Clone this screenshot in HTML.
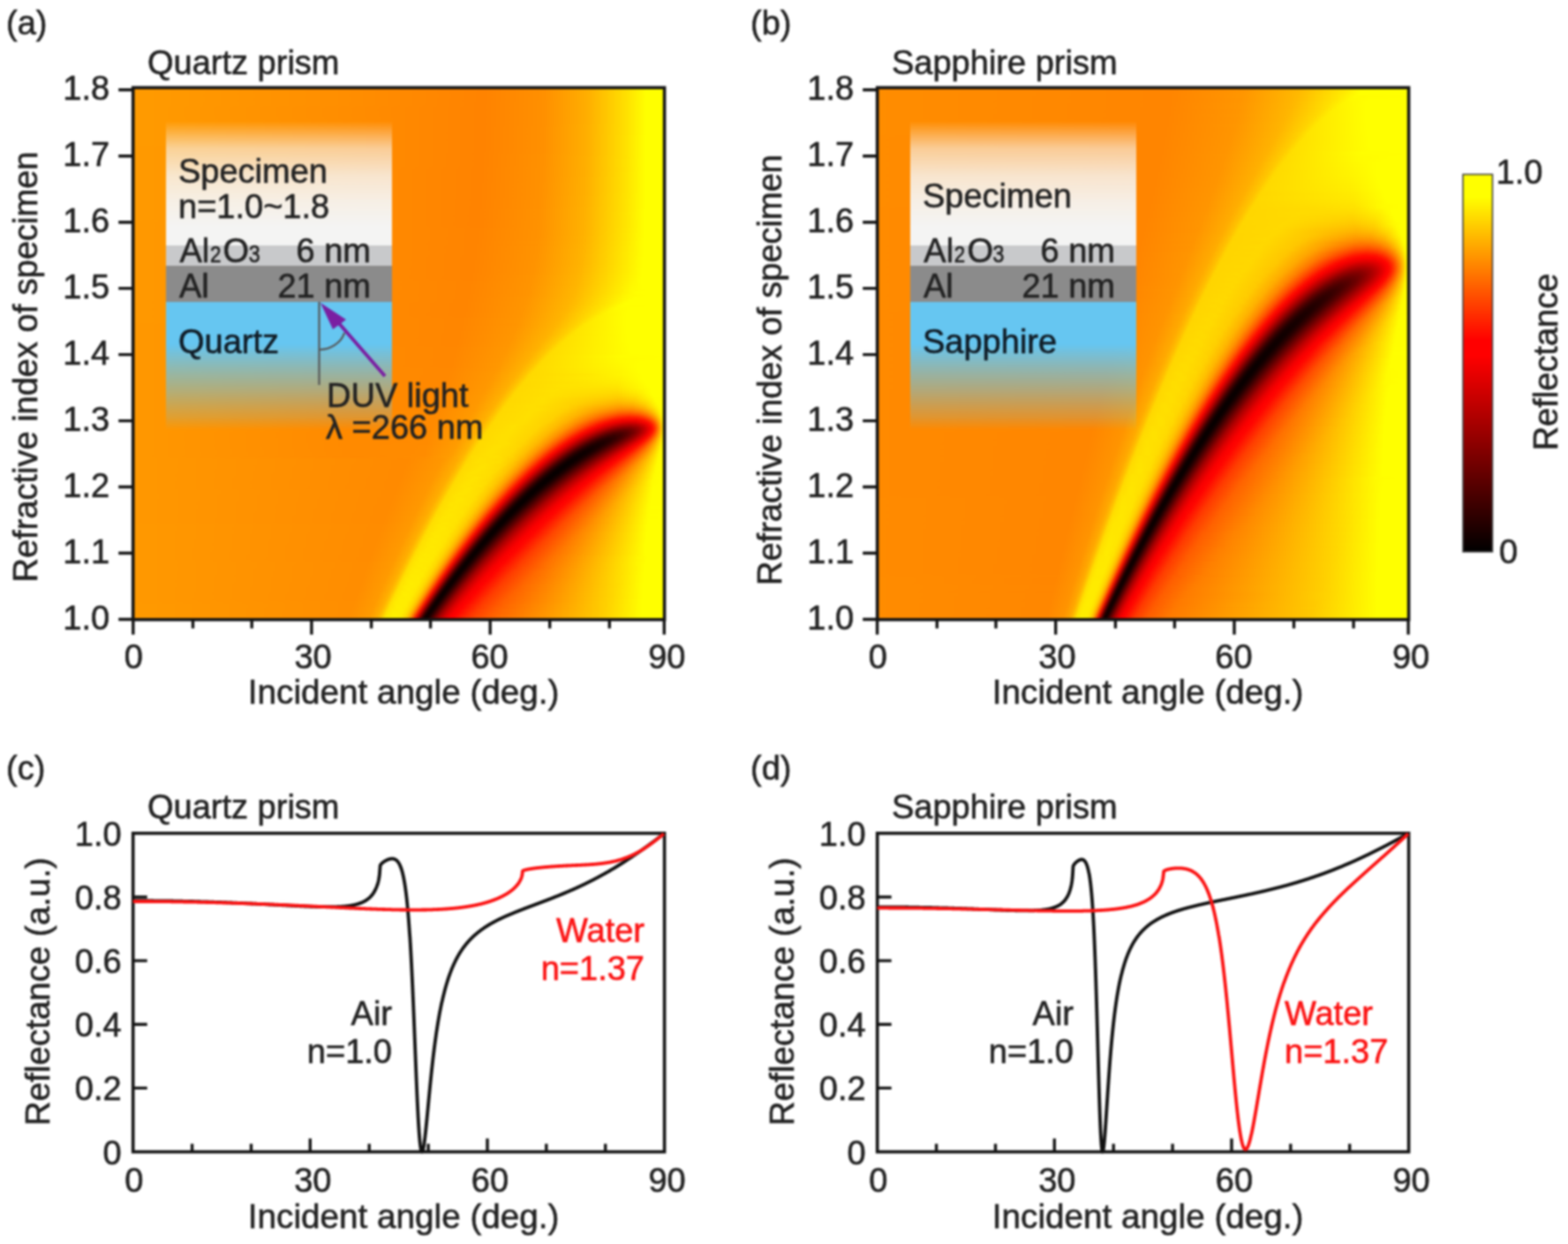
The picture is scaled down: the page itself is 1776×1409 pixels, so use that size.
<!DOCTYPE html>
<html><head><meta charset="utf-8"><style>
html,body{margin:0;padding:0;background:#fff}
body{width:1776px;height:1409px;position:relative;overflow:hidden}
#w{position:absolute;left:0;top:0;width:1776px;height:1409px;filter:blur(0.8px)}
.hm{position:absolute;overflow:hidden}
.hm i{display:block;width:100%}
.ins{position:absolute}
svg{position:absolute;left:0;top:0}
text{font-family:"Liberation Sans", Arial, sans-serif;font-size:38px;fill:#222;stroke:#222;stroke-width:.6px}
</style></head><body><div id="w">

<div class="hm" style="left:150.7px;top:99.3px;width:601.9px;height:602.5px">
<i style="height:3px;background:linear-gradient(90deg,#ff9b00 0px,#ff8f00 226px,#ff8300 398px,#ff9000 466px,#ffaf00 515px,#ffe100 559px,#ff0 581px,#ff0 602px)"></i>
<i style="height:3px;background:linear-gradient(90deg,#ff9b00 0px,#ff8f00 227px,#ff8300 398px,#ff9000 466px,#ffaf00 515px,#ffe100 559px,#ff0 581px,#ff0 602px)"></i>
<i style="height:3px;background:linear-gradient(90deg,#ff9b00 0px,#ff8f00 227px,#ff8300 398px,#ff9000 466px,#ffaf00 515px,#ffe100 559px,#ff0 581px,#ff0 602px)"></i>
<i style="height:3px;background:linear-gradient(90deg,#ff9b00 0px,#ff8f00 227px,#ff8300 398px,#ff9000 466px,#ffaf00 515px,#ffe100 559px,#ff0 581px,#ff0 602px)"></i>
<i style="height:3px;background:linear-gradient(90deg,#ff9b00 0px,#ff8f00 227px,#ff8300 398px,#ff9000 466px,#ffaf00 515px,#ffe100 559px,#ff0 581px,#ff0 602px)"></i>
<i style="height:3px;background:linear-gradient(90deg,#ff9b00 0px,#ff8f00 227px,#ff8300 397px,#ff9000 465px,#ffae00 514px,#ffe000 558px,#ff0 581px,#ff0 602px)"></i>
<i style="height:3px;background:linear-gradient(90deg,#ff9b00 0px,#ff8f00 227px,#ff8300 397px,#ff9000 465px,#ffae00 514px,#ffe000 558px,#ff0 581px,#ff0 602px)"></i>
<i style="height:3px;background:linear-gradient(90deg,#ff9b00 0px,#ff8e00 227px,#ff8300 397px,#ff9000 465px,#ffae00 514px,#ffe000 558px,#ff0 581px,#ff0 602px)"></i>
<i style="height:3px;background:linear-gradient(90deg,#ff9b00 0px,#ff8e00 227px,#ff8300 397px,#ff9000 465px,#ffae00 514px,#ffe000 558px,#ff0 581px,#ff0 602px)"></i>
<i style="height:3px;background:linear-gradient(90deg,#ff9b00 0px,#ff8e00 227px,#ff8300 397px,#ff9000 465px,#ffae00 514px,#ffe000 558px,#ff0 581px,#ff0 602px)"></i>
<i style="height:3px;background:linear-gradient(90deg,#ff9b00 0px,#ff8e00 227px,#ff8300 397px,#ff9000 465px,#ffae00 514px,#ffe000 558px,#ff0 581px,#ff0 602px)"></i>
<i style="height:3px;background:linear-gradient(90deg,#ff9b00 0px,#ff8e00 228px,#ff8300 397px,#ff9000 465px,#ffae00 514px,#ffe000 558px,#ff0 581px,#ff0 602px)"></i>
<i style="height:3px;background:linear-gradient(90deg,#ff9b00 0px,#ff8e00 228px,#ff8300 397px,#ff9000 465px,#ffae00 514px,#ffe000 558px,#ff0 581px,#ff0 602px)"></i>
<i style="height:3px;background:linear-gradient(90deg,#ff9b00 0px,#ff8e00 228px,#ff8300 397px,#ff9000 465px,#ffae00 514px,#ffe000 558px,#ff0 581px,#ff0 602px)"></i>
<i style="height:3px;background:linear-gradient(90deg,#ff9b00 0px,#ff8e00 228px,#ff8300 397px,#ff9000 465px,#ffaf00 514px,#ffe000 558px,#ff0 581px,#ff0 602px)"></i>
<i style="height:3px;background:linear-gradient(90deg,#ff9b00 0px,#ff8e00 228px,#ff8300 396px,#ff9000 464px,#ffaf00 514px,#ffe000 558px,#ff0 581px,#ff0 602px)"></i>
<i style="height:3px;background:linear-gradient(90deg,#ff9b00 0px,#ff8e00 228px,#ff8300 396px,#ff9000 464px,#ffaf00 514px,#ffe000 558px,#ff0 581px,#ff0 602px)"></i>
<i style="height:3px;background:linear-gradient(90deg,#ff9b00 0px,#ff8e00 228px,#ff8300 396px,#ff9000 464px,#ffaf00 514px,#ffe000 558px,#ff0 581px,#ff0 602px)"></i>
<i style="height:3px;background:linear-gradient(90deg,#ff9b00 0px,#ff8e00 228px,#ff8300 396px,#ff9000 464px,#ffaf00 514px,#ffe100 558px,#ff0 580px,#ff0 602px)"></i>
<i style="height:3px;background:linear-gradient(90deg,#ff9b00 0px,#ff8e00 228px,#ff8300 396px,#ff9000 464px,#ffaf00 514px,#ffe100 558px,#ff0 580px,#ff0 602px)"></i>
<i style="height:3px;background:linear-gradient(90deg,#ff9b00 0px,#ff8e00 228px,#ff8300 396px,#ff9000 464px,#ffaf00 514px,#ffe100 558px,#ff0 580px,#ff0 602px)"></i>
<i style="height:3px;background:linear-gradient(90deg,#ff9b00 0px,#ff8e00 229px,#ff8300 396px,#ff9000 464px,#ffaf00 514px,#ffe100 558px,#ff0 580px,#ff0 602px)"></i>
<i style="height:3px;background:linear-gradient(90deg,#ff9a00 0px,#ff8e00 229px,#ff8300 396px,#ff9000 464px,#ffaf00 514px,#ffe100 558px,#ff0 580px,#ff0 602px)"></i>
<i style="height:3px;background:linear-gradient(90deg,#ff9a00 0px,#ff8e00 229px,#ff8300 396px,#ff9000 464px,#ffaf00 514px,#ffe100 558px,#ff0 580px,#ff0 602px)"></i>
<i style="height:3px;background:linear-gradient(90deg,#ff9a00 0px,#ff8e00 229px,#ff8300 395px,#ff9000 464px,#ffaf00 514px,#ffe100 558px,#ff0 580px,#ff0 602px)"></i>
<i style="height:3px;background:linear-gradient(90deg,#ff9a00 0px,#ff8e00 229px,#ff8300 395px,#ff9100 464px,#ffaf00 514px,#ffe100 558px,#ff0 580px,#ff0 602px)"></i>
<i style="height:3px;background:linear-gradient(90deg,#ff9a00 0px,#ff8e00 229px,#ff8300 395px,#ff9100 464px,#ffb000 514px,#ffe200 559px,#ff0 580px,#ff0 602px)"></i>
<i style="height:3px;background:linear-gradient(90deg,#ff9a00 0px,#ff8e00 229px,#ff8300 395px,#ff9100 464px,#ffb000 514px,#ffe300 559px,#ff0 580px,#ff0 602px)"></i>
<i style="height:3px;background:linear-gradient(90deg,#ff9a00 0px,#ff8e00 229px,#ff8300 395px,#ff9100 464px,#ffb000 514px,#ffe300 559px,#ff0 580px,#ff0 602px)"></i>
<i style="height:3px;background:linear-gradient(90deg,#ff9a00 0px,#ff8e00 229px,#ff8300 395px,#ff9100 464px,#ffb000 514px,#ffe300 559px,#ff0 580px,#ff0 602px)"></i>
<i style="height:3px;background:linear-gradient(90deg,#ff9a00 0px,#ff8d00 229px,#ff8300 394px,#ff9100 463px,#ffaf00 513px,#ffe100 558px,#ff0 580px,#ff0 602px)"></i>
<i style="height:3px;background:linear-gradient(90deg,#ff9a00 0px,#ff8d00 230px,#ff8300 394px,#ff9100 463px,#ffaf00 513px,#ffe100 558px,#ff0 580px,#ff0 602px)"></i>
<i style="height:3px;background:linear-gradient(90deg,#ff9a00 0px,#ff8d00 230px,#ff8300 394px,#ff9100 463px,#ffaf00 513px,#ffe200 558px,#ff0 580px,#ff0 602px)"></i>
<i style="height:3px;background:linear-gradient(90deg,#ff9a00 0px,#ff8d00 230px,#ff8300 394px,#ff9100 463px,#ffaf00 513px,#ffe200 558px,#ff0 580px,#ff0 602px)"></i>
<i style="height:3px;background:linear-gradient(90deg,#ff9a00 0px,#ff8d00 230px,#ff8300 394px,#ff9100 463px,#ffb000 513px,#ffe200 558px,#ff0 580px,#ff0 602px)"></i>
<i style="height:3px;background:linear-gradient(90deg,#ff9a00 0px,#ff8d00 230px,#ff8300 394px,#ff9100 463px,#ffb000 513px,#ffe200 558px,#ff0 580px,#ff0 602px)"></i>
<i style="height:3px;background:linear-gradient(90deg,#ff9a00 0px,#ff8d00 230px,#ff8300 393px,#ff9100 462px,#ffb000 513px,#ffe200 558px,#ff0 580px,#ff0 602px)"></i>
<i style="height:3px;background:linear-gradient(90deg,#ff9a00 0px,#ff8d00 230px,#ff8300 393px,#ff9100 462px,#ffb000 513px,#ffe200 558px,#ff0 580px,#ff0 602px)"></i>
<i style="height:3px;background:linear-gradient(90deg,#ff9a00 0px,#ff8d00 230px,#ff8300 393px,#ff9100 462px,#ffb000 513px,#ffe200 558px,#ff0 580px,#ff0 602px)"></i>
<i style="height:3px;background:linear-gradient(90deg,#ff9a00 0px,#ff8d00 230px,#ff8300 393px,#ff9100 462px,#ffb000 513px,#ffe200 558px,#ff0 580px,#ff0 602px)"></i>
<i style="height:3px;background:linear-gradient(90deg,#ff9a00 0px,#ff8d00 230px,#ff8300 393px,#ff9100 462px,#ffb000 513px,#ffe400 559px,#ff0 580px,#ff0 602px)"></i>
<i style="height:3px;background:linear-gradient(90deg,#ff9a00 0px,#ff8d00 231px,#ff8300 393px,#ff9100 462px,#ffb100 513px,#ffe400 559px,#ff0 580px,#ff0 602px)"></i>
<i style="height:3px;background:linear-gradient(90deg,#ff9a00 0px,#ff8d00 231px,#ff8300 392px,#ff9100 461px,#ffb000 512px,#ffe300 558px,#ff0 580px,#ff0 602px)"></i>
<i style="height:3px;background:linear-gradient(90deg,#ff9a00 0px,#ff8d00 231px,#ff8300 392px,#ff9100 461px,#ffb000 512px,#ffe300 558px,#ff0 580px,#ff0 602px)"></i>
<i style="height:3px;background:linear-gradient(90deg,#ff9a00 0px,#ff8d00 231px,#ff8300 392px,#ff9100 461px,#ffb000 512px,#ffe300 558px,#ff0 580px,#ff0 602px)"></i>
<i style="height:3px;background:linear-gradient(90deg,#ff9a00 0px,#ff8d00 231px,#ff8300 392px,#ff9100 461px,#ffb100 512px,#ffe300 558px,#ff0 580px,#ff0 602px)"></i>
<i style="height:3px;background:linear-gradient(90deg,#ff9a00 0px,#ff8d00 231px,#ff8300 391px,#ff9200 461px,#ffb100 512px,#ffe300 558px,#ff0 579px,#ff0 602px)"></i>
<i style="height:3px;background:linear-gradient(90deg,#ff9a00 0px,#ff8d00 231px,#ff8300 391px,#ff9200 461px,#ffb100 512px,#ffe400 558px,#ff0 579px,#ff0 602px)"></i>
<i style="height:3px;background:linear-gradient(90deg,#ff9a00 0px,#ff8d00 231px,#ff8300 391px,#ff9200 461px,#ffb100 512px,#ffe500 559px,#ff0 579px,#ff0 602px)"></i>
<i style="height:3px;background:linear-gradient(90deg,#ff9a00 0px,#ff8d00 231px,#ff8300 391px,#ff9200 461px,#ffb100 512px,#ffe500 559px,#ff0 579px,#ff0 602px)"></i>
<i style="height:3px;background:linear-gradient(90deg,#f90 0px,#ff8d00 231px,#ff8300 390px,#ff9200 460px,#ffb200 512px,#ffe600 559px,#ff0 579px,#ff0 602px)"></i>
<i style="height:3px;background:linear-gradient(90deg,#f90 0px,#ff8d00 232px,#ff8300 390px,#ff9200 460px,#ffb200 512px,#ffe600 559px,#ff0 579px,#ff0 602px)"></i>
<i style="height:3px;background:linear-gradient(90deg,#f90 0px,#ff8d00 232px,#ff8300 390px,#ff9200 460px,#ffb200 512px,#ffe600 559px,#ff0 579px,#ff0 602px)"></i>
<i style="height:3px;background:linear-gradient(90deg,#f90 0px,#ff8c00 232px,#ff8400 390px,#ff9200 460px,#ffb200 512px,#ffe800 560px,#ff0 579px,#ff0 602px)"></i>
<i style="height:3px;background:linear-gradient(90deg,#f90 0px,#ff8c00 232px,#ff8400 389px,#ff9200 459px,#ffb200 511px,#ffe600 559px,#ff0 579px,#ff0 602px)"></i>
<i style="height:3px;background:linear-gradient(90deg,#f90 0px,#ff8c00 232px,#ff8400 389px,#ff9200 459px,#ffb200 511px,#ffe700 559px,#ff0 579px,#ff0 602px)"></i>
<i style="height:3px;background:linear-gradient(90deg,#f90 0px,#ff8c00 232px,#ff8400 389px,#ff9200 459px,#ffb300 511px,#ffe700 559px,#ff0 579px,#ff0 602px)"></i>
<i style="height:3px;background:linear-gradient(90deg,#f90 0px,#ff8c00 232px,#ff8400 388px,#ff9200 458px,#ffb200 510px,#ffe700 559px,#ff0 578px,#ff0 602px)"></i>
<i style="height:3px;background:linear-gradient(90deg,#f90 0px,#ff8c00 232px,#ff8400 388px,#ff9300 458px,#ffb200 510px,#ffe800 559px,#ff0 578px,#ff0 602px)"></i>
<i style="height:3px;background:linear-gradient(90deg,#f90 0px,#ff8c00 232px,#ff8400 387px,#ff9200 457px,#ffb300 510px,#ffe800 559px,#ff0 578px,#ff0 602px)"></i>
<i style="height:3px;background:linear-gradient(90deg,#f90 0px,#ff8c00 233px,#ff8400 387px,#ff9300 457px,#ffb300 510px,#ffea00 560px,#ff0 578px,#ff0 602px)"></i>
<i style="height:3px;background:linear-gradient(90deg,#f90 0px,#ff8c00 233px,#ff8400 387px,#ff9300 457px,#ffb400 510px,#ffea00 560px,#ff0 578px,#ff0 602px)"></i>
<i style="height:3px;background:linear-gradient(90deg,#f90 0px,#ff8c00 233px,#ff8400 387px,#ff9300 457px,#ffb400 510px,#ffec00 561px,#ff0 578px,#ff0 602px)"></i>
<i style="height:3px;background:linear-gradient(90deg,#f90 0px,#ff8c00 233px,#ff8400 386px,#ff9300 456px,#ffb400 509px,#ffeb00 560px,#ff0 578px,#ff0 602px)"></i>
<i style="height:3px;background:linear-gradient(90deg,#f90 0px,#ff8c00 233px,#ff8400 386px,#ff9300 456px,#ffb400 509px,#ffeb00 560px,#ff0 577px,#ff0 602px)"></i>
<i style="height:3px;background:linear-gradient(90deg,#f90 0px,#ff8c00 233px,#ff8400 385px,#ff9300 455px,#ffb400 508px,#ffec00 560px,#ff0 577px,#ff0 602px)"></i>
<i style="height:3px;background:linear-gradient(90deg,#f90 0px,#ff8c00 233px,#ff8400 385px,#ff9300 454px,#ffb300 507px,#ffeb00 559px,#ff0 577px,#ff0 602px)"></i>
<i style="height:3px;background:linear-gradient(90deg,#f90 0px,#ff8c00 233px,#ff8400 384px,#ff9300 454px,#ffb400 507px,#ffed00 560px,#ff0 577px,#ff0 602px)"></i>
<i style="height:3px;background:linear-gradient(90deg,#f90 0px,#ff8c00 233px,#ff8400 384px,#ff9300 453px,#ffb400 506px,#ffed00 560px,#ff0 576px,#ff0 602px)"></i>
<i style="height:3px;background:linear-gradient(90deg,#f90 0px,#ff8c00 233px,#ff8400 384px,#ff9300 453px,#ffb400 506px,#ffef00 561px,#ff0 576px,#ff0 602px)"></i>
<i style="height:3px;background:linear-gradient(90deg,#f90 0px,#ff8c00 234px,#ff8400 383px,#ff9300 452px,#ffb400 505px,#fff000 561px,#ff0 576px,#ff0 602px)"></i>
<i style="height:3px;background:linear-gradient(90deg,#f90 0px,#ff8c00 234px,#ff8400 383px,#ff9400 452px,#ffb500 505px,#fff200 562px,#ff0 576px,#ff0 602px)"></i>
<i style="height:3px;background:linear-gradient(90deg,#f90 0px,#ff8c00 234px,#ff8400 382px,#ff9400 451px,#ffb500 504px,#fff300 562px,#ff0 575px,#ff0 602px)"></i>
<i style="height:3px;background:linear-gradient(90deg,#f90 0px,#ff8c00 234px,#ff8500 382px,#ff9400 451px,#ffb600 504px,#fff500 563px,#ff0 575px,#ff0 602px)"></i>
<i style="height:3px;background:linear-gradient(90deg,#f90 0px,#ff8c00 234px,#ff8500 381px,#ff9400 450px,#ffb500 503px,#fff700 564px,#ff0 576px,#ff0 602px)"></i>
<i style="height:3px;background:linear-gradient(90deg,#f90 0px,#ff8c00 234px,#ff8500 381px,#ff9400 449px,#ffb600 502px,#fff900 564px,#ff0 577px,#ff0 602px)"></i>
<i style="height:3px;background:linear-gradient(90deg,#f90 0px,#ff8c00 234px,#ff8500 380px,#ff9400 448px,#ffb600 501px,#fffa00 564px,#ff0 580px,#ff0 602px)"></i>
<i style="height:3px;background:linear-gradient(90deg,#f90 0px,#ff8c00 234px,#ff8500 380px,#ff9400 448px,#ffb600 500px,#ff0 569px,#ff0 602px)"></i>
<i style="height:3px;background:linear-gradient(90deg,#f90 0px,#ff8c00 234px,#ff8500 379px,#ff9400 447px,#ffb600 499px,#fffa00 561px,#ff0 580px,#ff0 602px)"></i>
<i style="height:3px;background:linear-gradient(90deg,#f90 0px,#ff8c00 235px,#ff8500 379px,#ff9500 446px,#ffb600 498px,#fff600 555px,#ff0 568px,#ff0 602px)"></i>
<i style="height:3px;background:linear-gradient(90deg,#f90 0px,#ff8c00 235px,#ff8500 378px,#ff9500 445px,#ffb600 496px,#ffef00 547px,#ff0 562px,#ff0 602px)"></i>
<i style="height:3px;background:linear-gradient(90deg,#f90 0px,#ff8b00 235px,#ff8500 377px,#ff9500 444px,#ffb600 495px,#ffea00 541px,#ff0 557px,#ff0 602px)"></i>
<i style="height:3px;background:linear-gradient(90deg,#f90 0px,#ff8b00 235px,#ff8500 377px,#ff9500 443px,#ffb600 493px,#ffe600 535px,#fffe00 552px,#ff0 602px)"></i>
<i style="height:3px;background:linear-gradient(90deg,#f90 0px,#ff8b00 235px,#ff8500 376px,#ff9500 442px,#ffb500 491px,#ffe200 529px,#fffa00 545px,#ff0 565px,#ff0 602px)"></i>
<i style="height:3px;background:linear-gradient(90deg,#f90 0px,#ff8b00 235px,#ff8500 376px,#ff9500 441px,#ffb600 490px,#ffdf00 524px,#fff600 539px,#ff0 560px,#ff0 602px)"></i>
<i style="height:3px;background:linear-gradient(90deg,#f90 0px,#ff8b00 235px,#ff8500 375px,#ff9500 440px,#ffb600 488px,#fd0 520px,#fff200 533px,#ff0 559px,#ff0 602px)"></i>
<i style="height:3px;background:linear-gradient(90deg,#f90 0px,#ff8b00 235px,#ff8500 374px,#ff9500 439px,#ffb500 486px,#ffda00 515px,#ffef00 527px,#ff0 558px,#ff0 602px)"></i>
<i style="height:3px;background:linear-gradient(90deg,#f90 0px,#ff8b00 235px,#ff8600 373px,#ff9500 437px,#ffb400 483px,#ffd700 510px,#ffed00 522px,#ff0 558px,#ff0 602px)"></i>
<i style="height:3px;background:linear-gradient(90deg,#f90 0px,#ff8b00 236px,#ff8600 373px,#ff9600 437px,#ffb500 482px,#ffd500 506px,#ffea00 517px,#ff0 558px,#ff0 602px)"></i>
<i style="height:3px;background:linear-gradient(90deg,#ff9800 0px,#ff8b00 236px,#ff8600 372px,#ff9500 435px,#ffb400 479px,#ffd300 502px,#ffe800 512px,#ff0 558px,#ff0 602px)"></i>
<i style="height:3px;background:linear-gradient(90deg,#ff9800 0px,#ff8b00 236px,#ff8600 372px,#ff9600 435px,#ffb400 477px,#ffd100 498px,#ffe600 508px,#ff0 559px,#ff0 602px)"></i>
<i style="height:3px;background:linear-gradient(90deg,#ff9800 0px,#ff8b00 236px,#ff8600 371px,#ff9600 433px,#ffb400 475px,#ffd200 495px,#ffe500 504px,#ff0 559px,#ff0 602px)"></i>
<i style="height:3px;background:linear-gradient(90deg,#ff9800 0px,#ff8b00 236px,#ff8600 370px,#ff9600 432px,#ffb300 472px,#ffcf00 491px,#ffe400 500px,#ff0 559px,#ff0 602px)"></i>
<i style="height:3px;background:linear-gradient(90deg,#ff9800 0px,#ff8b00 236px,#ff8600 369px,#ff9600 430px,#ffb300 470px,#ffcd00 487px,#ffe200 496px,#ff0 560px,#ff0 602px)"></i>
<i style="height:3px;background:linear-gradient(90deg,#ff9800 0px,#ff8b00 236px,#ff8600 369px,#ff9600 429px,#ffb200 467px,#ffcd00 484px,#ffe200 493px,#ff0 560px,#ff0 602px)"></i>
<i style="height:3px;background:linear-gradient(90deg,#ff9800 0px,#ff8b00 236px,#ff8600 368px,#ff9600 428px,#ffb300 465px,#ffcd00 481px,#ffe000 489px,#ff0 560px,#ff0 602px)"></i>
<i style="height:3px;background:linear-gradient(90deg,#ff9800 0px,#ff8b00 237px,#ff8600 367px,#ff9600 426px,#ffb200 462px,#ffca00 477px,#ffdf00 485px,#ff0 561px,#ff0 602px)"></i>
<i style="height:3px;background:linear-gradient(90deg,#ff9800 0px,#ff8b00 237px,#ff8600 366px,#ff9600 425px,#ffb200 460px,#ffca00 474px,#ffde00 482px,#ff0 562px,#ff0 602px)"></i>
<i style="height:3px;background:linear-gradient(90deg,#ff9800 0px,#ff8b00 237px,#ff8700 366px,#ff9700 424px,#ffb200 458px,#ffc900 471px,#ffde00 479px,#ff0 563px,#ff0 602px)"></i>
<i style="height:3px;background:linear-gradient(90deg,#ff9800 0px,#ff8b00 237px,#ff8700 365px,#ff9700 422px,#ffb100 455px,#ffc900 468px,#fd0 475px,#ff0 563px,#ff0 602px)"></i>
<i style="height:3px;background:linear-gradient(90deg,#ff9800 0px,#ff8b00 237px,#ff8700 364px,#ff9700 421px,#ffb200 453px,#ffc800 465px,#ffdc00 472px,#ff0 565px,#ff0 602px)"></i>
<i style="height:3px;background:linear-gradient(90deg,#ff9800 0px,#ff8b00 237px,#ff8700 363px,#ff9700 419px,#ffb200 451px,#ffc700 462px,#ffdc00 469px,#fffd00 553px,#ff0 602px)"></i>
<i style="height:3px;background:linear-gradient(90deg,#ff9800 0px,#ff8b00 237px,#ff8700 362px,#ff9700 417px,#ffb100 448px,#ffc600 459px,#ffdb00 466px,#fffb00 552px,#ff0 596px,#ff0 602px)"></i>
<i style="height:3px;background:linear-gradient(90deg,#ff9800 0px,#ff8b00 237px,#ff8700 361px,#ff9700 416px,#ffb100 446px,#ffc800 457px,#ffdb00 463px,#fffa00 551px,#ff0 575px,#ff0 602px)"></i>
<i style="height:3px;background:linear-gradient(90deg,#ff9800 0px,#ff8b00 238px,#ff8700 361px,#ff9800 415px,#ffb200 444px,#ffc700 454px,#ffdb00 461px,#fff800 550px,#ff0 571px,#ff0 602px)"></i>
<i style="height:3px;background:linear-gradient(90deg,#ff9800 0px,#ff8b00 238px,#ff8700 360px,#ff9700 413px,#ffb100 441px,#ffc500 451px,#ffdb00 458px,#fff700 549px,#ff0 571px,#ff0 602px)"></i>
<i style="height:3px;background:linear-gradient(90deg,#ff9800 0px,#ff8b00 238px,#f80 359px,#ff9700 411px,#ffb100 439px,#ffc700 449px,#ffda00 455px,#fff500 549px,#ff0 572px,#ff0 602px)"></i>
<i style="height:3px;background:linear-gradient(90deg,#ff9800 0px,#ff8b00 238px,#f80 358px,#ff9800 410px,#ffb100 437px,#ffc600 446px,#ffd900 452px,#fff400 550px,#ff0 573px,#ff0 602px)"></i>
<i style="height:3px;background:linear-gradient(90deg,#ff9800 0px,#ff8b00 238px,#f80 357px,#ff9800 408px,#ffb000 434px,#ffc400 443px,#ffd900 449px,#ffe700 515px,#fff800 559px,#ff0 577px,#ff0 602px)"></i>
<i style="height:3px;background:linear-gradient(90deg,#ff9800 0px,#ff8b00 238px,#f80 356px,#ff9800 406px,#ffb000 432px,#ffc500 441px,#ffd900 447px,#fff100 550px,#ff0 576px,#ff0 602px)"></i>
<i style="height:3px;background:linear-gradient(90deg,#ff9800 0px,#ff8b00 239px,#f80 355px,#ff9800 405px,#ffb100 430px,#ffc700 439px,#ffda00 445px,#fe0 549px,#ff0 578px,#ff0 602px)"></i>
<i style="height:3px;background:linear-gradient(90deg,#ff9800 0px,#ff8b00 239px,#f80 354px,#ff9800 403px,#ffb100 428px,#ffc500 436px,#ffd900 442px,#ffe300 501px,#ffec00 551px,#ff0 580px,#ff0 602px)"></i>
<i style="height:3px;background:linear-gradient(90deg,#ff9800 0px,#ff8b00 239px,#f80 353px,#ff9800 401px,#ffb000 425px,#ffc600 434px,#ffd800 439px,#ffe200 486px,#ffe700 548px,#ff0 583px,#ff0 602px)"></i>
<i style="height:3px;background:linear-gradient(90deg,#ff9800 0px,#ff8b00 239px,#f80 352px,#ff9800 400px,#ffb000 423px,#ffc400 431px,#ffd900 437px,#ffe100 487px,#ffe300 548px,#fff700 574px,#ff0 586px,#ff0 602px)"></i>
<i style="height:3px;background:linear-gradient(90deg,#ff9800 0px,#ff8b00 239px,#f80 351px,#ff9800 398px,#ffb000 421px,#ffc500 429px,#ffd800 434px,#ffe100 474px,#ffde00 548px,#fff000 572px,#ff0 586px,#ff0 602px)"></i>
<i style="height:3px;background:linear-gradient(90deg,#ff9800 0px,#ff8b00 239px,#f80 350px,#ff9800 396px,#ffb000 419px,#ffc700 427px,#ffd900 432px,#ffe000 475px,#ffd800 548px,#ffe900 571px,#ff0 587px,#ff0 602px)"></i>
<i style="height:3px;background:linear-gradient(90deg,#ff9800 0px,#ff8a00 240px,#ff8900 350px,#f90 395px,#ffb100 417px,#ffc400 424px,#ffd900 430px,#ffe000 474px,#ffd100 549px,#ffe000 570px,#ff0 589px,#ff0 602px)"></i>
<i style="height:3px;background:linear-gradient(90deg,#ff9800 0px,#ff8a00 240px,#ff8900 349px,#f90 394px,#ffb100 415px,#ffc500 422px,#ffd800 427px,#ffe000 464px,#ffd300 514px,#ffc800 550px,#ffd500 569px,#fffe00 591px,#ff0 602px)"></i>
<i style="height:3px;background:linear-gradient(90deg,#ff9800 0px,#ff8a00 240px,#ff8900 348px,#f90 392px,#ffb100 413px,#ffc600 420px,#ffd800 425px,#ffdf00 464px,#ffd100 508px,#ffbd00 549px,#ffc700 567px,#ffe300 582px,#fffe00 592px,#ff0 602px)"></i>
<i style="height:3px;background:linear-gradient(90deg,#ff9800 0px,#ff8a00 240px,#ff8900 347px,#f90 390px,#ffb100 411px,#ffc700 418px,#ffd900 423px,#ffdf00 462px,#ffd000 502px,#ffb000 549px,#ffb700 566px,#ffd200 580px,#fffe00 594px,#ff0 602px)"></i>
<i style="height:3px;background:linear-gradient(90deg,#ff9800 0px,#ff8a00 240px,#ff8900 345px,#f90 388px,#ffaf00 408px,#ffc300 415px,#ffd800 420px,#ffdf00 451px,#ffd400 490px,#ff9e00 551px,#ffa400 566px,#ffbf00 579px,#fff200 592px,#ff0 597px,#ff0 602px)"></i>
<i style="height:3px;background:linear-gradient(90deg,#ff9800 0px,#ff8a00 241px,#ff8900 345px,#f90 387px,#ffb100 407px,#ffc900 414px,#ffda00 419px,#ffdf00 458px,#ffcf00 492px,#ffa600 527px,#ff8900 552px,#ff8c00 566px,#ffa300 577px,#ffd000 588px,#fffa00 596px,#ff0 602px)"></i>
<i style="height:3px;background:linear-gradient(90deg,#ff9800 0px,#ff8a00 241px,#ff8a00 344px,#ff9a00 386px,#ffb200 405px,#ffc500 411px,#ffd800 416px,#ffdf00 450px,#ffd200 484px,#ffb000 512px,#ff7100 550px,#ff6c00 563px,#ff7e00 574px,#ffa000 583px,#ffd700 592px,#fff800 597px,#ff0 602px)"></i>
<i style="height:3px;background:linear-gradient(90deg,#ff9800 0px,#ff8a00 241px,#ff8a00 343px,#ff9a00 384px,#ffb200 403px,#ffc500 409px,#ffd900 414px,#ffdf00 448px,#ffd100 480px,#ffb200 505px,#ff4f00 551px,#ff4800 563px,#ff5700 573px,#ff7600 581px,#fa0 589px,#fff700 598px,#ff0 602px)"></i>
<i style="height:3px;background:linear-gradient(90deg,#ff9800 0px,#ff8a00 241px,#ff8a00 342px,#ff9a00 382px,#ffb000 400px,#ffc600 407px,#ffd900 412px,#ffdf00 446px,#ffd100 476px,#ffb200 499px,#ff7e00 521px,#ff2d00 549px,#ff1e00 561px,#ff2600 571px,#ff3e00 578px,#ff6900 585px,#ffa900 592px,#fe0 598px,#fffe00 601px,#ff0 602px)"></i>
<i style="height:3px;background:linear-gradient(90deg,#ff9800 0px,#ff8a00 242px,#ff8a00 341px,#ff9a00 381px,#ffb200 399px,#ffc600 405px,#ffd900 410px,#ffdf00 444px,#ffd100 473px,#ffb200 494px,#ff8100 513px,#fe1600 543px,#f90600 554px,#f80600 570px,#fe1400 578px,#ff2f00 583px,#ff6700 589px,#ffb500 595px,#fe0 599px,#fffc00 601px,#fffe00 602px)"></i>
<i style="height:3px;background:linear-gradient(90deg,#ff9800 0px,#ff8a00 242px,#ff8a00 340px,#ff9a00 379px,#ffb200 397px,#ffc700 403px,#ffda00 408px,#ffdf00 442px,#ffd000 470px,#ffb100 490px,#ff8100 507px,#ff3600 525px,#fd0f00 535px,#ef0200 545px,#d50000 560px,#d90000 569px,#f90600 581px,#fe1800 585px,#ff4300 589px,#ff8d00 594px,#ffe500 599px,#fff900 601px,#fffd00 602px)"></i>
<i style="height:3px;background:linear-gradient(90deg,#ff9800 0px,#ff8a00 242px,#ff8a00 339px,#ff9a00 377px,#ffb200 395px,#ffc700 401px,#ffd800 405px,#ffe000 432px,#ffd500 461px,#ffba00 481px,#ff9100 497px,#ff5400 512px,#fe1000 526px,#f30200 533px,#b30000 553px,#a90000 562px,#b30000 570px,#d40000 578px,#fb0500 585px,#ff1a00 588px,#f50 592px,#ffb500 597px,#ffec00 600px,#fffc00 602px)"></i>
<i style="height:3px;background:linear-gradient(90deg,#ff9800 0px,#ff8a00 243px,#ff8a00 338px,#ff9b00 376px,#ffb200 393px,#ffc700 399px,#ffd800 403px,#ffe000 430px,#ffd500 458px,#ffba00 477px,#ff9200 492px,#ff5b00 505px,#fe1000 519px,#f00200 526px,#900 546px,#840000 555px,#830000 563px,#980000 571px,#be0000 578px,#fa0200 586px,#fe0e00 588px,#ff3800 591px,#f90 596px,#ffd900 599px,#fff500 601px,#fffc00 602px)"></i>
<i style="height:3px;background:linear-gradient(90deg,#ff9800 0px,#ff8a00 243px,#ff8a00 337px,#ff9b00 374px,#ffb200 391px,#ffc800 397px,#ffd900 401px,#ffe000 428px,#ffd500 455px,#fb0 473px,#ff9400 487px,#ff5a00 500px,#fe0f00 513px,#f10200 519px,#7f0000 541px,#650000 550px,#610000 558px,#740000 566px,#9d0000 574px,#db0000 582px,#fa0300 586px,#fe1000 588px,#ff3c00 591px,#ff9d00 596px,#ffdb00 599px,#fff600 601px,#fffc00 602px)"></i>
<i style="height:3px;background:linear-gradient(90deg,#ff9800 0px,#ff8a00 244px,#ff8b00 336px,#ff9b00 373px,#ffb100 389px,#ffc800 395px,#ffd900 399px,#ffe000 426px,#ffd500 452px,#ffb900 470px,#ff8f00 484px,#f50 496px,#fd0d00 508px,#ec0100 514px,#6f0000 535px,#4e0000 544px,#480000 552px,#580000 560px,#7d0000 568px,#bd0000 577px,#f60200 584px,#fe1400 587px,#ff3e00 590px,#ffa900 596px,#ffe200 599px,#fff800 601px,#fffd00 602px)"></i>
<i style="height:3px;background:linear-gradient(90deg,#ff9800 0px,#ff8a00 244px,#ff8b00 335px,#ff9b00 371px,#ffb100 387px,#ffc800 393px,#ffd900 397px,#ffe000 423px,#ffd500 449px,#ffba00 466px,#ff9300 479px,#ff5d00 490px,#fe1000 502px,#f20200 507px,#c10000 515px,#640000 529px,#410000 537px,#350000 544px,#3f0000 552px,#5e0000 560px,#9d0000 570px,#f20200 581px,#fd0d00 584px,#ff2d00 587px,#ff9700 594px,#ffe900 599px,#fffb00 601px,#fffe00 602px)"></i>
<i style="height:3px;background:linear-gradient(90deg,#ff9800 0px,#ff8a00 244px,#ff8b00 334px,#ff9c00 370px,#ffb100 385px,#ffc800 391px,#ffd900 395px,#ffe000 421px,#ffd500 446px,#ffb900 463px,#ff9300 475px,#ff5b00 486px,#fe1000 497px,#f10200 502px,#c30000 509px,#5d0000 523px,#360000 531px,#280000 538px,#2f0000 545px,#4b0000 553px,#8d0000 564px,#f30200 578px,#fd0d00 581px,#f30 585px,#ffba00 595px,#fff000 599px,#fffd00 601px,#fffe00 602px)"></i>
<i style="height:3px;background:linear-gradient(90deg,#ff9800 0px,#ff8a00 245px,#ff8b00 333px,#ff9b00 368px,#ffb100 383px,#ffc700 389px,#ffd900 393px,#ffe000 418px,#ffd500 443px,#fb0 459px,#ff9400 471px,#ff6000 481px,#fd0d00 493px,#ec0100 498px,#a00000 508px,#4e0000 519px,#2c0000 526px,#1f0000 533px,#270000 540px,#470000 548px,#900000 560px,#f20100 574px,#fe0f00 578px,#ff3d00 583px,#fe0 598px,#fffe00 601px,#ff0 602px)"></i>
<i style="height:3px;background:linear-gradient(90deg,#ff9800 0px,#ff8a00 246px,#ff8b00 333px,#ff9c00 367px,#ffb300 382px,#ffcd00 388px,#ffdb00 392px,#ffe000 422px,#ffd100 444px,#ffb500 458px,#ff8d00 469px,#ff5900 478px,#fd1000 488px,#f30200 492px,#ca0000 498px,#500 512px,#2c0000 519px,#190000 526px,#1d0000 533px,#3a0000 541px,#810000 553px,#ee0100 569px,#fc0800 573px,#f20 577px,#ffcd00 594px,#fff500 598px,#fffe00 601px,#ff0 602px)"></i>
<i style="height:3px;background:linear-gradient(90deg,#ff9800 0px,#ff8a00 246px,#ff8c00 332px,#ff9c00 365px,#ffb300 380px,#ffc700 385px,#ffd900 389px,#ffe100 413px,#ffd600 437px,#ffbc00 452px,#ff9800 463px,#ff6800 472px,#fd0f00 484px,#f10200 488px,#c40000 494px,#520000 507px,#270000 514px,#150000 520px,#170000 527px,#300 535px,#7a0000 547px,#f00100 565px,#fe0c00 570px,#ff3800 576px,#fff300 597px,#fffe00 600px,#ff0 602px)"></i>
<i style="height:3px;background:linear-gradient(90deg,#ff9800 0px,#ff8a00 247px,#ff8c00 331px,#ff9d00 364px,#ffb200 378px,#ffc600 383px,#ffd900 387px,#ffe100 409px,#ffd700 433px,#ffbf00 448px,#ff9a00 459px,#ff6a00 468px,#fd0e00 480px,#f00200 484px,#bf0000 490px,#520000 502px,#240000 509px,#100 515px,#120000 521px,#280000 528px,#600 539px,#e00 560px,#fd0800 565px,#ff2500 570px,#fff800 597px,#ff0 601px,#ff0 602px)"></i>
<i style="height:3px;background:linear-gradient(90deg,#ff9800 0px,#ff8a00 248px,#ff8c00 330px,#ff9c00 362px,#ffb200 376px,#ffc600 381px,#ffd900 385px,#ffe100 406px,#ffd800 430px,#ffbf00 445px,#f90 456px,#f60 465px,#fd0f00 476px,#ef0200 480px,#bc0000 486px,#4b0000 498px,#230000 504px,#0e0000 510px,#0f0000 516px,#260000 523px,#6c0000 535px,#eb0000 555px,#fc0500 560px,#ff1c00 565px,#fff700 596px,#ff0 600px,#ff0 602px)"></i>
<i style="height:3px;background:linear-gradient(90deg,#ff9800 0px,#ff8a00 250px,#ff8c00 330px,#ff9d00 361px,#ffb400 375px,#ffd900 383px,#ffe100 402px,#ffd900 426px,#ffc200 441px,#ff9d00 452px,#ff6a00 461px,#fd1000 472px,#ef0200 476px,#b00 482px,#4e0000 493px,#230000 499px,#0d0000 505px,#0d0000 511px,#240000 518px,#6b0000 530px,#e90000 550px,#fb0300 555px,#ff1600 560px,#fff700 595px,#ff0 599px,#ff0 602px)"></i>
<i style="height:3px;background:linear-gradient(90deg,#ff9800 0px,#ff8900 252px,#ff8d00 329px,#ff9e00 360px,#ffb400 373px,#ffd000 379px,#ffdc00 383px,#ffe100 411px,#ffd200 430px,#ffb400 443px,#ff8d00 452px,#ff5700 460px,#fd1200 468px,#f00200 472px,#c50000 477px,#4b0000 489px,#1f0000 495px,#0c0000 500px,#0b0000 506px,#200 513px,#690000 525px,#e60000 545px,#fc0300 551px,#ff1500 556px,#ffc900 586px,#fffa00 595px,#ff0 602px)"></i>
<i style="height:3px;background:linear-gradient(90deg,#ff9800 0px,#ff8a00 311px,#ff9700 351px,#ffac00 368px,#ffbe00 374px,#ffd800 379px,#ffe100 393px,#ffdc00 418px,#ffc800 433px,#ffa500 444px,#ff7a00 452px,#ff4200 459px,#fc0e00 465px,#eb0100 469px,#b10000 475px,#490000 485px,#1c0000 491px,#0a0000 496px,#0a0000 502px,#240000 509px,#810000 524px,#e80000 541px,#fc0300 547px,#ff1500 552px,#ffa800 578px,#fffa00 594px,#ff0 601px,#ff0 602px)"></i>
<i style="height:3px;background:linear-gradient(90deg,#ff9800 0px,#ff8a00 310px,#ff9700 349px,#ffac00 366px,#ffbe00 372px,#ffd800 377px,#ffe100 389px,#ffde00 414px,#ffca00 429px,#ffa900 440px,#ff7f00 448px,#ff4800 455px,#fd1100 461px,#f40400 464px,#d30000 468px,#480000 481px,#1b0000 487px,#080000 492px,#080000 497px,#210000 504px,#780000 518px,#e00000 535px,#f90100 541px,#ff0b00 546px,#ffa400 575px,#fffc00 594px,#ff0 602px)"></i>
<i style="height:3px;background:linear-gradient(90deg,#ff9800 0px,#ff8a00 308px,#ff9700 347px,#ffab00 364px,#ffc200 371px,#ffdb00 376px,#ffe200 399px,#ffd700 419px,#ffbc00 432px,#ff9700 441px,#ff6100 449px,#fc0f00 458px,#f00300 461px,#cd0000 465px,#480000 477px,#1a0000 483px,#070000 488px,#080000 493px,#200 500px,#d10000 528px,#f70000 536px,#ff0a00 542px,#ff9300 569px,#fffc00 593px,#ff0 602px)"></i>
<i style="height:3px;background:linear-gradient(90deg,#ff9800 0px,#ff8a00 307px,#ff9700 346px,#ffad00 363px,#ffc100 369px,#ffda00 374px,#ffe300 395px,#ffd900 415px,#ffc000 428px,#ff9d00 437px,#ff7000 444px,#fc0c00 455px,#ed0200 458px,#b00 463px,#490000 473px,#200000 478px,#090000 483px,#060000 488px,#190000 494px,#5b0000 505px,#cd0000 523px,#f80000 532px,#ff0a00 538px,#f80 564px,#fffb00 592px,#ff0 602px)"></i>
<i style="height:3px;background:linear-gradient(90deg,#ff9800 0px,#ff8a00 306px,#ff9700 344px,#ffac00 361px,#ffc000 367px,#ffda00 372px,#ffe300 391px,#ffda00 412px,#ffc100 425px,#ff9e00 434px,#ff7000 441px,#fd1200 451px,#f10300 454px,#cd0000 458px,#4c0000 469px,#200000 474px,#090000 479px,#060000 484px,#190000 490px,#5d0000 501px,#c90000 518px,#f50000 527px,#ff0600 533px,#ff8a00 562px,#fffd00 592px,#ff0 602px)"></i>
<i style="height:3px;background:linear-gradient(90deg,#ff9800 0px,#ff8a00 305px,#ff9800 343px,#ffac00 359px,#ffbf00 365px,#ffda00 370px,#ffe300 385px,#fd0 407px,#ffc800 420px,#ffa900 429px,#ff8000 436px,#ff4100 443px,#fc1000 448px,#ef0300 451px,#c80000 455px,#450000 466px,#1b0000 471px,#060000 476px,#070000 481px,#1e0000 487px,#c40000 513px,#f50000 523px,#ff0500 529px,#ff8400 558px,#fffc00 591px,#ff0 602px)"></i>
<i style="height:3px;background:linear-gradient(90deg,#ff9800 0px,#ff8a00 304px,#ff9800 342px,#ffad00 358px,#ffc300 364px,#ffd900 368px,#ffe200 380px,#ffde00 403px,#ffc900 417px,#fa0 426px,#ff8000 433px,#ff4c00 439px,#fc0f00 445px,#ee0200 448px,#c40000 452px,#4a0000 462px,#1d0000 467px,#070000 472px,#070000 477px,#1e0000 483px,#be0000 508px,#f50000 519px,#ff0500 525px,#ff2b00 534px,#ff8700 556px,#fffc00 590px,#ff0 602px)"></i>
<i style="height:3px;background:linear-gradient(90deg,#ff9800 0px,#ff8a00 303px,#ff9800 340px,#ffad00 356px,#ffc200 362px,#ffdc00 367px,#ffe400 388px,#ffd900 406px,#ffbf00 418px,#ff9c00 426px,#ff6900 433px,#fc0f00 442px,#ec0200 445px,#b40000 450px,#400 459px,#190000 464px,#050000 469px,#080000 474px,#280000 481px,#b90000 503px,#f40000 515px,#ff0400 521px,#ff2400 529px,#ff7a00 550px,#fffd00 590px,#ff0 602px)"></i>
<i style="height:3px;background:linear-gradient(90deg,#ff9800 0px,#ff8a00 301px,#ff9700 338px,#ffac00 354px,#ffc000 360px,#ffdb00 365px,#ffe400 384px,#ffda00 403px,#ffc100 415px,#ff9e00 423px,#ff6b00 430px,#fb0e00 439px,#eb0200 442px,#b10000 447px,#4b0000 455px,#1c0000 460px,#080000 464px,#050000 469px,#1b0000 475px,#b80000 499px,#f40000 511px,#ff0300 517px,#ff1d00 524px,#ff7200 545px,#fffb00 588px,#ff0 599px,#ff0 602px)"></i>
<i style="height:3px;background:linear-gradient(90deg,#ff9800 0px,#ff8a00 300px,#ff9800 337px,#ffae00 353px,#ffc500 359px,#ffdb00 363px,#ffe400 379px,#fd0 399px,#ffc600 411px,#ffa600 419px,#ff7500 426px,#ff3800 432px,#fb0f00 436px,#ea0200 439px,#ae0000 444px,#470000 452px,#190000 457px,#070000 461px,#060000 466px,#1f0000 472px,#b70000 495px,#f30000 507px,#fe0200 513px,#ff1b00 520px,#ff6e00 541px,#fffa00 587px,#ff0 596px,#ff0 602px)"></i>
<i style="height:3px;background:linear-gradient(90deg,#ff9800 0px,#ff8a00 299px,#ff9800 335px,#ffad00 351px,#ffc300 357px,#ffda00 361px,#ffe300 373px,#ffe000 394px,#ffcb00 407px,#ffa800 416px,#ff7800 423px,#ff3900 429px,#fb0f00 433px,#ea0200 436px,#ba0000 440px,#430000 449px,#170000 454px,#060000 458px,#080000 463px,#230000 469px,#b00000 490px,#f20000 503px,#fe0200 509px,#ff1400 515px,#ff6300 535px,#ffd700 574px,#fffe00 589px,#ff0 602px)"></i>
<i style="height:3px;background:linear-gradient(90deg,#ff9800 0px,#ff8a00 298px,#ff9800 334px,#ffac00 349px,#ffc200 355px,#ffdc00 360px,#ffe500 380px,#ffda00 397px,#ffc000 408px,#f90 416px,#ff6800 422px,#fb1000 430px,#ea0200 433px,#ba0000 437px,#4c0000 445px,#1b0000 450px,#070000 454px,#050000 458px,#150000 463px,#570000 473px,#b50000 487px,#f10000 499px,#fe0100 505px,#ff1200 511px,#ff5f00 531px,#ffcb00 568px,#fffe00 588px,#ff0 602px)"></i>
<i style="height:3px;background:linear-gradient(90deg,#ff9800 0px,#ff8b00 297px,#ff9800 332px,#ffac00 347px,#ffc000 353px,#ffdc00 358px,#ffe500 376px,#ffdc00 394px,#ffc300 405px,#ff9c00 413px,#ff6b00 419px,#fc1100 427px,#eb0300 430px,#ba0000 434px,#4a0000 442px,#210000 446px,#090000 450px,#040000 454px,#130000 459px,#4d0000 468px,#ad0000 482px,#ef0000 495px,#fe0100 501px,#ff0f00 507px,#ff5b00 527px,#ffc100 563px,#fffe00 588px,#ff0 602px)"></i>
<i style="height:3px;background:linear-gradient(90deg,#ff9800 0px,#ff8b00 296px,#ff9800 331px,#ffad00 346px,#ffc400 352px,#ffdb00 356px,#ffe500 370px,#ffdf00 389px,#ffcb00 400px,#ffab00 408px,#ff8100 414px,#ff4e00 419px,#fc1300 424px,#ec0300 427px,#ba0000 431px,#490000 439px,#200000 443px,#080000 447px,#040000 451px,#150000 456px,#580000 466px,#b00000 479px,#e00 491px,#fe0100 497px,#ff0d00 503px,#ff5a00 524px,#ffbd00 560px,#fffe00 587px,#ff0 602px)"></i>
<i style="height:3px;background:linear-gradient(90deg,#ff9800 0px,#ff8b00 294px,#ff9800 329px,#ffac00 344px,#ffc200 350px,#ffda00 354px,#ffe400 364px,#ffe100 385px,#ffcd00 397px,#ffae00 405px,#ff8500 411px,#ff5200 416px,#fc1500 421px,#ed0300 424px,#b00 428px,#480000 436px,#1e0000 440px,#080000 444px,#050000 448px,#170000 453px,#6a0000 465px,#ba0000 477px,#f30000 489px,#ff0200 495px,#ff1200 501px,#ff5a00 521px,#ffbc00 558px,#fffe00 587px,#ff0 602px)"></i>
<i style="height:3px;background:linear-gradient(90deg,#ff9800 0px,#ff8b00 293px,#ff9800 328px,#ffae00 343px,#ffc100 348px,#fd0 353px,#ffe600 371px,#fd0 387px,#ffc700 397px,#ffa600 404px,#f70 410px,#ff3000 416px,#fa0f00 419px,#e50200 422px,#9f0000 427px,#480000 433px,#1e0000 437px,#070000 441px,#050000 445px,#180000 450px,#ab0000 471px,#e90000 483px,#fc0000 489px,#ff0800 495px,#ff5600 517px,#ffb400 553px,#fffe00 586px,#ff0 602px)"></i>
<i style="height:3px;background:linear-gradient(90deg,#ff9800 0px,#ff8b00 292px,#ff9800 326px,#ffad00 341px,#ffbf00 346px,#ffdc00 351px,#ffe600 366px,#ffe000 383px,#ffc900 394px,#fa0 401px,#ff7b00 407px,#ff4200 412px,#fb1200 416px,#e70200 419px,#b10000 423px,#480000 430px,#1d0000 434px,#070000 438px,#050000 442px,#1a0000 447px,#ae0000 468px,#eb0000 480px,#fd0000 486px,#ff0900 492px,#ff5300 513px,#ffac00 548px,#fffe00 586px,#ff0 602px)"></i>
<i style="height:3px;background:linear-gradient(90deg,#ff9800 0px,#ff8b00 291px,#ff9800 325px,#ffac00 339px,#ffc300 345px,#ffdb00 349px,#ffe500 359px,#ffe200 379px,#ffcf00 390px,#ffad00 398px,#ff8000 404px,#ff4700 409px,#fc1500 413px,#ea0300 416px,#b40000 420px,#490000 427px,#1d0000 431px,#070000 435px,#060000 439px,#1b0000 444px,#a00 464px,#e90000 476px,#fc0000 482px,#ff0700 488px,#ff5200 510px,#ffa900 545px,#fffe00 585px,#ff0 602px)"></i>
<i style="height:3px;background:linear-gradient(90deg,#ff9800 0px,#ff8b00 290px,#f90 324px,#ffae00 338px,#ffc100 343px,#fd0 348px,#ffe600 365px,#fd0 381px,#ffc800 390px,#ffa500 397px,#ff7c00 402px,#ff4000 407px,#fa0f00 411px,#e20200 414px,#970000 419px,#3e0000 425px,#160000 429px,#050000 433px,#090000 437px,#290000 443px,#a60000 460px,#e60000 472px,#fd0000 479px,#ff0800 485px,#ff5200 507px,#ffa600 542px,#ff0 585px,#ff0 602px)"></i>
<i style="height:3px;background:linear-gradient(90deg,#ff9800 0px,#ff8b00 289px,#ff9800 322px,#ffad00 336px,#ffbf00 341px,#fd0 346px,#ffe600 360px,#ffe000 377px,#ffcb00 387px,#ffa900 394px,#ff8100 399px,#ff4600 404px,#fb1300 408px,#e60200 411px,#ab0000 415px,#4d0000 421px,#1e0000 425px,#0a0000 428px,#040000 432px,#170000 437px,#a80000 457px,#e80000 469px,#fd0000 476px,#ff0900 482px,#ff4f00 503px,#ff9f00 537px,#fffe00 584px,#ff0 602px)"></i>
<i style="height:3px;background:linear-gradient(90deg,#ff9800 0px,#ff8b00 287px,#ff9800 320px,#ffac00 334px,#ffc300 340px,#ffdb00 344px,#ffe500 354px,#ffe300 373px,#ffd100 383px,#ffb400 390px,#ff8700 396px,#ff4d00 401px,#fc1800 405px,#ea0400 408px,#c10000 411px,#500000 418px,#200000 422px,#0b0000 425px,#040000 429px,#170000 434px,#a00 454px,#e90000 466px,#fc0000 472px,#ff0600 478px,#ff4e00 500px,#ff9f00 535px,#fffe00 584px,#ff0 602px)"></i>
<i style="height:3px;background:linear-gradient(90deg,#ff9800 0px,#ff8b00 286px,#ff9800 319px,#ffad00 333px,#ffc000 338px,#ffde00 343px,#ffe700 359px,#ffdf00 374px,#ffca00 383px,#ffa500 390px,#ff7900 395px,#fa1200 403px,#e30200 406px,#a50000 410px,#450000 416px,#180000 420px,#070000 423px,#060000 427px,#1e0000 432px,#a50000 450px,#e20000 461px,#fb0000 468px,#ff0700 475px,#ff4e00 497px,#ff9c00 532px,#ff0 584px,#ff0 602px)"></i>
<i style="height:3px;background:linear-gradient(90deg,#ff9800 0px,#ff8b00 285px,#f90 318px,#ffaf00 332px,#ffc400 337px,#fd0 341px,#ffe700 353px,#ffe200 370px,#ffcd00 380px,#ffab00 387px,#ff8000 392px,#ff4000 397px,#fc1700 400px,#e80300 403px,#bc0000 406px,#480000 413px,#1a0000 417px,#080000 420px,#060000 424px,#1e0000 429px,#a00000 446px,#de0000 457px,#fb0000 465px,#ff0700 472px,#ff4b00 493px,#ff9600 527px,#fffe00 583px,#ff0 602px)"></i>
<i style="height:3px;background:linear-gradient(90deg,#ff9800 0px,#ff8b00 284px,#ff9800 316px,#ffae00 330px,#ffc200 335px,#ffdc00 339px,#ffe500 347px,#ffe400 366px,#ffd300 376px,#ffb600 383px,#ff9100 388px,#ff5700 393px,#fa1300 398px,#ec0500 400px,#c30000 403px,#4c0000 410px,#1c0000 414px,#090000 417px,#040000 420px,#120000 424px,#4c0000 432px,#a80000 444px,#e40000 455px,#fc0000 462px,#ff0800 469px,#ff4a00 490px,#ff9400 524px,#ff0 583px,#ff0 602px)"></i>
<i style="height:3px;background:linear-gradient(90deg,#ff9800 0px,#ff8b00 283px,#f90 315px,#ffad00 328px,#ffbf00 333px,#ffde00 338px,#ffe800 353px,#ffe000 368px,#ffc900 377px,#ffa700 383px,#ff7900 388px,#fc1800 395px,#f10800 397px,#ca0000 400px,#510000 407px,#1e0000 411px,#0a0000 414px,#040000 417px,#100 421px,#400 428px,#a20000 440px,#e00000 451px,#fa0000 458px,#ff0600 465px,#ff4a00 487px,#ff9100 521px,#ff0 583px,#ff0 602px)"></i>
<i style="height:3px;background:linear-gradient(90deg,#f90 0px,#ff8c00 282px,#f90 314px,#ffae00 327px,#ffc300 332px,#fd0 336px,#ffe700 346px,#ffe400 363px,#ffd000 373px,#ffb400 379px,#ff8b00 384px,#ff5b00 388px,#fa1400 393px,#ec0500 395px,#c10000 398px,#480000 405px,#210000 408px,#0b0000 411px,#040000 414px,#100000 418px,#400 425px,#a20000 437px,#e10000 448px,#fb0000 455px,#ff0600 462px,#ff4900 484px,#ff8f00 518px,#ff0 582px,#ff0 602px)"></i>
<i style="height:3px;background:linear-gradient(90deg,#f90 0px,#ff8c00 281px,#f90 312px,#ffad00 325px,#ffc100 330px,#ffdf00 335px,#ffe900 351px,#ffdf00 365px,#ffc800 373px,#ffa400 379px,#ff7100 384px,#fc1b00 390px,#f10800 392px,#ca0000 395px,#4d0000 402px,#250000 405px,#0c0000 408px,#040000 411px,#100000 415px,#430000 422px,#a30000 434px,#e10000 445px,#fb0000 452px,#ff0600 459px,#ff4600 480px,#ff8a00 513px,#ff0 582px,#ff0 602px)"></i>
<i style="height:3px;background:linear-gradient(90deg,#f90 0px,#ff8c00 280px,#f90 311px,#ffae00 324px,#ffc500 329px,#ffde00 333px,#ffe800 345px,#ffe400 360px,#ffd000 369px,#ffb200 375px,#ff8600 380px,#ff5100 384px,#fa1600 388px,#ed0600 390px,#c10000 393px,#540000 399px,#290000 402px,#0e0000 405px,#050000 408px,#0f0000 412px,#3a0000 418px,#9c0000 430px,#d80000 440px,#f90000 448px,#ff0600 456px,#ff4600 477px,#f80 510px,#ff0 582px,#ff0 602px)"></i>
<i style="height:3px;background:linear-gradient(90deg,#f90 0px,#ff8c00 278px,#f90 309px,#ffad00 322px,#ffc200 327px,#ffdc00 331px,#ffe700 339px,#ffe600 356px,#ffd400 366px,#ffb800 372px,#ff8e00 377px,#ff5c00 381px,#fc1e00 385px,#f20a00 387px,#db0200 389px,#4b0000 397px,#200 400px,#0b0000 403px,#050000 406px,#130000 410px,#530000 418px,#a30000 428px,#d00 438px,#fb0000 446px,#ff0600 453px,#ff4500 474px,#ff8500 506px,#ff0 581px,#ff0 602px)"></i>
<i style="height:3px;background:linear-gradient(90deg,#f90 0px,#ff8c00 277px,#f90 308px,#ffaf00 321px,#ffc600 326px,#ffdf00 330px,#ffe900 343px,#ffe300 357px,#ffd000 365px,#ffb000 371px,#ff8100 376px,#ff4800 380px,#fb1a00 383px,#ee0800 385px,#c30000 388px,#530000 394px,#270000 397px,#0d0000 400px,#050000 403px,#100 407px,#480000 414px,#a30000 425px,#d00 435px,#fb0000 443px,#ff0600 450px,#ff4200 470px,#ff8000 501px,#ff0 581px,#ff0 602px)"></i>
<i style="height:3px;background:linear-gradient(90deg,#f90 0px,#ff8c00 276px,#f90 306px,#ffad00 319px,#ffc300 324px,#fd0 328px,#ffe800 337px,#ffe600 353px,#ffd400 362px,#ffb700 368px,#ff8a00 373px,#ff5400 377px,#fa1600 381px,#ea0600 383px,#b00 386px,#4a0000 392px,#210000 395px,#0a0000 398px,#050000 401px,#160000 405px,#a20000 422px,#d00 432px,#fc0000 440px,#ff0700 447px,#ff4200 467px,#ff7e00 498px,#ff0 581px,#ff0 602px)"></i>
<i style="height:3px;background:linear-gradient(90deg,#f90 0px,#ff8c00 275px,#f90 305px,#ffaf00 318px,#ffc700 323px,#ffe000 327px,#ffea00 341px,#ffe300 354px,#fc0 362px,#ffaf00 367px,#f80 371px,#ff5000 375px,#f81300 379px,#e60500 381px,#b40000 384px,#530000 389px,#260000 392px,#0c0000 395px,#050000 398px,#140000 402px,#570000 410px,#a90000 420px,#e20000 430px,#fc0000 437px,#ff0700 444px,#ff4200 464px,#ff7d00 495px,#ff0 581px,#ff0 602px)"></i>
<i style="height:3px;background:linear-gradient(90deg,#f90 0px,#ff8c00 274px,#ff9a00 304px,#ffad00 316px,#ffc300 321px,#ffde00 325px,#ffe800 334px,#ffe700 349px,#ffd500 358px,#ffb600 364px,#ff9200 368px,#ff5d00 372px,#fb1c00 376px,#ee0800 378px,#d20100 380px,#4b0000 387px,#210000 390px,#090000 393px,#060000 396px,#180000 400px,#a00000 416px,#d00 426px,#fc0000 434px,#ff0700 441px,#ff4100 461px,#ff7b00 492px,#ff0 580px,#ff0 602px)"></i>
<i style="height:3px;background:linear-gradient(90deg,#f90 0px,#ff8c00 273px,#f90 302px,#ffaf00 315px,#ffc700 320px,#ffe000 324px,#ffea00 338px,#ffe400 350px,#ffcd00 358px,#ffae00 363px,#ff8500 367px,#ff4900 371px,#fa1900 374px,#ea0700 376px,#b90000 379px,#500 384px,#270000 387px,#0c0000 390px,#050000 393px,#160000 397px,#9f0000 413px,#d80000 422px,#f90000 430px,#ff0600 438px,#ff4100 458px,#ff7900 488px,#ff0 580px,#ff0 602px)"></i>
<i style="height:3px;background:linear-gradient(90deg,#f90 0px,#ff8c00 272px,#ff9a00 301px,#ffad00 313px,#ffc400 318px,#ffdf00 322px,#ffe900 332px,#ffe700 346px,#ffd500 354px,#ffb500 360px,#ff8f00 364px,#ff5600 368px,#f81600 372px,#e70600 374px,#b20000 377px,#4e0000 382px,#210000 385px,#090000 388px,#060000 391px,#1a0000 395px,#9e0000 410px,#d70000 419px,#f90000 427px,#ff0600 435px,#ff4000 455px,#f70 485px,#ff0 580px,#ff0 602px)"></i>
<i style="height:3px;background:linear-gradient(90deg,#f90 0px,#ff8c00 271px,#ff9a00 300px,#ffaf00 312px,#ffc100 316px,#fd0 320px,#ffe700 326px,#ffe900 342px,#ffd900 351px,#ffbc00 357px,#ff9a00 361px,#ff6400 365px,#fb2100 369px,#ef0a00 371px,#d30200 373px,#470000 380px,#1d0000 383px,#080000 386px,#080000 389px,#1f0000 393px,#9c0000 407px,#d60000 416px,#f90000 424px,#ff0600 432px,#ff3e00 451px,#ff7300 480px,#ff0 580px,#ff0 602px)"></i>
<i style="height:3px;background:linear-gradient(90deg,#f90 0px,#ff8c00 270px,#f90 298px,#ffad00 310px,#ffc400 315px,#ffdf00 319px,#ffea00 329px,#ffe700 343px,#ffd200 351px,#ffb500 356px,#ff8d00 360px,#ff5100 364px,#fb1e00 367px,#ec0900 369px,#ce0100 371px,#520000 377px,#230000 380px,#0a0000 383px,#070000 386px,#1b0000 390px,#9a0000 404px,#d60000 413px,#f90000 421px,#ff0600 429px,#ff3d00 448px,#ff7200 477px,#ff0 580px,#ff0 602px)"></i>
<i style="height:3px;background:linear-gradient(90deg,#f90 0px,#ff8c00 268px,#ff9a00 297px,#ffaf00 309px,#ffc100 313px,#fd0 317px,#ffe800 323px,#ffe900 339px,#ffda00 347px,#ffbd00 353px,#ff9800 357px,#ff6000 361px,#fa1b00 365px,#e90800 367px,#c90100 369px,#4c0000 375px,#1f0000 378px,#080000 381px,#080000 384px,#200000 388px,#980000 401px,#d50000 410px,#f80000 418px,#ff0400 425px,#ff3f00 446px,#ff7300 475px,#fff800 573px,#ff0 583px,#ff0 602px)"></i>
<i style="height:3px;background:linear-gradient(90deg,#f90 0px,#ff8c00 267px,#f90 295px,#ffad00 307px,#ffc500 312px,#ffe000 316px,#ffeb00 326px,#ffe800 339px,#ffd300 347px,#ffb500 352px,#ff8c00 356px,#ff4c00 360px,#f91900 363px,#e60700 365px,#c40100 367px,#460000 373px,#1b0000 376px,#070000 379px,#0a0000 382px,#240000 386px,#960000 398px,#d30000 407px,#f80000 415px,#ff0300 422px,#ff3f00 443px,#ff7200 472px,#fff400 570px,#ff0 581px,#ff0 602px)"></i>
<i style="height:3px;background:linear-gradient(90deg,#f90 0px,#ff8d00 266px,#ff9a00 294px,#ffaf00 306px,#ffc100 310px,#ffde00 314px,#ffe800 320px,#ffea00 335px,#ffdb00 343px,#ffbd00 349px,#ff9800 353px,#ff6e00 356px,#fc2600 360px,#f00d00 362px,#d30200 364px,#530000 370px,#200 373px,#090000 376px,#080000 379px,#200000 383px,#9b0000 396px,#d80000 405px,#fa0000 413px,#ff0500 420px,#ff3c00 439px,#ff6e00 467px,#fff200 568px,#ff0 580px,#ff0 602px)"></i>
<i style="height:3px;background:linear-gradient(90deg,#f90 0px,#ff8d00 265px,#ff9a00 293px,#ffad00 304px,#ffc500 309px,#ffe000 313px,#ffeb00 323px,#ffe700 336px,#ffd500 343px,#ffb600 348px,#ff8b00 352px,#ff4800 356px,#f61600 359px,#e00500 361px,#a40000 364px,#4d0000 368px,#1e0000 371px,#080000 374px,#090000 377px,#250000 381px,#980000 393px,#d10000 401px,#f70000 409px,#ff0200 415px,#ff4200 439px,#ff7400 469px,#fe0 565px,#ff0 579px,#ff0 602px)"></i>
<i style="height:3px;background:linear-gradient(90deg,#f90 0px,#ff8d00 264px,#f90 291px,#ffaf00 303px,#ffc100 307px,#ffde00 311px,#ffe900 317px,#ffea00 332px,#ffd900 340px,#ffbe00 345px,#ff9800 349px,#ff6c00 352px,#fb2200 356px,#ec0a00 358px,#cb0200 360px,#480000 366px,#1b0000 369px,#070000 372px,#0b0000 375px,#290000 379px,#950000 390px,#cf0000 398px,#f60000 406px,#ff0100 412px,#ff1e00 422px,#ff4c00 441px,#ff8100 477px,#ffea00 562px,#ff0 579px,#ff0 602px)"></i>
<i style="height:3px;background:linear-gradient(90deg,#f90 0px,#ff8d00 263px,#ff9a00 290px,#ffad00 301px,#ffc400 306px,#ffe100 310px,#ffeb00 319px,#ffe800 332px,#ffd600 339px,#ffb700 344px,#ff8a00 348px,#fe4500 352px,#f41300 355px,#db0400 357px,#830000 361px,#430000 364px,#170000 367px,#070000 370px,#0d0000 373px,#370000 378px,#9a0000 388px,#d30000 396px,#f80000 404px,#ff0400 411px,#ff3d00 431px,#ff6d00 459px,#ffe900 561px,#ff0 579px,#ff0 602px)"></i>
<i style="height:3px;background:linear-gradient(90deg,#f90 0px,#ff8d00 262px,#ff9a00 289px,#ffae00 300px,#ffc100 304px,#ffde00 308px,#ffe900 314px,#ffeb00 328px,#ffdb00 336px,#ffc000 341px,#ff9800 345px,#ff6a00 348px,#fa2000 352px,#e80900 354px,#c40100 356px,#520000 361px,#200000 364px,#0d0000 366px,#070000 369px,#170000 372px,#9f0000 386px,#d70000 394px,#f80000 401px,#ff0400 408px,#ff3d00 428px,#ff6b00 455px,#ffe700 559px,#ff0 578px,#ff0 602px)"></i>
<i style="height:3px;background:linear-gradient(90deg,#f90 0px,#ff8d00 261px,#ff9b00 288px,#ffb000 299px,#ffc400 303px,#ffe100 307px,#ffec00 316px,#ffea00 328px,#ffd800 335px,#ffb900 340px,#ff8b00 344px,#fe4400 348px,#f91f00 350px,#e60800 352px,#c10100 354px,#4d0000 359px,#1d0000 362px,#0b0000 364px,#080000 367px,#1a0000 370px,#9b0000 383px,#d50000 391px,#fa0000 399px,#ff0500 406px,#ff3a00 424px,#ff6700 450px,#ffe600 558px,#ff0 578px,#ff0 602px)"></i>
<i style="height:3px;background:linear-gradient(90deg,#f90 0px,#ff8d00 260px,#ff9a00 286px,#ffae00 297px,#ffc000 301px,#ffde00 305px,#ffe900 310px,#ffec00 324px,#fd0 332px,#ffc200 337px,#f90 341px,#ff6a00 344px,#f81e00 348px,#e40800 350px,#be0100 352px,#490000 357px,#270000 359px,#100000 361px,#070000 363px,#0e0000 366px,#300000 370px,#970000 380px,#d30000 388px,#f90000 396px,#ff0500 403px,#ff3a00 421px,#ff6500 446px,#ffe500 557px,#ff0 578px,#ff0 602px)"></i>
<i style="height:3px;background:linear-gradient(90deg,#f90 0px,#ff8d00 259px,#ff9a00 285px,#ffaf00 296px,#ffc400 300px,#ffe100 304px,#ffec00 312px,#ffeb00 324px,#ffda00 331px,#fb0 336px,#ff9a00 339px,#ff6a00 342px,#f81e00 346px,#e30800 348px,#bb0100 350px,#460000 355px,#240000 357px,#0f0000 359px,#070000 361px,#100000 364px,#3f0000 369px,#9c0000 378px,#d60000 386px,#f80000 393px,#ff0400 400px,#ff3b00 419px,#ff6700 445px,#ffe200 554px,#ff0 578px,#ff0 602px)"></i>
<i style="height:3px;background:linear-gradient(90deg,#f90 0px,#ff8d00 258px,#ff9b00 284px,#ffad00 294px,#ffc000 298px,#ffe300 303px,#fe0 314px,#ffe900 324px,#ffd600 330px,#ffbc00 334px,#ff9b00 337px,#ff6b00 340px,#f71d00 344px,#e10800 346px,#b90100 348px,#570000 352px,#300000 354px,#150000 356px,#080000 358px,#0c0000 361px,#2e0000 365px,#980000 375px,#ce0000 382px,#f70000 390px,#ff0200 396px,#ff3d00 417px,#ff6800 443px,#ffde00 551px,#ff0 577px,#ff0 602px)"></i>
<i style="height:3px;background:linear-gradient(90deg,#f90 0px,#ff8d00 257px,#ff9a00 282px,#ffaf00 293px,#ffc300 297px,#ffe100 301px,#ffec00 308px,#ffec00 320px,#ffdc00 327px,#ffbd00 332px,#ff9c00 335px,#ff6c00 338px,#f71d00 342px,#e00700 344px,#b60100 346px,#540000 350px,#2d0000 352px,#130000 354px,#080000 356px,#0e0000 359px,#310000 363px,#930000 372px,#cb0000 379px,#f60000 387px,#ff0200 393px,#ff3f00 415px,#ff6a00 442px,#ffdc00 549px,#ff0 577px,#ff0 602px)"></i>
<i style="height:3px;background:linear-gradient(90deg,#f90 0px,#ff8d00 256px,#ff9a00 281px,#ffad00 291px,#ffbf00 295px,#ffe300 300px,#fe0 311px,#ffe800 321px,#ffd400 327px,#ffb500 331px,#ff8f00 334px,#ff5800 337px,#f71d00 340px,#df0700 342px,#b40100 344px,#510000 348px,#2b0000 350px,#120000 352px,#080000 354px,#100000 357px,#350000 361px,#970000 370px,#ce0000 377px,#f80000 385px,#ff0500 392px,#ff3a00 410px,#ff6400 435px,#fd0 549px,#ff0 577px,#ff0 602px)"></i>
<i style="height:3px;background:linear-gradient(90deg,#f90 0px,#ff8d00 255px,#ff9b00 280px,#ffae00 290px,#ffc200 294px,#ffe100 298px,#ffec00 305px,#ffec00 317px,#ffda00 324px,#ffc000 328px,#ff9f00 331px,#ff6e00 334px,#fc2f00 337px,#ed1000 339px,#ca0300 341px,#4e0000 346px,#280000 348px,#100000 350px,#070000 352px,#120000 355px,#400 360px,#9b0000 368px,#d20000 375px,#f60000 382px,#ff0200 388px,#ff3c00 408px,#ff6500 433px,#ffdb00 547px,#ff0 577px,#ff0 602px)"></i>
<i style="height:3px;background:linear-gradient(90deg,#f90 0px,#ff8d00 253px,#ff9a00 278px,#ffb000 289px,#ffc600 293px,#ffe300 297px,#ffef00 307px,#ffea00 317px,#ffd600 323px,#ffb800 327px,#ff9200 330px,#ff5b00 333px,#f61e00 336px,#de0700 338px,#b10100 340px,#4c0000 344px,#260000 346px,#0f0000 348px,#070000 350px,#130000 353px,#480000 358px,#9f0000 366px,#d50000 373px,#f80000 380px,#ff0600 387px,#ff3900 404px,#ff6200 428px,#ffda00 546px,#ff0 577px,#ff0 602px)"></i>
<i style="height:3px;background:linear-gradient(90deg,#f90 0px,#ff8d00 252px,#ff9a00 277px,#ffae00 287px,#ffc100 291px,#ffe000 295px,#ffec00 301px,#ffed00 313px,#ffdc00 320px,#ffc300 324px,#ffa300 327px,#ff7100 330px,#fc3100 333px,#ec1100 335px,#c90300 337px,#4a0000 342px,#240000 344px,#0e0000 346px,#080000 348px,#150000 351px,#570000 357px,#a30000 364px,#d80000 371px,#f70000 377px,#ff0300 383px,#ff3b00 402px,#ff6300 426px,#ffd800 544px,#ff0 577px,#ff0 602px)"></i>
<i style="height:3px;background:linear-gradient(90deg,#f90 0px,#ff8d00 251px,#ff9b00 276px,#ffaf00 286px,#ffc400 290px,#ffe300 294px,#fe0 302px,#ffec00 313px,#ffd900 319px,#ffbc00 323px,#ff9600 326px,#ff5e00 329px,#f62000 332px,#dd0800 334px,#af0100 336px,#480000 340px,#230000 342px,#0d0000 344px,#080000 346px,#170000 349px,#9d0000 361px,#d50000 368px,#f90000 375px,#ff0600 382px,#ff3800 398px,#ff6000 421px,#ff9600 477px,#ffda00 545px,#ff0 576px,#ff0 602px)"></i>
<i style="height:3px;background:linear-gradient(90deg,#f90 0px,#ff8e00 250px,#ff9a00 274px,#ffad00 284px,#ffc000 288px,#ffe000 292px,#ffec00 297px,#fe0 309px,#ffdf00 316px,#ffc700 320px,#ffa700 323px,#ff7500 326px,#fc3400 329px,#ed1200 331px,#c80300 333px,#470000 338px,#200 340px,#0d0000 342px,#080000 344px,#190000 347px,#a10000 359px,#d80000 366px,#f70000 372px,#ff0300 378px,#ff3900 396px,#ff6100 419px,#ff9700 476px,#ffd900 544px,#ff0 576px,#ff0 602px)"></i>
<i style="height:3px;background:linear-gradient(90deg,#ff9a00 0px,#ff8e00 249px,#ff9a00 273px,#ffae00 283px,#ffc300 287px,#ffe200 291px,#fe0 298px,#ffed00 309px,#ffdc00 315px,#ffc000 319px,#ff9b00 322px,#ff6300 325px,#f72200 328px,#dd0900 330px,#af0100 332px,#460000 336px,#200000 338px,#0c0000 340px,#090000 342px,#1b0000 345px,#9a0000 356px,#d40000 363px,#f60000 369px,#ff0100 374px,#ff1900 382px,#ff4200 397px,#ff6900 423px,#ffd100 536px,#ff0 576px,#ff0 602px)"></i>
<i style="height:3px;background:linear-gradient(90deg,#ff9a00 0px,#ff8e00 248px,#ff9b00 272px,#ffaf00 282px,#ffc600 286px,#ffe400 290px,#fff000 300px,#ffea00 309px,#ffd800 314px,#ffb800 318px,#ff8d00 321px,#fc3800 325px,#ed1400 327px,#c90400 329px,#450000 334px,#200000 336px,#0c0000 338px,#090000 340px,#1d0000 343px,#9e0000 354px,#d70000 361px,#f70000 367px,#ff0400 373px,#ff3800 390px,#ff5f00 412px,#ff8d00 461px,#ffd000 535px,#ff0 576px,#ff0 602px)"></i>
<i style="height:3px;background:linear-gradient(90deg,#ff9a00 0px,#ff8e00 247px,#ff9b00 271px,#ffb100 281px,#ffca00 285px,#ffe200 288px,#ffed00 294px,#fe0 305px,#ffdf00 311px,#ffc400 315px,#ffa100 318px,#ff6800 321px,#f72600 324px,#df0a00 326px,#b00100 328px,#400 332px,#1f0000 334px,#0c0000 336px,#0a0000 338px,#1f0000 341px,#970000 351px,#c00 357px,#f50000 364px,#ff0100 369px,#ff1a00 377px,#ff4300 392px,#ff6800 417px,#ffce00 533px,#ff0 576px,#ff0 602px)"></i>
<i style="height:3px;background:linear-gradient(90deg,#ff9a00 0px,#ff8e00 246px,#ff9a00 269px,#ffaf00 279px,#ffc500 283px,#ffe400 287px,#fff000 295px,#ffec00 305px,#ffdc00 310px,#ffbd00 314px,#ff9300 317px,#fe5500 320px,#f82800 322px,#e00b00 324px,#b10200 326px,#400 330px,#1e0000 332px,#0b0000 334px,#0a0000 336px,#200000 339px,#9a0000 349px,#cf0000 355px,#f70000 362px,#ff0400 368px,#ff3900 385px,#ff5f00 407px,#ff8c00 455px,#ffcd00 531px,#ff0 576px,#ff0 602px)"></i>
<i style="height:3px;background:linear-gradient(90deg,#ff9a00 0px,#ff8e00 245px,#ff9b00 268px,#ffb000 278px,#ffc800 282px,#ffe600 286px,#fff100 296px,#ffeb00 304px,#ffd800 309px,#ffc000 312px,#ff9700 315px,#fe5800 318px,#f82a00 320px,#e10c00 322px,#b20200 324px,#400 328px,#1e0000 330px,#0b0000 332px,#0b0000 334px,#200 337px,#9d0000 347px,#d10000 353px,#f50000 359px,#ff0100 364px,#ff1e00 373px,#ff4500 388px,#ff6a00 414px,#ffcb00 529px,#ff0 576px,#ff0 602px)"></i>
<i style="height:3px;background:linear-gradient(90deg,#ff9a00 0px,#ff8e00 244px,#ff9b00 267px,#ffad00 276px,#ffc100 280px,#ffe300 284px,#fe0 290px,#fff000 300px,#ffe000 306px,#ffc400 310px,#ff9e00 313px,#ff6100 316px,#fb3000 318px,#f41c00 319px,#e70e00 320px,#ba0200 322px,#480000 326px,#1f0000 328px,#0b0000 330px,#090000 332px,#210000 335px,#9d0000 345px,#d20000 351px,#f60000 357px,#ff0100 362px,#ff3c00 381px,#ff6100 403px,#ff8c00 452px,#ffcb00 528px,#ff0 576px,#ff0 602px)"></i>
</div>
<div class="hm" style="left:993.7px;top:99.3px;width:601.9px;height:602.5px">
<i style="height:3px;background:linear-gradient(90deg,#ff8d00 0px,#ff8500 334px,#ff9600 415px,#ffb800 477px,#fff000 536px,#ff0 551px,#ff0 602px)"></i>
<i style="height:3px;background:linear-gradient(90deg,#ff8d00 0px,#ff8500 333px,#ff9500 414px,#ffb700 475px,#ffec00 531px,#ff0 547px,#ff0 602px)"></i>
<i style="height:3px;background:linear-gradient(90deg,#ff8d00 0px,#ff8500 333px,#ff9600 414px,#ffb800 475px,#ffea00 527px,#ff0 545px,#ff0 602px)"></i>
<i style="height:3px;background:linear-gradient(90deg,#ff8d00 0px,#ff8500 332px,#ff9600 413px,#ffb700 473px,#ffe800 523px,#fffc00 540px,#ff0 602px)"></i>
<i style="height:3px;background:linear-gradient(90deg,#ff8d00 0px,#ff8500 332px,#ff9500 412px,#ffb700 472px,#ffe500 519px,#fff900 534px,#ff0 557px,#ff0 602px)"></i>
<i style="height:3px;background:linear-gradient(90deg,#ff8d00 0px,#ff8500 331px,#ff9500 411px,#ffb600 470px,#ffe300 515px,#fff600 530px,#ff0 554px,#ff0 602px)"></i>
<i style="height:3px;background:linear-gradient(90deg,#ff8d00 0px,#ff8500 331px,#ff9600 411px,#ffb700 470px,#ffe200 512px,#fff400 525px,#ff0 553px,#ff0 602px)"></i>
<i style="height:3px;background:linear-gradient(90deg,#ff8d00 0px,#ff8500 330px,#ff9600 410px,#ffb600 468px,#ffdf00 508px,#fff200 521px,#ff0 553px,#ff0 602px)"></i>
<i style="height:3px;background:linear-gradient(90deg,#ff8d00 0px,#ff8500 330px,#ff9500 409px,#ffb600 466px,#ffdc00 504px,#fff000 517px,#ff0 553px,#ff0 602px)"></i>
<i style="height:3px;background:linear-gradient(90deg,#ff8d00 0px,#ff8500 329px,#ff9500 408px,#ffb600 465px,#ffdb00 501px,#fe0 513px,#ff0 553px,#ff0 602px)"></i>
<i style="height:3px;background:linear-gradient(90deg,#ff8d00 0px,#ff8500 329px,#ff9600 408px,#ffb600 464px,#ffda00 498px,#ffed00 510px,#ff0 553px,#ff0 602px)"></i>
<i style="height:3px;background:linear-gradient(90deg,#ff8d00 0px,#ff8500 328px,#ff9500 407px,#ffb500 462px,#ffd900 495px,#ffeb00 506px,#ff0 553px,#ff0 602px)"></i>
<i style="height:3px;background:linear-gradient(90deg,#ff8d00 0px,#ff8500 328px,#ff9500 406px,#ffb500 461px,#ffd700 492px,#ffea00 503px,#ff0 553px,#ff0 602px)"></i>
<i style="height:3px;background:linear-gradient(90deg,#ff8d00 0px,#ff8500 327px,#ff9500 405px,#ffb500 459px,#ffd600 489px,#ffe800 499px,#ff0 554px,#ff0 602px)"></i>
<i style="height:3px;background:linear-gradient(90deg,#ff8d00 0px,#ff8500 327px,#ff9600 405px,#ffb500 458px,#ffd400 486px,#ffe700 496px,#ff0 554px,#ff0 602px)"></i>
<i style="height:3px;background:linear-gradient(90deg,#ff8d00 0px,#ff8500 326px,#ff9500 403px,#ffb400 456px,#ffd300 483px,#ffe600 493px,#ff0 554px,#ff0 602px)"></i>
<i style="height:3px;background:linear-gradient(90deg,#ff8d00 0px,#ff8500 326px,#ff9500 403px,#ffb400 455px,#ffd300 481px,#ffe500 490px,#ff0 555px,#ff0 602px)"></i>
<i style="height:3px;background:linear-gradient(90deg,#ff8d00 0px,#ff8500 325px,#ff9500 402px,#ffb400 453px,#ffd200 478px,#ffe400 487px,#ff0 555px,#ff0 602px)"></i>
<i style="height:3px;background:linear-gradient(90deg,#ff8c00 0px,#ff8500 325px,#ff9500 401px,#ffb300 451px,#ffd000 475px,#ffe300 485px,#ff0 556px,#ff0 602px)"></i>
<i style="height:3px;background:linear-gradient(90deg,#ff8c00 0px,#ff8500 324px,#ff9500 400px,#ffb300 449px,#ffd000 473px,#ffe200 482px,#ff0 556px,#ff0 602px)"></i>
<i style="height:3px;background:linear-gradient(90deg,#ff8c00 0px,#ff8500 323px,#ff9500 399px,#ffb300 448px,#ffce00 470px,#ffe100 479px,#ff0 557px,#ff0 602px)"></i>
<i style="height:3px;background:linear-gradient(90deg,#ff8c00 0px,#ff8500 323px,#ff9500 398px,#ffb200 446px,#ffcf00 468px,#ffe000 476px,#ff0 557px,#ff0 602px)"></i>
<i style="height:3px;background:linear-gradient(90deg,#ff8c00 0px,#ff8500 322px,#ff9500 397px,#ffb200 444px,#fc0 465px,#ffe000 474px,#ff0 558px,#ff0 602px)"></i>
<i style="height:3px;background:linear-gradient(90deg,#ff8c00 0px,#ff8500 322px,#ff9500 396px,#ffb200 443px,#ffcd00 463px,#ffdf00 471px,#ff0 559px,#ff0 602px)"></i>
<i style="height:3px;background:linear-gradient(90deg,#ff8c00 0px,#ff8500 321px,#ff9500 395px,#ffb200 441px,#ffcd00 461px,#ffde00 469px,#fffe00 548px,#ff0 602px)"></i>
<i style="height:3px;background:linear-gradient(90deg,#ff8c00 0px,#ff8500 321px,#ff9600 395px,#ffb200 440px,#ffcb00 458px,#fd0 466px,#fffd00 547px,#ff0 602px)"></i>
<i style="height:3px;background:linear-gradient(90deg,#ff8c00 0px,#ff8500 320px,#ff9500 393px,#ffb100 437px,#ffcb00 456px,#fd0 464px,#fffb00 545px,#ff0 582px,#ff0 602px)"></i>
<i style="height:3px;background:linear-gradient(90deg,#ff8c00 0px,#ff8500 319px,#ff9500 392px,#ffb100 436px,#ffcb00 454px,#ffdc00 461px,#fffb00 545px,#ff0 574px,#ff0 602px)"></i>
<i style="height:3px;background:linear-gradient(90deg,#ff8c00 0px,#ff8500 319px,#ff9500 391px,#ffb100 434px,#ffcb00 452px,#ffdc00 459px,#fff900 543px,#ff0 566px,#ff0 602px)"></i>
<i style="height:3px;background:linear-gradient(90deg,#ff8c00 0px,#ff8500 318px,#ff9500 390px,#ffb000 432px,#ffc800 449px,#ffdc00 457px,#fff800 542px,#ff0 565px,#ff0 602px)"></i>
<i style="height:3px;background:linear-gradient(90deg,#ff8c00 0px,#ff8500 318px,#ff9500 390px,#ffb100 431px,#ffc800 447px,#ffdb00 454px,#fff700 542px,#ff0 565px,#ff0 602px)"></i>
<i style="height:3px;background:linear-gradient(90deg,#ff8c00 0px,#ff8500 317px,#ff9500 388px,#ffb000 429px,#ffc800 445px,#ffda00 452px,#fff600 541px,#ff0 565px,#ff0 602px)"></i>
<i style="height:3px;background:linear-gradient(90deg,#ff8c00 0px,#ff8500 316px,#ff9500 387px,#ffaf00 427px,#ffc700 443px,#ffda00 450px,#fff500 540px,#ff0 565px,#ff0 602px)"></i>
<i style="height:3px;background:linear-gradient(90deg,#ff8c00 0px,#ff8500 316px,#ff9500 386px,#ffb000 426px,#ffc700 441px,#ffda00 448px,#fff400 539px,#ff0 566px,#ff0 602px)"></i>
<i style="height:3px;background:linear-gradient(90deg,#ff8c00 0px,#ff8500 315px,#ff9500 385px,#ffaf00 424px,#ffc700 439px,#ffda00 446px,#fff300 539px,#ff0 567px,#ff0 602px)"></i>
<i style="height:3px;background:linear-gradient(90deg,#ff8c00 0px,#ff8500 314px,#ff9500 384px,#ffaf00 422px,#ffc700 437px,#ffd900 444px,#fff100 538px,#ff0 568px,#ff0 602px)"></i>
<i style="height:3px;background:linear-gradient(90deg,#ff8c00 0px,#ff8500 314px,#ff9500 383px,#ffaf00 421px,#ffc600 435px,#ffd900 442px,#fff000 538px,#ff0 569px,#ff0 602px)"></i>
<i style="height:3px;background:linear-gradient(90deg,#ff8c00 0px,#ff8500 313px,#ff9500 382px,#ffaf00 419px,#ffc600 433px,#ffd900 440px,#ffef00 538px,#ff0 570px,#ff0 602px)"></i>
<i style="height:3px;background:linear-gradient(90deg,#ff8c00 0px,#ff8500 312px,#ff9500 380px,#ffae00 417px,#ffc500 431px,#ffd900 438px,#fe0 538px,#ff0 571px,#ff0 602px)"></i>
<i style="height:3px;background:linear-gradient(90deg,#ff8c00 0px,#ff8500 312px,#ff9500 380px,#ffaf00 416px,#ffc500 429px,#ffd700 435px,#ffed00 539px,#ff0 573px,#ff0 602px)"></i>
<i style="height:3px;background:linear-gradient(90deg,#ff8c00 0px,#ff8500 311px,#ff9500 378px,#ffae00 414px,#ffc400 427px,#ffd700 433px,#ffeb00 539px,#ff0 574px,#ff0 602px)"></i>
<i style="height:3px;background:linear-gradient(90deg,#ff8c00 0px,#ff8500 310px,#ff9500 377px,#ffae00 412px,#ffc400 425px,#ffd800 432px,#ffea00 539px,#ff0 575px,#ff0 602px)"></i>
<i style="height:3px;background:linear-gradient(90deg,#ff8c00 0px,#ff8500 310px,#ff9500 376px,#ffae00 411px,#ffc300 423px,#ffd800 430px,#ffe800 539px,#ff0 577px,#ff0 602px)"></i>
<i style="height:3px;background:linear-gradient(90deg,#ff8c00 0px,#ff8500 309px,#ff9500 375px,#ffae00 409px,#ffc200 421px,#ffd700 428px,#ffe600 540px,#ff0 578px,#ff0 602px)"></i>
<i style="height:3px;background:linear-gradient(90deg,#ff8c00 0px,#ff8500 308px,#ff9500 374px,#ffad00 407px,#ffc200 419px,#ffd700 426px,#ffe300 540px,#fffb00 571px,#ff0 592px,#ff0 602px)"></i>
<i style="height:3px;background:linear-gradient(90deg,#ff8b00 0px,#ff8500 308px,#ff9500 373px,#ffae00 406px,#ffc400 418px,#ffd700 424px,#ffdc00 495px,#ffe200 543px,#fffb00 573px,#ff0 592px,#ff0 602px)"></i>
<i style="height:3px;background:linear-gradient(90deg,#ff8b00 0px,#ff8500 307px,#ff9500 372px,#ffad00 404px,#ffc300 416px,#ffd600 422px,#ffdb00 485px,#ffde00 540px,#fff300 569px,#ff0 582px,#ff0 602px)"></i>
<i style="height:3px;background:linear-gradient(90deg,#ff8b00 0px,#ff8500 306px,#ff9500 370px,#ffac00 402px,#ffc200 414px,#ffd600 420px,#ffdb00 478px,#ffda00 539px,#ffed00 567px,#ff0 583px,#ff0 602px)"></i>
<i style="height:3px;background:linear-gradient(90deg,#ff8b00 0px,#ff8500 306px,#ff9500 369px,#ffad00 401px,#ffc100 412px,#ffd600 418px,#ffda00 471px,#ffd600 539px,#ffe800 566px,#ff0 585px,#ff0 602px)"></i>
<i style="height:3px;background:linear-gradient(90deg,#ff8b00 0px,#ff8500 305px,#ff9500 368px,#ffac00 399px,#ffc000 410px,#ffd700 417px,#ffd900 474px,#ffd200 539px,#ffe200 564px,#ff0 586px,#ff0 602px)"></i>
<i style="height:3px;background:linear-gradient(90deg,#ff8b00 0px,#ff8500 304px,#ff9500 367px,#ffad00 398px,#ffc300 409px,#ffd600 415px,#ffd900 469px,#ffcd00 539px,#ffdb00 563px,#ff0 588px,#ff0 602px)"></i>
<i style="height:3px;background:linear-gradient(90deg,#ff8b00 0px,#ff8500 303px,#ff9500 366px,#ffac00 396px,#ffc200 407px,#ffd600 413px,#ffd900 463px,#ffc800 540px,#ffd500 563px,#fff900 584px,#ff0 593px,#ff0 602px)"></i>
<i style="height:3px;background:linear-gradient(90deg,#ff8b00 0px,#ff8500 303px,#ff9500 365px,#ffad00 395px,#ffc100 405px,#ffd500 411px,#ffd900 458px,#ffc100 541px,#ffcf00 563px,#fff000 582px,#ff0 590px,#ff0 602px)"></i>
<i style="height:3px;background:linear-gradient(90deg,#ff8b00 0px,#ff8500 302px,#ff9400 363px,#ffac00 393px,#ffc300 404px,#ffd500 409px,#ffd900 452px,#ffc600 506px,#ffba00 543px,#ffc700 563px,#ffe800 581px,#fffe00 591px,#ff0 602px)"></i>
<i style="height:3px;background:linear-gradient(90deg,#ff8b00 0px,#ff8500 301px,#ff9400 362px,#ffab00 391px,#ffc200 402px,#ffd600 408px,#ffd800 455px,#ffc200 505px,#ffb200 542px,#ffbc00 562px,#ffdc00 579px,#fffe00 592px,#ff0 602px)"></i>
<i style="height:3px;background:linear-gradient(90deg,#ff8b00 0px,#ff8500 301px,#ff9500 361px,#ffac00 390px,#ffc000 400px,#ffd500 406px,#ffd800 450px,#ffc500 495px,#ffa800 540px,#ffae00 559px,#ffc900 575px,#fffe00 593px,#ff0 602px)"></i>
<i style="height:3px;background:linear-gradient(90deg,#ff8b00 0px,#ff8500 300px,#ff9500 360px,#ffad00 389px,#ffc300 399px,#ffd500 404px,#ffd800 445px,#ffc700 487px,#ff9d00 541px,#ffa200 559px,#fb0 574px,#ffed00 589px,#fffe00 595px,#ff0 602px)"></i>
<i style="height:3px;background:linear-gradient(90deg,#ff8b00 0px,#ff8500 299px,#ff9500 359px,#ffac00 387px,#ffc100 397px,#ffd400 402px,#ffd900 439px,#ffc900 480px,#ff9000 542px,#ff9300 559px,#ffac00 573px,#ffd800 586px,#fffd00 595px,#ff0 602px)"></i>
<i style="height:3px;background:linear-gradient(90deg,#ff8b00 0px,#ff8500 298px,#ff9400 357px,#ffab00 385px,#ffc000 395px,#ffd500 401px,#ffd700 443px,#ffc500 480px,#ff9100 525px,#ff7f00 547px,#ff8600 562px,#ffa200 575px,#ffd200 587px,#fffd00 596px,#ff0 602px)"></i>
<i style="height:3px;background:linear-gradient(90deg,#ff8b00 0px,#ff8500 298px,#ff9500 357px,#ffac00 384px,#ffc200 394px,#ffd500 399px,#ffd800 437px,#ffc700 474px,#ffa000 507px,#ff7100 541px,#ff6d00 556px,#ff7d00 568px,#ffa000 579px,#ffd700 590px,#fffa00 596px,#ff0 602px)"></i>
<i style="height:3px;background:linear-gradient(90deg,#ff8b00 0px,#ff8500 297px,#ff9400 355px,#ffab00 382px,#ffc100 392px,#ffd400 397px,#ffd900 431px,#ffca00 467px,#ffa700 497px,#ff5d00 541px,#ff5700 556px,#ff6800 568px,#ff8e00 579px,#fc0 590px,#fffa00 597px,#ff0 602px)"></i>
<i style="height:3px;background:linear-gradient(90deg,#ff8b00 0px,#ff8500 296px,#ff9400 354px,#ffac00 381px,#ffbf00 390px,#ffd500 396px,#ffd700 435px,#ffc500 469px,#ffa100 496px,#ff4700 541px,#ff3e00 555px,#ff4b00 566px,#ff6b00 576px,#ffa200 586px,#fff600 597px,#ff0 601px,#ff0 602px)"></i>
<i style="height:3px;background:linear-gradient(90deg,#ff8b00 0px,#ff8500 295px,#ff9500 353px,#ffab00 379px,#ffc100 389px,#ffd500 394px,#ffd800 429px,#ffc700 463px,#ffa500 489px,#f60 517px,#ff2e00 541px,#ff2300 554px,#ff2e00 565px,#ff4a00 574px,#ff7c00 583px,#ffc200 592px,#fff700 598px,#ff0 602px)"></i>
<i style="height:3px;background:linear-gradient(90deg,#ff8b00 0px,#ff8500 295px,#ff9500 352px,#ffab00 378px,#ffbf00 387px,#ffd500 393px,#ffd700 431px,#ffc500 462px,#ffa300 486px,#ff6c00 509px,#ff1900 538px,#ff0a00 551px,#ff1000 564px,#ff2700 572px,#ff5900 581px,#f90 589px,#fff300 598px,#fffe00 601px,#ff0 602px)"></i>
<i style="height:3px;background:linear-gradient(90deg,#ff8b00 0px,#ff8500 294px,#ff9500 351px,#ffac00 377px,#ffc200 386px,#ffd500 391px,#ffd800 426px,#ffc700 457px,#ffa700 480px,#ff7400 501px,#ff0f00 532px,#fc0200 543px,#fb0100 561px,#ff0900 570px,#ff2100 576px,#ff5b00 584px,#ffa900 592px,#ffef00 598px,#fffe00 601px,#ff0 602px)"></i>
<i style="height:3px;background:linear-gradient(90deg,#ff8b00 0px,#ff8500 293px,#ff9400 349px,#ffab00 375px,#ffc000 384px,#ffd400 389px,#ffd800 421px,#ffc900 452px,#fa0 475px,#ff7b00 494px,#ff2b00 516px,#ff0900 526px,#f50000 537px,#e40000 552px,#ed0000 563px,#ff0500 574px,#ff1800 578px,#ff5c00 586px,#ffb700 594px,#fff400 599px,#ff0 602px)"></i>
<i style="height:3px;background:linear-gradient(90deg,#ff8b00 0px,#ff8500 292px,#ff9400 348px,#fa0 373px,#ffbe00 382px,#ffd500 388px,#ffd700 423px,#ffc700 452px,#ffa700 473px,#f70 491px,#ff2d00 510px,#ff0900 519px,#f40000 528px,#d00000 545px,#ce0000 556px,#e10000 566px,#fd0100 575px,#ff0900 578px,#ff3100 583px,#ff8a00 591px,#fff200 599px,#fffe00 602px)"></i>
<i style="height:3px;background:linear-gradient(90deg,#ff8b00 0px,#ff8500 292px,#ff9400 347px,#ffab00 372px,#ffc000 381px,#ffd500 386px,#ffd800 418px,#ffc800 448px,#ffa900 469px,#ff7b00 486px,#ff3500 503px,#ff0a00 513px,#f40000 521px,#bf0000 539px,#b40000 550px,#c00000 560px,#e20000 570px,#fc0000 576px,#ff0700 579px,#ff2900 583px,#ff8500 591px,#fff100 599px,#fffd00 601px,#fffe00 602px)"></i>
<i style="height:3px;background:linear-gradient(90deg,#ff8b00 0px,#ff8500 291px,#ff9400 346px,#ffab00 371px,#ffbe00 379px,#ffd500 385px,#ffd700 420px,#ffc500 448px,#ffa400 468px,#ff7400 484px,#ff3200 499px,#fe0900 508px,#f30000 515px,#b00000 534px,#9e0000 545px,#a50000 555px,#c40000 565px,#fd0100 577px,#ff0b00 580px,#ff4800 586px,#ffae00 594px,#fff100 599px,#fffd00 601px,#fffe00 602px)"></i>
<i style="height:3px;background:linear-gradient(90deg,#ff8b00 0px,#ff8500 290px,#ff9500 345px,#ffab00 369px,#ffc000 378px,#ffd500 383px,#ffd800 415px,#ffc800 443px,#ffa800 463px,#ff7900 479px,#ff3b00 493px,#fe0900 503px,#f20000 510px,#a40000 529px,#8d0000 539px,#8c0000 548px,#a30000 558px,#d40000 569px,#fb0000 576px,#ff0800 579px,#ff2c00 583px,#ff9700 592px,#ffe800 598px,#fff900 600px,#fffe00 602px)"></i>
<i style="height:3px;background:linear-gradient(90deg,#ff8b00 0px,#ff8500 289px,#ff9400 343px,#ffab00 368px,#ffbe00 376px,#ffd400 381px,#ffd900 407px,#ffcb00 437px,#ffaf00 457px,#ff8300 473px,#ff4500 487px,#ff0b00 498px,#f50000 504px,#960000 525px,#7d0000 535px,#7b0000 544px,#8e0000 553px,#bd0000 564px,#fb0100 575px,#ff0900 578px,#ff2c00 582px,#ffac00 593px,#ffeb00 598px,#fffb00 600px,#ff0 602px)"></i>
<i style="height:3px;background:linear-gradient(90deg,#ff8b00 0px,#ff8500 289px,#ff9400 342px,#fa0 366px,#ffc000 375px,#ffd500 380px,#ffd800 411px,#ffc800 438px,#ffa800 457px,#ff7a00 472px,#ff3c00 485px,#fe0a00 494px,#f30000 500px,#8a0000 521px,#700000 530px,#6b0000 539px,#7c0000 548px,#a00 559px,#f90000 573px,#ff0700 576px,#ff2700 580px,#ffa900 592px,#ffef00 598px,#fffe00 601px,#ff0 602px)"></i>
<i style="height:3px;background:linear-gradient(90deg,#ff8b00 0px,#ff8500 288px,#ff9400 341px,#ffab00 365px,#ffbe00 373px,#ffd400 378px,#ffd900 404px,#fc0 432px,#ffb000 451px,#ff8500 466px,#ff4e00 478px,#fe0a00 490px,#f50100 495px,#800000 517px,#640000 526px,#5e0000 534px,#6d0000 543px,#9a0000 554px,#f90100 571px,#ff0d00 575px,#ff5600 583px,#fff300 598px,#fffe00 601px,#ff0 602px)"></i>
<i style="height:3px;background:linear-gradient(90deg,#ff8b00 0px,#ff8500 287px,#ff9400 340px,#fa0 363px,#ffc000 372px,#ffd500 377px,#ffd800 407px,#ffc800 433px,#ffa900 451px,#ff7d00 465px,#ff4100 477px,#fe0a00 486px,#f50100 491px,#a30000 505px,#6b0000 516px,#560000 524px,#500 532px,#6a0000 541px,#a20000 553px,#f70000 568px,#ff0900 572px,#ff3000 577px,#ffdc00 595px,#fff600 598px,#ff0 601px,#ff0 602px)"></i>
<i style="height:3px;background:linear-gradient(90deg,#ff8b00 0px,#ff8500 286px,#ff9400 339px,#fa0 362px,#ffbe00 370px,#ffd400 375px,#ffd900 400px,#fc0 427px,#ffb100 445px,#ff8900 459px,#ff5000 471px,#fe0800 483px,#f10000 488px,#760000 508px,#530000 517px,#490000 525px,#500 533px,#7c0000 543px,#f60000 565px,#fe0800 569px,#ff2a00 574px,#fff400 597px,#fffe00 600px,#ff0 602px)"></i>
<i style="height:3px;background:linear-gradient(90deg,#ff8b00 0px,#ff8600 286px,#ff9400 338px,#ffab00 361px,#ffc000 369px,#ffd500 374px,#ffd800 403px,#ffc900 428px,#ffab00 445px,#ff8100 458px,#ff4900 469px,#fe0a00 479px,#f20000 484px,#6c0000 505px,#4b0000 513px,#410000 520px,#4c0000 528px,#720000 538px,#f60000 562px,#fe0700 566px,#ff2700 571px,#fff700 597px,#ff0 601px,#ff0 602px)"></i>
<i style="height:3px;background:linear-gradient(90deg,#ff8b00 0px,#ff8600 285px,#ff9500 337px,#fa0 359px,#ffbe00 367px,#ffd400 372px,#ffd900 396px,#fc0 423px,#ffb100 440px,#ff8a00 453px,#ff5400 464px,#fe0800 476px,#ef0000 481px,#680000 501px,#450000 509px,#3a0000 516px,#450000 524px,#6d0000 534px,#f70000 559px,#ff0b00 564px,#ff9c00 584px,#fff500 596px,#ff0 600px,#ff0 602px)"></i>
<i style="height:3px;background:linear-gradient(90deg,#ff8b00 0px,#ff8500 284px,#ff9400 335px,#ffab00 358px,#ffc000 366px,#ffd500 371px,#ffd800 399px,#ffca00 423px,#ffae00 439px,#ff8300 452px,#ff4e00 462px,#fe0b00 472px,#f20000 477px,#650000 497px,#400000 505px,#340000 512px,#400000 520px,#690000 530px,#f40000 555px,#fe0700 560px,#ff2c00 566px,#fff900 596px,#ff0 601px,#ff0 602px)"></i>
<i style="height:3px;background:linear-gradient(90deg,#ff8b00 0px,#ff8500 283px,#ff9400 334px,#ffa900 356px,#ffbd00 364px,#ffd400 369px,#ffd900 392px,#ffcd00 418px,#ffb200 435px,#f80 448px,#f50 458px,#fe0a00 469px,#f50100 473px,#c40000 480px,#630000 493px,#3f0000 500px,#300000 507px,#360000 514px,#560000 523px,#f60000 552px,#ff0800 557px,#ff3900 565px,#fff700 595px,#ff0 599px,#ff0 602px)"></i>
<i style="height:3px;background:linear-gradient(90deg,#ff8b00 0px,#ff8500 282px,#ff9400 333px,#fa0 355px,#ffbf00 363px,#ffd500 368px,#ffd900 395px,#ffc900 419px,#ffac00 435px,#ff8100 447px,#ff4900 457px,#fe0a00 466px,#f30100 470px,#b90000 478px,#5d0000 490px,#390000 497px,#2b0000 504px,#300 511px,#570000 520px,#f30000 548px,#fe0500 553px,#ff2500 559px,#ffd400 588px,#fffa00 595px,#ff0 602px)"></i>
<i style="height:3px;background:linear-gradient(90deg,#ff8b00 0px,#ff8600 282px,#ff9400 332px,#ffab00 354px,#ffbd00 361px,#ffd400 366px,#ffda00 387px,#ffce00 413px,#ffb300 430px,#ff8c00 442px,#ff5700 452px,#fe0900 463px,#f20100 467px,#b50000 475px,#570000 487px,#300 494px,#270000 500px,#2f0000 507px,#530000 516px,#f10000 544px,#fe0300 549px,#ff1900 554px,#ffa500 578px,#fff900 594px,#ff0 600px,#ff0 602px)"></i>
<i style="height:3px;background:linear-gradient(90deg,#ff8b00 0px,#ff8600 281px,#ff9400 331px,#ffab00 353px,#ffbe00 360px,#ffd500 365px,#ffd900 391px,#ffcb00 414px,#ffaf00 429px,#ff8500 441px,#ff5300 450px,#fe0a00 460px,#f20100 464px,#b30000 472px,#580000 483px,#320000 490px,#240000 496px,#2b0000 503px,#4f0000 512px,#e00 540px,#fd0200 545px,#ff1400 550px,#ff9500 573px,#fffb00 594px,#ff0 602px)"></i>
<i style="height:3px;background:linear-gradient(90deg,#ff8b00 0px,#ff8600 280px,#ff9400 329px,#fa0 351px,#ffbc00 358px,#ffd400 363px,#ffda00 381px,#ffd000 407px,#ffb600 424px,#ff9000 436px,#ff5b00 446px,#fe0a00 457px,#f20100 461px,#b10000 469px,#540000 480px,#2d0000 487px,#200000 493px,#290000 500px,#500000 509px,#ec0000 536px,#fc0100 541px,#ff0f00 546px,#ff8c00 569px,#fffb00 593px,#ff0 602px)"></i>
<i style="height:3px;background:linear-gradient(90deg,#ff8b00 0px,#ff8600 279px,#ff9400 328px,#ffa900 349px,#ffbe00 357px,#ffd500 362px,#ffd900 387px,#ffcb00 410px,#ffae00 425px,#ff8500 436px,#ff5000 445px,#fe0b00 454px,#f20100 458px,#b80000 465px,#580000 476px,#2d0000 483px,#1e0000 489px,#230000 495px,#420000 503px,#e90000 532px,#fd0100 538px,#ff1000 543px,#ff8300 565px,#fffc00 593px,#ff0 602px)"></i>
<i style="height:3px;background:linear-gradient(90deg,#ff8a00 0px,#ff8500 278px,#ff9400 327px,#ffa900 348px,#ffc000 356px,#ffd600 361px,#ffd900 388px,#ffca00 409px,#ffae00 423px,#ff8300 434px,#ff4c00 443px,#fe0c00 451px,#f30100 455px,#c10000 461px,#500 473px,#2e0000 479px,#1c0000 485px,#1f0000 491px,#3d0000 499px,#e50000 528px,#fc0100 534px,#ff0c00 539px,#ff7c00 561px,#fffc00 592px,#ff0 602px)"></i>
<i style="height:3px;background:linear-gradient(90deg,#ff8a00 0px,#ff8600 278px,#ff9400 326px,#fa0 347px,#ffbd00 354px,#ffd500 359px,#ffda00 380px,#ffce00 404px,#ffb300 419px,#ff8b00 430px,#ff5700 439px,#fd0900 449px,#ed0000 453px,#800 464px,#430000 472px,#230000 478px,#190000 484px,#240000 490px,#4e0000 499px,#d00 523px,#fb0000 530px,#ff0900 535px,#ff7e00 559px,#fffb00 591px,#ff0 602px)"></i>
<i style="height:3px;background:linear-gradient(90deg,#ff8a00 0px,#ff8600 277px,#ff9400 325px,#ffab00 346px,#ffbf00 353px,#ffd600 358px,#ffda00 383px,#ffcb00 404px,#ffb000 418px,#ff8a00 428px,#ff5300 437px,#fe0a00 446px,#ef0000 450px,#a50000 458px,#490000 468px,#240000 474px,#170000 480px,#200000 486px,#400 494px,#d90000 519px,#f90000 526px,#ff0900 532px,#f70 555px,#fff700 589px,#ff0 595px,#ff0 602px)"></i>
<i style="height:3px;background:linear-gradient(90deg,#ff8a00 0px,#ff8600 276px,#ff9400 324px,#ffa900 344px,#ffbc00 351px,#ffd400 356px,#ffdb00 374px,#ffd000 398px,#ffb700 413px,#ff9200 424px,#ff5e00 433px,#fe0d00 443px,#f10100 447px,#b00000 454px,#500000 464px,#270000 470px,#170000 475px,#1a0000 481px,#340000 488px,#db0000 516px,#fa0000 523px,#ff0a00 529px,#ff7100 551px,#ffe900 584px,#fffe00 591px,#ff0 602px)"></i>
<i style="height:3px;background:linear-gradient(90deg,#ff8a00 0px,#ff8600 275px,#ff9400 322px,#fa0 343px,#ffbd00 350px,#ffd500 355px,#ffda00 378px,#ffcd00 399px,#ffb200 413px,#ff8c00 423px,#ff5b00 431px,#fd0900 441px,#f30100 444px,#c70000 449px,#4f0000 461px,#260000 467px,#150000 472px,#180000 478px,#340000 485px,#d70000 512px,#fa0000 520px,#ff0a00 526px,#ff6b00 547px,#ffd600 577px,#fffd00 590px,#ff0 602px)"></i>
<i style="height:3px;background:linear-gradient(90deg,#ff8a00 0px,#ff8600 275px,#ff9400 322px,#fa0 342px,#ffbf00 349px,#ffd600 354px,#ffda00 379px,#ffcb00 399px,#ffaf00 412px,#ff8600 422px,#ff5100 430px,#fe0c00 438px,#f50100 441px,#d40000 445px,#4f0000 458px,#240000 464px,#140000 469px,#170000 475px,#340000 482px,#d30000 508px,#f80000 516px,#ff0700 522px,#ff6d00 545px,#ffd600 576px,#fffe00 590px,#ff0 602px)"></i>
<i style="height:3px;background:linear-gradient(90deg,#ff8a00 0px,#ff8600 274px,#ff9400 320px,#ffa900 340px,#ffbc00 347px,#ffd500 352px,#ffdb00 372px,#ffcf00 394px,#ffb500 408px,#ff8f00 418px,#ff5e00 426px,#fd0900 436px,#f10100 439px,#b80000 445px,#500000 455px,#240000 461px,#130000 466px,#140000 471px,#2f0000 478px,#ce0000 504px,#f80000 513px,#ff0700 519px,#ff6b00 542px,#ffce00 572px,#fffe00 589px,#ff0 602px)"></i>
<i style="height:3px;background:linear-gradient(90deg,#ff8a00 0px,#ff8600 273px,#ff9400 319px,#fa0 339px,#ffbe00 346px,#ffd600 351px,#ffda00 374px,#ffcd00 394px,#ffb200 407px,#ff8900 417px,#ff5300 425px,#fe0c00 433px,#f40100 436px,#d10000 440px,#510000 452px,#230000 458px,#100 463px,#130000 468px,#2e0000 475px,#ca0000 500px,#f90000 510px,#ff0700 516px,#ff6900 539px,#ffc900 569px,#fffd00 588px,#ff0 602px)"></i>
<i style="height:3px;background:linear-gradient(90deg,#ff8a00 0px,#ff8600 272px,#ff9400 318px,#fa0 338px,#ffc000 345px,#ffd400 349px,#ffdb00 365px,#ffd200 388px,#ffba00 402px,#ff9700 412px,#ff6900 420px,#ff2c00 427px,#fd0a00 431px,#f10100 434px,#c00000 439px,#490000 450px,#230000 455px,#100 460px,#120000 465px,#2d0000 472px,#ca0000 497px,#f90000 507px,#ff0700 513px,#ff6400 535px,#ffbc00 563px,#fffe00 588px,#ff0 602px)"></i>
<i style="height:3px;background:linear-gradient(90deg,#ff8a00 0px,#ff8600 271px,#ff9400 317px,#ffa900 336px,#ffbd00 343px,#ffd600 348px,#ffdb00 369px,#ffcf00 389px,#ffb500 402px,#ff9200 411px,#ff5f00 419px,#fe0e00 428px,#f40200 431px,#d00000 435px,#4c0000 447px,#240000 452px,#100000 457px,#100 462px,#270000 468px,#cb0000 494px,#f90000 504px,#ff0600 510px,#ff6200 532px,#ffb800 560px,#fffe00 587px,#ff0 602px)"></i>
<i style="height:3px;background:linear-gradient(90deg,#ff8a00 0px,#ff8600 271px,#ff9400 316px,#ffa900 335px,#ffbe00 342px,#ffd600 347px,#ffdb00 370px,#ffcd00 389px,#ffb200 401px,#ff8d00 410px,#ff5e00 417px,#fd0b00 426px,#f10100 429px,#bf0000 434px,#4e0000 444px,#250000 449px,#100000 454px,#100000 459px,#260000 465px,#c50000 490px,#f60000 500px,#ff0400 506px,#ff6700 531px,#ffbf00 561px,#fffe00 587px,#ff0 602px)"></i>
<i style="height:3px;background:linear-gradient(90deg,#ff8a00 0px,#ff8600 270px,#ff9400 315px,#fa0 334px,#ffc000 341px,#ffd500 345px,#ffdc00 361px,#ffd200 383px,#fb0 396px,#ff9700 406px,#ff6400 414px,#fd0900 424px,#ee0100 427px,#ae0000 433px,#480000 442px,#200000 447px,#0d0000 452px,#100 457px,#300000 464px,#c00000 486px,#f60000 497px,#ff0300 503px,#ff6500 528px,#ffb900 557px,#fffe00 586px,#ff0 602px)"></i>
<i style="height:3px;background:linear-gradient(90deg,#ff8a00 0px,#ff8600 269px,#ff9400 314px,#fa0 333px,#ffbd00 339px,#ffd600 344px,#ffdb00 365px,#ffcf00 384px,#ffb600 396px,#ff9100 405px,#ff6300 412px,#fe0e00 421px,#f30200 424px,#c00 428px,#4b0000 439px,#210000 444px,#0d0000 449px,#100000 454px,#290000 460px,#bf0000 483px,#f60000 494px,#ff0300 500px,#ff2f00 511px,#ff7600 531px,#ffd300 566px,#fffe00 586px,#ff0 602px)"></i>
<i style="height:3px;background:linear-gradient(90deg,#ff8a00 0px,#ff8600 268px,#ff9400 312px,#ffa900 331px,#ffbe00 338px,#ffd700 343px,#ffdb00 366px,#ffcd00 384px,#ffb000 396px,#ff8c00 404px,#ff5900 411px,#fd0c00 419px,#f00100 422px,#b00 427px,#450000 437px,#1d0000 442px,#0c0000 447px,#100 452px,#300 459px,#b90000 479px,#f50000 491px,#ff0300 497px,#ff2600 506px,#ff6b00 525px,#ffc000 557px,#fffe00 585px,#ff0 602px)"></i>
<i style="height:3px;background:linear-gradient(90deg,#ff8a00 0px,#ff8600 267px,#ff9400 311px,#fa0 330px,#fb0 336px,#ffd500 341px,#ffdc00 356px,#ffd400 377px,#ffbd00 390px,#ff9c00 399px,#ff7100 406px,#ff3000 413px,#fd0a00 417px,#ee0100 420px,#b60000 425px,#4a0000 434px,#1f0000 439px,#0b0000 444px,#100000 449px,#320000 456px,#b80000 476px,#f50000 488px,#ff0200 494px,#ff1c00 501px,#ff6000 519px,#ffaf00 548px,#ff0 585px,#ff0 602px)"></i>
<i style="height:3px;background:linear-gradient(90deg,#ff8a00 0px,#ff8600 267px,#ff9400 310px,#fa0 329px,#ffbc00 335px,#ffd600 340px,#ffdc00 360px,#ffcf00 379px,#ffb500 391px,#ff9200 399px,#ff6000 406px,#fe1000 414px,#f30200 417px,#cb0000 421px,#4f0000 431px,#210000 436px,#0e0000 440px,#0c0000 445px,#240000 451px,#bd0000 474px,#f40000 485px,#ff0200 491px,#ff1b00 498px,#ff5e00 516px,#ffab00 545px,#fffe00 584px,#ff0 602px)"></i>
<i style="height:3px;background:linear-gradient(90deg,#ff8a00 0px,#ff8600 266px,#ff9400 309px,#ffa900 327px,#ffbe00 334px,#ffd700 339px,#ffdc00 361px,#ffcd00 379px,#ffb200 390px,#ff8c00 398px,#ff5600 405px,#fd0e00 412px,#f10200 415px,#c70000 419px,#490000 429px,#1d0000 434px,#0c0000 438px,#0d0000 443px,#270000 449px,#b60000 470px,#f40000 482px,#ff0200 488px,#ff1500 494px,#ff5900 512px,#ffa400 540px,#ff0 584px,#ff0 602px)"></i>
<i style="height:3px;background:linear-gradient(90deg,#ff8a00 0px,#ff8600 265px,#ff9400 308px,#ffa900 326px,#fb0 332px,#ffd500 337px,#fd0 351px,#ffd400 372px,#ffbc00 385px,#ff9800 394px,#ff6800 401px,#fd0d00 410px,#ef0100 413px,#c30000 417px,#400 427px,#1a0000 432px,#0a0000 436px,#0e0000 441px,#2b0000 447px,#b50000 467px,#f30000 479px,#fe0100 484px,#ff0b00 489px,#ff5400 508px,#ff9c00 535px,#fffe00 583px,#ff0 602px)"></i>
<i style="height:3px;background:linear-gradient(90deg,#ff8a00 0px,#ff8600 264px,#ff9400 307px,#fa0 325px,#ffbc00 331px,#ffd600 336px,#fd0 355px,#ffd100 373px,#ffb700 385px,#ff9300 393px,#ff5e00 400px,#fd0c00 408px,#ed0100 411px,#b20000 416px,#4b0000 424px,#1d0000 429px,#0b0000 433px,#0c0000 438px,#290000 444px,#b40000 464px,#f20000 476px,#fe0000 481px,#ff0a00 486px,#ff5200 505px,#f90 532px,#fffe00 582px,#ff0 602px)"></i>
<i style="height:3px;background:linear-gradient(90deg,#ff8a00 0px,#ff8600 264px,#ff9400 306px,#fa0 324px,#ffbd00 330px,#ffd700 335px,#ffdc00 356px,#ffcf00 373px,#ffb400 384px,#ff8d00 392px,#ff5e00 398px,#fc0b00 406px,#eb0100 409px,#ae0000 414px,#460000 422px,#1a0000 427px,#090000 431px,#0e0000 436px,#2c0000 442px,#b20000 461px,#f10000 473px,#fe0000 478px,#ff0900 483px,#ff5000 502px,#ff9500 528px,#fffe00 581px,#ff0 602px)"></i>
<i style="height:3px;background:linear-gradient(90deg,#ff8a00 0px,#ff8600 263px,#ff9400 305px,#ffa800 322px,#ffba00 328px,#ffd500 333px,#fd0 346px,#ffd500 367px,#ffbe00 379px,#ff9a00 388px,#ff6700 395px,#fc0b00 404px,#ea0100 407px,#9d0000 413px,#420000 420px,#1d0000 424px,#0a0000 428px,#0a0000 432px,#1d0000 437px,#b60000 459px,#f40000 471px,#ff0100 477px,#ff1400 483px,#f50 501px,#ff9b00 529px,#fffe00 581px,#ff0 602px)"></i>
<i style="height:3px;background:linear-gradient(90deg,#ff8a00 0px,#ff8600 262px,#ff9400 304px,#ffa900 321px,#fb0 327px,#ffd600 332px,#fd0 349px,#ffd300 367px,#ffbc00 378px,#ff9a00 386px,#ff7100 392px,#f30 398px,#fb0a00 402px,#e80100 405px,#900 411px,#3e0000 418px,#1a0000 422px,#090000 426px,#0a0000 430px,#260000 436px,#ae0000 455px,#e00 467px,#fd0000 472px,#ff0a00 478px,#ff4d00 496px,#ff9000 522px,#fffe00 580px,#ff0 602px)"></i>
<i style="height:3px;background:linear-gradient(90deg,#ff8a00 0px,#ff8600 261px,#ff9400 302px,#ffa900 320px,#ffbd00 326px,#ffd700 331px,#fd0 350px,#ffd100 367px,#ffb700 378px,#ff8f00 386px,#ff5f00 392px,#fd1100 399px,#f00200 402px,#c10000 406px,#460000 415px,#1f0000 419px,#0a0000 423px,#090000 427px,#1d0000 432px,#b20000 453px,#f10000 465px,#fe0000 470px,#ff0900 475px,#ff4e00 494px,#ff8f00 520px,#fffd00 579px,#ff0 602px)"></i>
<i style="height:3px;background:linear-gradient(90deg,#ff8a00 0px,#ff8600 260px,#ff9400 301px,#ffa800 318px,#ffbe00 325px,#ffd500 329px,#fd0 339px,#ffd800 360px,#ffc400 372px,#ffa200 381px,#ff7200 388px,#ff3200 394px,#fd1100 397px,#ef0200 400px,#bf0000 404px,#4e0000 412px,#240000 416px,#0c0000 420px,#080000 424px,#1a0000 429px,#610000 439px,#b60000 451px,#f00000 462px,#fe0000 467px,#ff0b00 473px,#ff4c00 491px,#ff8d00 517px,#fffc00 578px,#ff0 602px)"></i>
<i style="height:3px;background:linear-gradient(90deg,#ff8a00 0px,#ff8600 260px,#ff9400 301px,#fa0 318px,#ffc000 324px,#ffd600 328px,#ffde00 342px,#ffd500 361px,#ffbf00 372px,#ff9d00 380px,#ff7300 386px,#ff3200 392px,#fd1000 395px,#ee0200 398px,#bc0000 402px,#4b0000 410px,#210000 414px,#0a0000 418px,#080000 422px,#1c0000 427px,#b40000 448px,#f20000 460px,#fe0000 465px,#ff0900 470px,#ff4a00 488px,#ff8a00 514px,#fffc00 577px,#ff0 602px)"></i>
<i style="height:3px;background:linear-gradient(90deg,#ff8a00 0px,#ff8600 259px,#ff9400 299px,#ffa900 316px,#ffbc00 322px,#ffd700 327px,#ffde00 345px,#ffd200 362px,#ffba00 372px,#f90 379px,#ff6a00 385px,#fd1000 393px,#ed0200 396px,#b00 400px,#480000 408px,#1f0000 412px,#090000 416px,#090000 420px,#1e0000 425px,#b10000 445px,#ec0000 456px,#fe0000 462px,#ff0b00 468px,#ff4b00 486px,#ff8a00 512px,#fffc00 577px,#ff0 602px)"></i>
<i style="height:3px;background:linear-gradient(90deg,#ff8a00 0px,#ff8600 258px,#ff9400 298px,#ffa900 315px,#ffbd00 321px,#ffd800 326px,#ffde00 345px,#ffd100 361px,#ffb700 371px,#ff9300 378px,#ff6200 384px,#fd1000 391px,#ed0200 394px,#b90000 398px,#450000 406px,#1c0000 410px,#080000 414px,#090000 418px,#210000 423px,#ae0000 442px,#ea0000 453px,#fd0000 459px,#ff0a00 465px,#ff4900 483px,#f80 509px,#fffa00 575px,#ff0 587px,#ff0 602px)"></i>
<i style="height:3px;background:linear-gradient(90deg,#ff8a00 0px,#ff8600 257px,#ff9400 297px,#fa0 314px,#ffbf00 320px,#ffd600 324px,#ffde00 335px,#ffd700 355px,#ffc200 366px,#ffa100 374px,#ff7600 380px,#ff4000 385px,#fd1100 389px,#ec0200 392px,#b80000 396px,#430000 404px,#1a0000 408px,#070000 412px,#0a0000 416px,#230000 421px,#ab0000 439px,#e80000 450px,#fd0000 456px,#ff0800 462px,#ff4a00 481px,#f80 507px,#fffb00 575px,#ff0 591px,#ff0 602px)"></i>
<i style="height:3px;background:linear-gradient(90deg,#ff8a00 0px,#ff8600 256px,#ff9400 296px,#fa0 313px,#ffc000 319px,#ffd700 323px,#ffde00 337px,#ffd600 355px,#ffbd00 366px,#ff9d00 373px,#ff6e00 379px,#ff2800 385px,#fa0900 388px,#e10100 391px,#400000 402px,#180000 406px,#070000 410px,#0b0000 414px,#250000 419px,#a80000 436px,#e60000 447px,#fc0000 453px,#ff0700 459px,#ff4900 478px,#ff8500 504px,#fff500 571px,#ff0 581px,#ff0 602px)"></i>
<i style="height:3px;background:linear-gradient(90deg,#ff8a00 0px,#ff8600 256px,#ff9400 295px,#ffa800 311px,#ffbc00 317px,#ffd800 322px,#ffde00 339px,#ffd400 355px,#fb0 365px,#ff9800 372px,#ff6500 378px,#fd1100 385px,#ec0200 388px,#b60000 392px,#4b0000 399px,#1f0000 403px,#080000 407px,#080000 411px,#210000 416px,#ab0000 434px,#e90000 445px,#fd0000 451px,#ff0800 457px,#ff4700 475px,#ff8300 501px,#fe0 566px,#ff0 579px,#ff0 602px)"></i>
<i style="height:3px;background:linear-gradient(90deg,#ff8a00 0px,#ff8600 255px,#ff9400 294px,#ffa900 310px,#ffbd00 316px,#ffd900 321px,#ffde00 340px,#ffd100 355px,#ffb900 364px,#ff9300 371px,#ff6700 376px,#fd1200 383px,#ec0200 386px,#b50000 390px,#490000 397px,#1d0000 401px,#0b0000 404px,#070000 408px,#1c0000 413px,#ae0000 432px,#eb0000 443px,#fe0000 449px,#ff0a00 455px,#ff4800 473px,#ff8300 499px,#ffef00 566px,#ff0 579px,#ff0 602px)"></i>
<i style="height:3px;background:linear-gradient(90deg,#ff8a00 0px,#ff8600 254px,#ff9400 293px,#ffa900 309px,#ffbf00 315px,#ffd700 319px,#ffdf00 330px,#ffd800 349px,#ffc100 360px,#ffa200 367px,#ff7300 373px,#ff3900 378px,#fd1300 381px,#ec0200 384px,#b40000 388px,#480000 395px,#1c0000 399px,#0a0000 402px,#070000 406px,#1e0000 411px,#a00 429px,#e80000 440px,#fd0000 446px,#ff0800 452px,#ff4600 470px,#ff8100 496px,#ffe700 560px,#ff0 578px,#ff0 602px)"></i>
<i style="height:3px;background:linear-gradient(90deg,#ff8a00 0px,#ff8600 253px,#ff9400 292px,#fa0 308px,#ffc000 314px,#ffd700 318px,#ffdf00 332px,#ffd600 349px,#ffbf00 359px,#ff9d00 366px,#ff7500 371px,#ff3a00 376px,#fd1400 379px,#ec0200 382px,#c40000 385px,#460000 393px,#1a0000 397px,#090000 400px,#080000 404px,#200000 409px,#a60000 426px,#e60000 437px,#fc0000 443px,#ff0600 449px,#ff4700 468px,#ff8100 494px,#ffe800 560px,#ff0 578px,#ff0 602px)"></i>
<i style="height:3px;background:linear-gradient(90deg,#ff8a00 0px,#ff8600 253px,#ff9400 291px,#fa0 307px,#ffbc00 312px,#ffd800 317px,#ffdf00 333px,#ffd400 349px,#ffbd00 358px,#ff9800 365px,#ff6d00 370px,#fd1500 377px,#ed0200 380px,#c40000 383px,#450000 391px,#190000 395px,#080000 398px,#080000 402px,#200 407px,#a90000 424px,#e80000 435px,#fd0000 441px,#ff0800 447px,#ff4500 465px,#ff7d00 490px,#ffda00 550px,#ff0 577px,#ff0 602px)"></i>
<i style="height:3px;background:linear-gradient(90deg,#ff8a00 0px,#ff8600 252px,#ff9400 290px,#ffa800 305px,#ffbd00 311px,#ffd900 316px,#ffdf00 334px,#ffd300 348px,#fb0 357px,#ff9300 364px,#ff6400 369px,#fd1700 375px,#f60600 377px,#d40000 380px,#400 389px,#180000 393px,#080000 396px,#080000 400px,#230000 405px,#a50000 421px,#e00000 431px,#fc0000 438px,#ff0600 444px,#ff4600 463px,#ff7f00 489px,#ffe200 555px,#ff0 577px,#ff0 602px)"></i>
<i style="height:3px;background:linear-gradient(90deg,#ff8a00 0px,#ff8600 251px,#ff9400 289px,#ffa900 304px,#ffbe00 310px,#ffd700 314px,#ffdf00 324px,#ffda00 342px,#ffc700 352px,#ffa900 359px,#ff7c00 365px,#ff4100 370px,#fb0e00 374px,#ee0300 376px,#c60000 379px,#400 387px,#170000 391px,#070000 394px,#090000 398px,#250000 403px,#a70000 419px,#e20000 429px,#fd0000 436px,#ff0700 442px,#f40 460px,#ff7b00 485px,#ffd400 544px,#ff0 577px,#ff0 602px)"></i>
<i style="height:3px;background:linear-gradient(90deg,#ff8a00 0px,#ff8600 250px,#ff9400 287px,#ffa900 303px,#ffbf00 309px,#ffd800 313px,#ffe000 325px,#ffd800 342px,#ffc200 352px,#ff9f00 359px,#ff7400 364px,#ff3500 369px,#fb0f00 372px,#ef0300 374px,#c70000 377px,#430000 385px,#1f0000 388px,#0a0000 391px,#050000 394px,#120000 398px,#480000 405px,#a20000 416px,#df0000 426px,#fc0000 433px,#ff0500 439px,#f40 458px,#ff7c00 484px,#ffdc00 549px,#ff0 577px,#ff0 602px)"></i>
<i style="height:3px;background:linear-gradient(90deg,#ff8a00 0px,#ff8600 249px,#ff9400 286px,#ffa900 302px,#fb0 307px,#ffd900 312px,#ffe000 327px,#ffd600 342px,#ffc000 351px,#ffa100 357px,#f70 362px,#ff3800 367px,#fc1100 370px,#f00400 372px,#c80000 375px,#430000 383px,#1f0000 386px,#0a0000 389px,#050000 392px,#130000 396px,#4a0000 403px,#a50000 414px,#e10000 424px,#fc0000 431px,#ff0600 437px,#ff4200 455px,#ff7900 480px,#ffce00 538px,#ff0 576px,#ff0 602px)"></i>
<i style="height:3px;background:linear-gradient(90deg,#ff8a00 0px,#ff8600 249px,#ff9400 286px,#fa0 301px,#ffbc00 306px,#ffd900 311px,#ffe000 327px,#ffd600 341px,#ffbd00 350px,#ff9c00 356px,#ff6f00 361px,#fc1300 368px,#f10400 370px,#c90000 373px,#430000 381px,#1e0000 384px,#0a0000 387px,#050000 390px,#140000 394px,#500 402px,#a70000 412px,#e30000 422px,#fb0000 428px,#ff0500 434px,#ff4300 453px,#ff7900 478px,#ffcf00 538px,#ff0 576px,#ff0 602px)"></i>
<i style="height:3px;background:linear-gradient(90deg,#ff8a00 0px,#ff8600 248px,#ff9400 284px,#ffa800 299px,#ffbd00 305px,#ffd700 309px,#ffdf00 317px,#ffdc00 335px,#ffca00 345px,#ffac00 352px,#ff8600 357px,#ff4c00 362px,#fc1500 366px,#f20500 368px,#cb0000 371px,#430000 379px,#1e0000 382px,#090000 385px,#050000 388px,#150000 392px,#570000 400px,#a90000 410px,#e50000 420px,#fc0000 426px,#ff0500 432px,#f40 451px,#ff7a00 477px,#ffd500 542px,#ff0 576px,#ff0 602px)"></i>
<i style="height:3px;background:linear-gradient(90deg,#ff8a00 0px,#ff8600 247px,#ff9400 283px,#ffa800 298px,#ffbf00 304px,#ffd800 308px,#ffe000 318px,#ffda00 335px,#ffc500 345px,#ffa100 352px,#ff7500 357px,#f30 362px,#fa0d00 365px,#ea0200 367px,#bc0000 370px,#430000 377px,#1e0000 380px,#090000 383px,#050000 386px,#160000 390px,#610000 399px,#b20000 409px,#eb0000 419px,#fe0000 425px,#ff0a00 431px,#ff4200 448px,#f70 473px,#ffc900 532px,#ff0 575px,#ff0 602px)"></i>
<i style="height:3px;background:linear-gradient(90deg,#ff8a00 0px,#ff8600 246px,#ff9400 282px,#ffa900 297px,#ffba00 302px,#ffd900 307px,#ffe100 320px,#ffd900 335px,#ffc300 344px,#ffa400 350px,#ff7800 355px,#ff3600 360px,#fa0f00 363px,#eb0300 365px,#be0000 368px,#430000 375px,#1e0000 378px,#090000 381px,#050000 384px,#160000 388px,#630000 397px,#b40000 407px,#ec0000 417px,#fd0000 422px,#ff0700 428px,#ff4000 445px,#ff7500 470px,#ffc300 526px,#ff0 575px,#ff0 602px)"></i>
<i style="height:3px;background:linear-gradient(90deg,#ff8a00 0px,#ff8600 246px,#ff9400 281px,#ffa900 296px,#fb0 301px,#ffd900 306px,#ffe100 321px,#ffd700 335px,#ffc100 343px,#ffa000 349px,#ff7100 354px,#fb1100 361px,#ed0400 363px,#c10000 366px,#400 373px,#1e0000 376px,#090000 379px,#050000 382px,#170000 386px,#a70000 403px,#e40000 413px,#fc0000 419px,#ff0500 425px,#ff4100 443px,#ff7500 468px,#ffc300 525px,#ff0 575px,#ff0 602px)"></i>
<i style="height:3px;background:linear-gradient(90deg,#ff8a00 0px,#ff8600 245px,#ff9400 280px,#ffa900 295px,#ffbc00 300px,#ffda00 305px,#ffe100 321px,#ffd600 334px,#ffbf00 342px,#ff9b00 348px,#ff6800 353px,#fc1300 359px,#ef0400 361px,#c30000 364px,#450000 371px,#1e0000 374px,#090000 377px,#060000 380px,#170000 384px,#a90000 401px,#e60000 411px,#fc0000 417px,#ff0600 423px,#ff4100 441px,#ff7400 466px,#ffc200 524px,#ff0 574px,#ff0 602px)"></i>
<i style="height:3px;background:linear-gradient(90deg,#ff8a00 0px,#ff8600 244px,#ff9400 279px,#fa0 294px,#ffbd00 299px,#ffd700 303px,#ffe000 311px,#fd0 328px,#ffc800 338px,#ffac00 344px,#ff8300 349px,#ff5100 353px,#fc1600 357px,#f10600 359px,#d70100 361px,#460000 369px,#1f0000 372px,#090000 375px,#060000 378px,#180000 382px,#a30000 398px,#d00 407px,#fb0000 414px,#ff0700 421px,#ff3f00 438px,#ff7100 462px,#ffb900 515px,#ff0 574px,#ff0 602px)"></i>
<i style="height:3px;background:linear-gradient(90deg,#ff8a00 0px,#ff8600 243px,#ff9400 278px,#ffa800 292px,#ffbe00 298px,#ffd800 302px,#ffe100 312px,#ffdb00 328px,#ffc700 337px,#ffa800 343px,#ff7c00 348px,#ff4600 352px,#fd1900 355px,#f20700 357px,#da0100 359px,#480000 367px,#1f0000 370px,#090000 373px,#060000 376px,#180000 380px,#a50000 396px,#de0000 405px,#fb0000 412px,#ff0500 418px,#ff4000 436px,#ff7100 460px,#ffb900 514px,#ff0 574px,#ff0 602px)"></i>
<i style="height:3px;background:linear-gradient(90deg,#ff8a00 0px,#ff8600 242px,#ff9400 277px,#ffa800 291px,#ffb900 296px,#ffd900 301px,#ffe200 313px,#ffda00 328px,#ffc500 336px,#ffa400 342px,#ff7400 347px,#fa1100 354px,#ea0300 356px,#ba0000 359px,#4a0000 365px,#200000 368px,#090000 371px,#060000 374px,#180000 378px,#a60000 394px,#df0000 403px,#fc0000 410px,#ff0600 416px,#ff4000 434px,#ff7300 459px,#ffbc00 516px,#ff0 574px,#ff0 602px)"></i>
<i style="height:3px;background:linear-gradient(90deg,#ff8a00 0px,#ff8600 242px,#ff9400 276px,#ffa800 290px,#ffba00 295px,#ffda00 300px,#ffe200 313px,#ffd900 327px,#ffc300 335px,#ffa000 341px,#ff7800 345px,#ff4000 349px,#fb1400 352px,#ed0400 354px,#be0000 357px,#4c0000 363px,#210000 366px,#090000 369px,#060000 372px,#190000 376px,#a70000 392px,#e10000 401px,#fa0000 407px,#ff0700 414px,#ff3e00 431px,#ff6f00 455px,#ffb400 508px,#ff0 573px,#ff0 602px)"></i>
<i style="height:3px;background:linear-gradient(90deg,#ff8a00 0px,#ff8600 241px,#ff9400 275px,#ffa800 289px,#fb0 294px,#ffdb00 299px,#ffe200 314px,#ffd700 327px,#ffc100 334px,#ffa300 339px,#ff7d00 343px,#ff4500 347px,#fc1700 350px,#ef0600 352px,#d40100 354px,#4e0000 361px,#200 364px,#0a0000 367px,#050000 370px,#190000 374px,#a10000 389px,#dc0000 398px,#fb0000 405px,#ff0500 411px,#ff3f00 429px,#ff6f00 453px,#ffb300 506px,#ff0 573px,#ff0 602px)"></i>
<i style="height:3px;background:linear-gradient(90deg,#ff8a00 0px,#ff8600 240px,#ff9400 274px,#ffa900 288px,#ffbc00 293px,#ffd800 297px,#ffe100 304px,#ffdf00 320px,#ffce00 329px,#ffb400 335px,#ff8c00 340px,#ff5a00 344px,#fd1b00 348px,#f20700 350px,#d70100 352px,#400000 360px,#190000 363px,#060000 366px,#080000 369px,#200000 373px,#a20000 387px,#d00 396px,#fb0000 403px,#ff0500 409px,#ff3f00 427px,#ff6f00 451px,#ffb300 505px,#ff0 573px,#ff0 602px)"></i>
<i style="height:3px;background:linear-gradient(90deg,#ff8a00 0px,#ff8600 239px,#ff9400 273px,#ffa900 287px,#ffbd00 292px,#ffd800 296px,#ffe100 304px,#ffde00 320px,#ffc900 329px,#fa0 335px,#ff8500 339px,#ff5000 343px,#fa1200 347px,#ea0400 349px,#b70000 352px,#530000 357px,#250000 360px,#0b0000 363px,#050000 366px,#180000 370px,#a30000 385px,#de0000 394px,#fc0000 401px,#ff0600 407px,#ff3d00 424px,#ff6d00 448px,#ffaf00 500px,#ff0 573px,#ff0 602px)"></i>
<i style="height:3px;background:linear-gradient(90deg,#ff8a00 0px,#ff8600 239px,#ff9400 272px,#ffa900 286px,#ffbf00 291px,#ffd900 295px,#ffe200 305px,#fd0 319px,#fc0 327px,#ffad00 333px,#ff7f00 338px,#ff4500 342px,#fb1600 345px,#ed0500 347px,#ce0100 349px,#450000 356px,#1b0000 359px,#070000 362px,#080000 365px,#200000 369px,#9b0000 382px,#da0000 391px,#fa0000 398px,#ff0600 405px,#ff3e00 422px,#ff6d00 446px,#ffae00 498px,#ff0 573px,#ff0 602px)"></i>
<i style="height:3px;background:linear-gradient(90deg,#ff8a00 0px,#ff8600 238px,#ff9400 271px,#fa0 285px,#ffc000 290px,#ffda00 294px,#ffe300 305px,#ffdc00 319px,#ffc600 327px,#ffa900 332px,#ff8300 336px,#ff4b00 340px,#fc1a00 343px,#ef0700 345px,#d30100 347px,#480000 354px,#1d0000 357px,#070000 360px,#070000 363px,#200000 367px,#9c0000 380px,#d50000 388px,#fa0000 396px,#ff0700 403px,#ff3c00 419px,#ff6a00 442px,#ffa600 490px,#ff0 572px,#ff0 602px)"></i>
<i style="height:3px;background:linear-gradient(90deg,#ff8a00 0px,#ff8600 237px,#ff9400 270px,#ffa700 283px,#ffba00 288px,#ffdb00 293px,#ffe300 306px,#ffdb00 318px,#ffc400 326px,#ffa500 331px,#ff7c00 335px,#ff4000 339px,#f91200 342px,#e70400 344px,#b10000 347px,#4b0000 352px,#1f0000 355px,#080000 358px,#070000 361px,#200000 365px,#9d0000 378px,#d60000 386px,#f80000 393px,#ff0300 399px,#ff4100 419px,#ff7000 444px,#ffb400 502px,#ff0 572px,#ff0 602px)"></i>
<i style="height:3px;background:linear-gradient(90deg,#ff8a00 0px,#ff8600 236px,#ff9400 269px,#ffa800 282px,#fb0 287px,#ffdb00 292px,#ffe300 306px,#ffd900 318px,#ffc200 325px,#ffa000 330px,#ff7500 334px,#fb1600 340px,#eb0500 342px,#ca0100 344px,#4f0000 350px,#210000 353px,#080000 356px,#070000 359px,#1f0000 363px,#9d0000 376px,#d60000 384px,#f80000 391px,#ff0500 398px,#ff3d00 415px,#ff6a00 438px,#ffa500 486px,#ff0 572px,#ff0 602px)"></i>
<i style="height:3px;background:linear-gradient(90deg,#ff8a00 0px,#ff8600 236px,#ff9400 268px,#ffa800 281px,#ffbc00 286px,#ffd800 290px,#ffe100 296px,#ffe000 312px,#ffcd00 321px,#ffad00 327px,#ff8600 331px,#ff4d00 335px,#fc1a00 338px,#ee0700 340px,#d00100 342px,#530000 348px,#230000 351px,#090000 354px,#070000 357px,#1e0000 361px,#9e0000 374px,#d70000 382px,#f90000 389px,#ff0600 396px,#ff3d00 413px,#ff6a00 436px,#ffa500 485px,#ff0 572px,#ff0 602px)"></i>
<i style="height:3px;background:linear-gradient(90deg,#ff8a00 0px,#ff8600 235px,#ff9400 267px,#ffa800 280px,#ffbd00 285px,#ffd900 289px,#ffe200 296px,#ffe000 311px,#ffcf00 319px,#ffb000 325px,#ff8c00 329px,#ff5300 333px,#f91200 337px,#e50400 339px,#ac0000 342px,#400 347px,#190000 350px,#060000 353px,#0a0000 356px,#270000 360px,#9e0000 372px,#d80000 380px,#f90000 387px,#ff0600 394px,#ff3b00 410px,#ff6900 433px,#ffa100 480px,#ff0 572px,#ff0 602px)"></i>
<i style="height:3px;background:linear-gradient(90deg,#ff8a00 0px,#ff8600 234px,#ff9400 266px,#ffa900 279px,#ffbe00 284px,#ffda00 288px,#ffe300 297px,#ffde00 311px,#ffca00 319px,#ffad00 324px,#ff8500 328px,#ff4900 332px,#fa1700 335px,#e90500 337px,#c80100 339px,#490000 345px,#1c0000 348px,#070000 351px,#090000 354px,#260000 358px,#9e0000 370px,#d80000 378px,#fa0000 385px,#ff0700 392px,#ff3b00 408px,#ff6900 431px,#ffa000 478px,#ff0 572px,#ff0 602px)"></i>
<i style="height:3px;background:linear-gradient(90deg,#ff8a00 0px,#ff8600 233px,#ff9400 265px,#ffa900 278px,#ffbf00 283px,#ffdb00 287px,#ffe400 297px,#ffde00 310px,#ffc800 318px,#ffa900 323px,#ff7e00 327px,#ff3e00 331px,#f60f00 334px,#df0300 336px,#a30000 339px,#4d0000 343px,#1e0000 346px,#070000 349px,#090000 352px,#250000 356px,#9e0000 368px,#d90000 376px,#fa0000 383px,#ff0400 389px,#ff3c00 406px,#ff6900 429px,#ff9f00 476px,#ff0 571px,#ff0 602px)"></i>
<i style="height:3px;background:linear-gradient(90deg,#ff8a00 0px,#ff8600 233px,#ff9400 264px,#ffa900 277px,#ffc000 282px,#ffdb00 286px,#ffe400 297px,#ffde00 309px,#ffcb00 316px,#ffad00 321px,#ff8400 325px,#ff4500 329px,#f91400 332px,#e40400 334px,#a00 337px,#520000 341px,#210000 344px,#080000 347px,#080000 350px,#240000 354px,#9e0000 366px,#d90000 374px,#fa0000 381px,#ff0500 387px,#ff3c00 404px,#ff6900 427px,#ff9f00 474px,#ff0 571px,#ff0 602px)"></i>
<i style="height:3px;background:linear-gradient(90deg,#ff8a00 0px,#ff8600 232px,#ff9400 263px,#ffa900 276px,#ffc100 281px,#ffdc00 285px,#ffe500 297px,#ffdc00 309px,#ffc400 316px,#ffa000 321px,#ff6e00 325px,#fa1900 330px,#e90600 332px,#c60100 334px,#400 340px,#180000 343px,#060000 346px,#0c0000 349px,#2d0000 353px,#9e0000 364px,#d90000 372px,#fb0000 379px,#ff0500 385px,#ff3d00 402px,#ff6900 425px,#ff9e00 472px,#ff0 571px,#ff0 602px)"></i>
<i style="height:3px;background:linear-gradient(90deg,#ff8a00 0px,#ff8600 231px,#ff9400 262px,#fa0 275px,#fb0 279px,#ffdc00 284px,#ffe500 297px,#ffdb00 308px,#ffc700 314px,#ffa400 319px,#ff7500 323px,#fc1e00 328px,#ed0800 330px,#cd0100 332px,#490000 338px,#1a0000 341px,#0a0000 343px,#070000 346px,#190000 349px,#9e0000 362px,#da0000 370px,#fb0000 377px,#ff0500 383px,#ff3a00 399px,#f60 421px,#f90 465px,#ff0 571px,#ff0 602px)"></i>
<i style="height:3px;background:linear-gradient(90deg,#ff8a00 0px,#ff8600 230px,#ff9400 261px,#ffa700 273px,#ffbc00 278px,#ffd900 282px,#ffe300 288px,#ffe200 302px,#ffd200 310px,#ffb900 315px,#ff9500 319px,#ff6d00 322px,#fd2500 326px,#f10b00 328px,#d40200 330px,#4e0000 336px,#1d0000 339px,#0b0000 341px,#070000 344px,#180000 347px,#9e0000 360px,#da0000 368px,#f80000 374px,#ff0300 380px,#ff3d00 398px,#ff6900 421px,#ff9d00 468px,#ff0 571px,#ff0 602px)"></i>
<i style="height:3px;background:linear-gradient(90deg,#ff8a00 0px,#ff8600 230px,#ff9400 260px,#ffa700 272px,#ffbd00 277px,#ffda00 281px,#ffe400 288px,#ffe100 302px,#ffd100 309px,#ffb600 314px,#ff8f00 318px,#ff6400 321px,#fb1c00 325px,#ea0700 327px,#c60100 329px,#540000 334px,#210000 337px,#0d0000 339px,#060000 342px,#160000 345px,#9d0000 358px,#da0000 366px,#f80000 372px,#ff0300 378px,#ff3b00 395px,#f60 417px,#ff9700 461px,#fffb00 564px,#ff0 589px,#ff0 602px)"></i>
<i style="height:3px;background:linear-gradient(90deg,#ff8a00 0px,#ff8600 229px,#ff9400 259px,#ffa800 271px,#ffbd00 276px,#ffdb00 280px,#ffe400 288px,#ffe100 301px,#ffcf00 308px,#ffb200 313px,#ff8900 317px,#ff5a00 320px,#f71400 324px,#e10400 326px,#a10000 329px,#460000 333px,#180000 336px,#090000 338px,#090000 341px,#1e0000 344px,#9d0000 356px,#d40000 363px,#f80000 370px,#ff0600 377px,#ff3900 392px,#ff6300 413px,#ff9200 454px,#fff800 561px,#ff0 574px,#ff0 602px)"></i>
<i style="height:3px;background:linear-gradient(90deg,#ff8a00 0px,#ff8600 228px,#ff9400 258px,#ffa800 270px,#ffbe00 275px,#ffdb00 279px,#ffe500 288px,#ffe000 300px,#ffce00 307px,#ffaf00 312px,#ff8200 316px,#fe3d00 320px,#fa1900 322px,#e60600 324px,#c00100 326px,#4c0000 331px,#1b0000 334px,#0a0000 336px,#080000 339px,#1c0000 342px,#9c0000 354px,#d40000 361px,#f90000 368px,#ff0700 375px,#ff3900 390px,#ff6300 411px,#ff9200 452px,#fff600 559px,#ff0 572px,#ff0 602px)"></i>
<i style="height:3px;background:linear-gradient(90deg,#ff8a00 0px,#ff8600 227px,#ff9400 257px,#ffa800 269px,#ffbf00 274px,#ffdc00 278px,#ffe500 288px,#ffdf00 300px,#fc0 306px,#ffab00 311px,#ff8900 314px,#ff5900 317px,#fb2000 320px,#ec0800 322px,#c80100 324px,#530000 329px,#1e0000 332px,#0b0000 334px,#060000 336px,#120000 339px,#450000 344px,#9c0000 352px,#d30000 359px,#f90000 366px,#ff0700 373px,#ff3900 388px,#ff6300 409px,#ff9100 450px,#fff400 557px,#ff0 572px,#ff0 602px)"></i>
<i style="height:3px;background:linear-gradient(90deg,#ff8a00 0px,#ff8600 227px,#ff9400 256px,#ffa800 268px,#ffb900 272px,#ffdc00 277px,#ffe600 287px,#ffe000 298px,#ffca00 305px,#ffb000 309px,#ff8200 313px,#fe3b00 317px,#f81800 319px,#e30500 321px,#ba0000 323px,#450000 328px,#200 330px,#0d0000 332px,#060000 334px,#100 337px,#430000 342px,#9b0000 350px,#d30000 357px,#f90000 364px,#ff0400 370px,#ff3a00 386px,#ff6300 407px,#ff9100 448px,#fff200 555px,#ff0 571px,#ff0 602px)"></i>
<i style="height:3px;background:linear-gradient(90deg,#ff8a00 0px,#ff8600 226px,#ff9400 255px,#ffa800 267px,#ffba00 271px,#fd0 276px,#ffe600 287px,#ffde00 298px,#ffc900 304px,#ffac00 308px,#ff8900 311px,#ff5800 314px,#fb1e00 317px,#e90800 319px,#c30100 321px,#4b0000 326px,#270000 328px,#100000 330px,#060000 332px,#0f0000 335px,#350000 339px,#9a0000 348px,#d30000 355px,#f90000 362px,#ff0400 368px,#ff3a00 384px,#ff6300 405px,#ff9000 446px,#fff000 553px,#ff0 571px,#ff0 602px)"></i>
<i style="height:3px;background:linear-gradient(90deg,#ff8a00 0px,#ff8600 225px,#ff9400 254px,#ffa900 266px,#ffba00 270px,#ffde00 275px,#ffe600 287px,#fd0 297px,#ffc600 303px,#ffa800 307px,#ff8200 310px,#fe3900 314px,#f71600 316px,#df0400 318px,#9c0000 321px,#3e0000 325px,#1d0000 327px,#0b0000 329px,#060000 331px,#150000 334px,#560000 340px,#a20000 347px,#d90000 354px,#f90000 360px,#ff0400 366px,#ff3a00 382px,#ff6300 403px,#ff9000 444px,#fff000 552px,#ff0 570px,#ff0 602px)"></i>
<i style="height:3px;background:linear-gradient(90deg,#ff8a00 0px,#ff8600 224px,#ff9400 253px,#ffa900 265px,#fb0 269px,#ffda00 273px,#ffe400 278px,#ffe400 291px,#ffd300 299px,#ffb600 304px,#ff8a00 308px,#ff5700 311px,#fa1d00 314px,#e60700 316px,#be0100 318px,#450000 323px,#200 325px,#0d0000 327px,#060000 329px,#130000 332px,#480000 337px,#a10000 345px,#d90000 352px,#f90000 358px,#ff0500 364px,#ff3a00 380px,#ff6300 401px,#ff9000 442px,#fe0 550px,#ff0 570px,#ff0 602px)"></i>
<i style="height:3px;background:linear-gradient(90deg,#ff8b00 0px,#ff8600 224px,#ff9400 252px,#ffa900 264px,#ffbc00 268px,#ffdb00 272px,#ffe500 278px,#ffe300 291px,#ffd200 298px,#ffb200 303px,#ff9100 306px,#ff6100 309px,#fc2500 312px,#ec0a00 314px,#c70100 316px,#4c0000 321px,#270000 323px,#0f0000 325px,#060000 327px,#100 330px,#460000 335px,#a00000 343px,#d90000 350px,#f90000 356px,#ff0500 362px,#ff3b00 378px,#ff6300 399px,#ff8f00 440px,#ffec00 548px,#ff0 570px,#ff0 602px)"></i>
<i style="height:3px;background:linear-gradient(90deg,#ff8b00 0px,#ff8600 223px,#ff9400 251px,#ffa900 263px,#ffbc00 267px,#ffdb00 271px,#ffe500 277px,#ffe300 290px,#ffd100 297px,#ffb800 301px,#f90 304px,#ff6a00 307px,#f91c00 311px,#e40600 313px,#b90100 315px,#500 319px,#2c0000 321px,#120000 323px,#070000 325px,#0f0000 328px,#370000 332px,#950000 340px,#d10000 347px,#f90000 354px,#ff0500 360px,#ff3b00 376px,#ff6300 397px,#ff8f00 438px,#ffea00 546px,#ff0 570px,#ff0 602px)"></i>
<i style="height:3px;background:linear-gradient(90deg,#ff8b00 0px,#ff8600 222px,#ff9400 250px,#ffa700 261px,#ffbd00 266px,#ffdc00 270px,#ffe600 277px,#ffe300 289px,#ffcf00 296px,#ffb400 300px,#ff9300 303px,#ff6100 306px,#fb2400 309px,#ea0a00 311px,#c40100 313px,#470000 318px,#200 320px,#0d0000 322px,#060000 324px,#150000 327px,#590000 333px,#a70000 340px,#de0000 347px,#fb0000 353px,#ff0800 359px,#ff3800 373px,#ff6000 393px,#ff8a00 431px,#ffe900 544px,#ff0 569px,#ff0 602px)"></i>
<i style="height:3px;background:linear-gradient(90deg,#ff8b00 0px,#ff8600 221px,#ff9400 249px,#ffa700 260px,#ffbe00 265px,#ffdc00 269px,#ffe700 277px,#ffe300 288px,#ffd200 294px,#ffb900 298px,#ff9a00 301px,#ff6b00 304px,#f81c00 308px,#e10600 310px,#b50100 312px,#4f0000 316px,#280000 318px,#0f0000 320px,#070000 322px,#130000 325px,#4a0000 330px,#9c0000 337px,#d70000 344px,#f80000 350px,#ff0500 356px,#ff3900 371px,#ff6000 391px,#ff8a00 429px,#ffe700 542px,#ff0 569px,#ff0 602px)"></i>
<i style="height:3px;background:linear-gradient(90deg,#ff8b00 0px,#ff8600 221px,#ff9400 248px,#ffa700 259px,#ffb800 263px,#fd0 268px,#ffe700 277px,#ffe300 287px,#ffd100 293px,#ffb600 297px,#ff9500 300px,#ff6200 303px,#fb2400 306px,#e80900 308px,#c00100 310px,#580000 314px,#2e0000 316px,#120000 318px,#070000 320px,#0b0000 322px,#230000 325px,#9a0000 335px,#d60000 342px,#f80000 348px,#ff0500 354px,#ff3900 369px,#ff6000 389px,#ff8a00 427px,#ffe600 541px,#ff0 569px,#ff0 602px)"></i>
<i style="height:3px;background:linear-gradient(90deg,#ff8b00 0px,#ff8600 220px,#ff9400 247px,#ffa700 258px,#ffb800 262px,#fd0 267px,#ffe700 276px,#ffe200 286px,#ffcf00 292px,#ffb300 296px,#ff8e00 299px,#ff5800 302px,#f81b00 305px,#df0600 307px,#b20100 309px,#4a0000 313px,#240000 315px,#0d0000 317px,#070000 319px,#170000 322px,#6a0000 329px,#ac0000 335px,#e30000 342px,#fb0000 347px,#ff0800 353px,#ff3900 367px,#ff6100 387px,#ff8900 425px,#ffe500 539px,#ff0 569px,#ff0 602px)"></i>
<i style="height:3px;background:linear-gradient(90deg,#ff8b00 0px,#ff8600 219px,#ff9300 246px,#ffa700 257px,#ffb900 261px,#ffde00 266px,#ffe800 276px,#ffe000 286px,#ffcd00 291px,#ffaf00 295px,#f80 298px,#ff4e00 301px,#fa2400 303px,#e70900 305px,#bd0100 307px,#530000 311px,#2a0000 313px,#100000 315px,#070000 317px,#0d0000 319px,#280000 322px,#960000 331px,#cd0000 337px,#f30000 343px,#ff0100 348px,#ff1400 354px,#ff3e00 367px,#ff6500 388px,#ff8e00 429px,#ffe300 537px,#ff0 569px,#ff0 602px)"></i>
<i style="height:3px;background:linear-gradient(90deg,#ff8b00 0px,#ff8600 218px,#ff9300 245px,#ffa700 256px,#ffb900 260px,#ffdf00 265px,#ffe800 275px,#ffe200 284px,#fc0 290px,#fa0 294px,#ff8000 297px,#fc2e00 301px,#ee0e00 303px,#c80200 305px,#460000 310px,#200000 312px,#0b0000 314px,#080000 316px,#1b0000 319px,#9f0000 330px,#d40000 336px,#f70000 342px,#ff0200 347px,#ff3c00 364px,#ff6200 384px,#ff8a00 422px,#ffe200 536px,#ff0 569px,#ff0 602px)"></i>
<i style="height:3px;background:linear-gradient(90deg,#ff8b00 0px,#ff8600 218px,#ff9300 244px,#ffa700 255px,#ffba00 259px,#ffda00 263px,#ffe400 267px,#ffe700 279px,#ffd900 286px,#ffc300 290px,#ffa600 293px,#ff7900 296px,#fa2500 300px,#e60900 302px,#bb0100 304px,#4f0000 308px,#260000 310px,#0e0000 312px,#070000 314px,#180000 317px,#9d0000 328px,#d30000 334px,#f70000 340px,#ff0200 345px,#ff3c00 362px,#ff6200 382px,#ff8900 420px,#ffe100 534px,#ff0 568px,#ff0 602px)"></i>
<i style="height:3px;background:linear-gradient(90deg,#ff8b00 0px,#ff8600 217px,#ff9300 243px,#ffa700 254px,#ffba00 258px,#ffdb00 262px,#ffe600 267px,#ffe600 279px,#ffd800 285px,#ffc000 289px,#ffa100 292px,#ff7000 295px,#fc2f00 298px,#ed0e00 300px,#c70200 302px,#420000 307px,#1d0000 309px,#0a0000 311px,#090000 313px,#1f0000 316px,#9b0000 326px,#d10000 332px,#f60000 338px,#ff0200 343px,#ff3c00 360px,#ff6200 380px,#ff8900 418px,#ffdf00 532px,#ff0 568px,#ff0 602px)"></i>
<i style="height:3px;background:linear-gradient(90deg,#ff8b00 0px,#ff8600 216px,#ff9300 242px,#ffa800 253px,#fb0 257px,#ffdc00 261px,#ffe600 266px,#ffe600 278px,#ffd600 284px,#ffbd00 288px,#ff9c00 291px,#ff6800 294px,#fa2600 297px,#e50a00 299px,#b90100 301px,#4c0000 305px,#230000 307px,#0c0000 309px,#080000 311px,#1b0000 314px,#980000 324px,#d00000 330px,#f60000 336px,#ff0200 341px,#ff3c00 358px,#ff6200 378px,#ff8900 416px,#ffdf00 531px,#ff0 568px,#ff0 602px)"></i>
<i style="height:3px;background:linear-gradient(90deg,#ff8b00 0px,#ff8600 216px,#ff9400 242px,#ffa800 252px,#fb0 256px,#ffdc00 260px,#ffe600 265px,#ffe700 276px,#ffd900 282px,#ffc300 286px,#ffa400 289px,#ff7300 292px,#fc3100 295px,#ed0f00 297px,#c50200 299px,#570000 303px,#2a0000 305px,#100000 307px,#080000 309px,#100000 311px,#3c0000 315px,#960000 322px,#cf0000 328px,#f50000 334px,#ff0200 339px,#ff3c00 356px,#ff6200 376px,#ff8900 414px,#fd0 529px,#ff0 568px,#ff0 602px)"></i>
<i style="height:3px;background:linear-gradient(90deg,#ff8b00 0px,#ff8600 215px,#ff9400 241px,#ffa800 251px,#ffbc00 255px,#ffdc00 259px,#ffe700 265px,#ffe600 276px,#ffd400 282px,#ffb700 286px,#ff9000 289px,#ff5400 292px,#fa2800 294px,#e50a00 296px,#b80100 298px,#490000 302px,#210000 304px,#0b0000 306px,#090000 308px,#1f0000 311px,#9e0000 321px,#d50000 327px,#f90000 333px,#ff0700 339px,#ff3700 352px,#ff5c00 370px,#ff8100 403px,#fd0 529px,#ff0 568px,#ff0 602px)"></i>
<i style="height:3px;background:linear-gradient(90deg,#ff8b00 0px,#ff8600 214px,#ff9400 240px,#ffa800 250px,#ffbc00 254px,#fd0 258px,#ffe700 264px,#ffe500 275px,#ffd200 281px,#ffb300 285px,#ff8900 288px,#fe4a00 291px,#f71f00 293px,#ed1000 294px,#dc0700 295px,#a90100 297px,#540000 300px,#280000 302px,#0e0000 304px,#080000 306px,#120000 308px,#410000 312px,#9c0000 319px,#d40000 325px,#f80000 331px,#ff0700 337px,#ff3700 350px,#ff5d00 368px,#ff8100 401px,#fd0 528px,#ff0 568px,#ff0 602px)"></i>
<i style="height:3px;background:linear-gradient(90deg,#ff8b00 0px,#ff8600 213px,#ff9400 239px,#ffa800 249px,#ffbd00 253px,#ffde00 257px,#ffe800 264px,#ffe500 274px,#ffd600 279px,#ffba00 283px,#ff9300 286px,#ff5800 289px,#fa2a00 291px,#f31800 292px,#e50b00 293px,#b70100 295px,#460000 299px,#1f0000 301px,#0b0000 303px,#0a0000 305px,#230000 308px,#900 317px,#d20000 323px,#f80000 329px,#ff0600 335px,#ff3700 348px,#ff5d00 366px,#ff8100 399px,#ffdb00 526px,#ff0 568px,#ff0 602px)"></i>
<i style="height:3px;background:linear-gradient(90deg,#ff8b00 0px,#ff8600 213px,#ff9400 238px,#ffa800 248px,#ffbd00 252px,#ffde00 256px,#ffe900 263px,#ffe500 273px,#ffd500 278px,#ffb600 282px,#ff8d00 285px,#fe4e00 288px,#f72100 290px,#ed1100 291px,#dc0800 292px,#a90100 294px,#520000 297px,#260000 299px,#0d0000 301px,#090000 303px,#150000 305px,#460000 309px,#a10000 316px,#d80000 322px,#f70000 327px,#ff0300 332px,#ff3900 347px,#ff5e00 365px,#ff8200 399px,#ffda00 524px,#ff0 568px,#ff0 602px)"></i>
<i style="height:3px;background:linear-gradient(90deg,#ff8b00 0px,#ff8600 212px,#ff9400 237px,#ffa800 247px,#ffbe00 251px,#ffde00 255px,#ffe900 262px,#ffe500 272px,#ffd300 277px,#ffb200 281px,#ff8600 284px,#fa2d00 288px,#f31a00 289px,#e60c00 290px,#b70200 292px,#450000 296px,#1d0000 298px,#0a0000 300px,#0b0000 302px,#260000 305px,#9e0000 314px,#d70000 320px,#f60000 325px,#ff0300 330px,#ff3900 345px,#ff5e00 363px,#ff8200 396px,#ffd900 523px,#ff0 568px,#ff0 602px)"></i>
<i style="height:3px;background:linear-gradient(90deg,#ff8b00 0px,#ff8600 211px,#ff9400 236px,#ffa800 246px,#ffbe00 250px,#ffdf00 254px,#ffea00 262px,#ffe400 271px,#ffd200 276px,#ffba00 279px,#ff9100 282px,#fe5200 285px,#f82400 287px,#ee1300 288px,#dd0800 289px,#a90100 291px,#510000 294px,#250000 296px,#0d0000 298px,#0a0000 300px,#170000 302px,#590000 307px,#a60000 313px,#d00 319px,#fa0000 324px,#ff0500 329px,#ff3900 343px,#ff5e00 361px,#ff8100 394px,#ffd900 522px,#ff0 567px,#ff0 602px)"></i>
<i style="height:3px;background:linear-gradient(90deg,#ff8b00 0px,#ff8600 210px,#ff9400 235px,#ffa800 245px,#ffbf00 249px,#ffdf00 253px,#ffea00 261px,#ffe400 270px,#ffd000 275px,#ffb600 278px,#ff8a00 281px,#fb3000 285px,#f41c00 286px,#e70e00 287px,#d20600 288px,#400 293px,#1c0000 295px,#0a0000 297px,#0c0000 299px,#2a0000 302px,#980000 310px,#d30000 316px,#f50000 321px,#fe0100 325px,#ff1500 331px,#ff3f00 343px,#ff6300 362px,#ff8600 398px,#ffd600 519px,#ff0 567px,#ff0 602px)"></i>
<i style="height:3px;background:linear-gradient(90deg,#ff8b00 0px,#ff8600 210px,#ff9400 234px,#ffa800 244px,#ffbf00 248px,#ffe000 252px,#ffea00 260px,#ffe600 268px,#ffd400 273px,#ffbd00 276px,#ff9500 279px,#fe5600 282px,#f82700 284px,#ef1500 285px,#de0a00 286px,#aa0100 288px,#500000 291px,#230000 293px,#0c0000 295px,#0a0000 297px,#190000 299px,#a00000 309px,#d90000 315px,#f80000 320px,#ff0800 326px,#ff3600 338px,#ff5b00 355px,#ff7e00 386px,#ffd800 521px,#ff0 567px,#ff0 602px)"></i>
<i style="height:3px;background:linear-gradient(90deg,#ff8b00 0px,#ff8600 209px,#ff9400 233px,#ffa900 243px,#ffc000 247px,#ffe000 251px,#ffeb00 260px,#ffe300 268px,#fc0 273px,#ffae00 276px,#ff7b00 279px,#fb3400 282px,#f51f00 283px,#e81000 284px,#d40600 285px,#7c0000 288px,#430000 290px,#1b0000 292px,#0a0000 294px,#0e0000 296px,#2d0000 299px,#9c0000 307px,#d80000 313px,#f70000 318px,#ff0400 323px,#ff3900 337px,#ff5d00 354px,#ff7f00 385px,#ffd700 519px,#ff0 567px,#ff0 602px)"></i>
<i style="height:3px;background:linear-gradient(90deg,#ff8b00 0px,#ff8600 208px,#ff9400 232px,#ffa900 242px,#ffc000 246px,#ffe100 250px,#ffeb00 259px,#ffe300 267px,#ffd100 271px,#ffb600 274px,#f80 277px,#f92b00 281px,#f01800 282px,#e00b00 283px,#ac0100 285px,#500000 288px,#230000 290px,#0c0000 292px,#0b0000 294px,#280000 297px,#900 305px,#cd0000 310px,#f20000 315px,#fe0100 319px,#ff0f00 324px,#ff3900 335px,#ff5d00 352px,#ff7f00 383px,#ffd600 518px,#ff0 567px,#ff0 602px)"></i>
<i style="height:3px;background:linear-gradient(90deg,#ff8b00 0px,#ff8600 208px,#ff9400 231px,#ffa900 241px,#ffc100 245px,#ffdc00 248px,#ffe700 252px,#ffea00 262px,#ffdb00 268px,#ffbe00 272px,#ff9400 275px,#fe5200 278px,#f62200 280px,#e91200 281px,#d60700 282px,#9d0100 284px,#430000 287px,#1b0000 289px,#0a0000 291px,#0f0000 293px,#300000 296px,#950000 303px,#cb0000 308px,#f00000 313px,#fe0100 317px,#ff0f00 322px,#ff3900 333px,#ff5d00 350px,#ff7f00 381px,#ffd500 516px,#ff0 567px,#ff0 602px)"></i>
<i style="height:3px;background:linear-gradient(90deg,#ff8b00 0px,#ff8600 207px,#ff9300 230px,#ffa900 240px,#ffc100 244px,#ffdc00 247px,#ffe700 251px,#ffea00 261px,#ffda00 267px,#ffc500 270px,#ff9f00 273px,#ff7900 275px,#fa3000 278px,#f11b00 279px,#e20d00 280px,#ae0200 282px,#510000 285px,#230000 287px,#140000 288px,#0a0000 290px,#130000 292px,#390000 295px,#9d0000 302px,#d10000 307px,#f50000 312px,#ff0100 316px,#ff1700 322px,#ff4100 334px,#ff6400 353px,#ff8600 389px,#ffd200 512px,#ff0 567px,#ff0 602px)"></i>
<i style="height:3px;background:linear-gradient(90deg,#ff8b00 0px,#ff8600 206px,#ff9300 229px,#ffa900 239px,#ffc100 243px,#ffdc00 246px,#ffe800 250px,#ffea00 260px,#fd0 265px,#ffc200 269px,#ff9a00 272px,#fe5800 275px,#f72700 277px,#eb1500 278px,#d90900 279px,#a00100 281px,#400 284px,#1b0000 286px,#0f0000 287px,#0b0000 289px,#190000 291px,#610000 296px,#a50000 301px,#d70000 306px,#f80000 311px,#ff0500 316px,#ff3800 329px,#ff5d00 346px,#ff7f00 377px,#ffd400 514px,#ff0 567px,#ff0 602px)"></i>
<i style="height:3px;background:linear-gradient(90deg,#ff8b00 0px,#ff8600 205px,#ff9300 228px,#ffa500 237px,#ffb900 241px,#fd0 245px,#ffe800 249px,#ffea00 259px,#ffdc00 264px,#ffc900 267px,#ffa500 270px,#ff7f00 272px,#fa3500 275px,#f31f00 276px,#e40f00 277px,#ce0600 278px,#520000 282px,#230000 284px,#140000 285px,#0c0000 286px,#0d0000 288px,#2d0000 291px,#950000 298px,#c00 303px,#f20000 308px,#fe0100 312px,#f10 317px,#ff3b00 328px,#ff5f00 345px,#ff7f00 376px,#ffd300 512px,#ff0 567px,#ff0 602px)"></i>
<i style="height:3px;background:linear-gradient(90deg,#ff8b00 0px,#ff8600 205px,#ff9400 228px,#ffa900 237px,#ffba00 240px,#fd0 244px,#ffe900 249px,#ffea00 258px,#ffdb00 263px,#ffc600 266px,#ffa000 269px,#f70 271px,#f82c00 274px,#ee1800 275px,#dc0b00 276px,#a30100 278px,#450000 281px,#2d0000 282px,#1b0000 283px,#100000 284px,#0b0000 286px,#1b0000 288px,#9d0000 297px,#d20000 302px,#f60000 307px,#ff0200 311px,#ff3b00 326px,#ff5f00 343px,#ff7f00 374px,#ffd200 511px,#ff0 567px,#ff0 602px)"></i>
<i style="height:3px;background:linear-gradient(90deg,#ff8b00 0px,#ff8600 204px,#ff9400 227px,#ffa900 236px,#ffba00 239px,#ffde00 243px,#ffea00 248px,#ffea00 257px,#ffda00 262px,#ffc400 265px,#ff9a00 268px,#ff6f00 270px,#fb3b00 272px,#f42400 273px,#e71200 274px,#d20800 275px,#950100 277px,#540000 279px,#240000 281px,#150000 282px,#0c0000 283px,#0e0000 285px,#210000 287px,#980000 295px,#d00000 300px,#f50000 305px,#ff0200 309px,#ff3d00 325px,#ff6000 342px,#ff8100 374px,#ffd100 509px,#ff0 567px,#ff0 602px)"></i>
<i style="height:3px;background:linear-gradient(90deg,#ff8b00 0px,#ff8600 203px,#ff9400 226px,#ffa900 235px,#ffba00 238px,#ffde00 242px,#ffea00 247px,#ffea00 256px,#ffd900 261px,#ffc100 264px,#ff9400 267px,#fd4c00 270px,#f01c00 272px,#df0d00 273px,#c60500 274px,#470000 278px,#2e0000 279px,#1c0000 280px,#100000 281px,#0b0000 282px,#120000 284px,#380000 287px,#940000 293px,#cd0000 298px,#f30000 303px,#fe0200 307px,#ff1800 313px,#ff4000 324px,#ff6300 342px,#ff8300 376px,#ffcf00 506px,#ff0 566px,#ff0 602px)"></i>
<i style="height:3px;background:linear-gradient(90deg,#ff8b00 0px,#ff8700 203px,#ff9400 225px,#ffa900 234px,#ffba00 237px,#ffde00 241px,#ffea00 246px,#ffe900 255px,#ffd800 260px,#ffbd00 263px,#ffa000 265px,#f70 267px,#f62900 270px,#ea1600 271px,#d50a00 272px,#990100 274px,#570000 276px,#250000 278px,#150000 279px,#0d0000 280px,#0f0000 282px,#230000 284px,#9c0000 292px,#d30000 297px,#f70000 302px,#ff0600 307px,#ff3700 319px,#ff5b00 335px,#ff7b00 363px,#ffd200 510px,#ff0 566px,#ff0 602px)"></i>
<i style="height:3px;background:linear-gradient(90deg,#ff8c00 0px,#ff8600 202px,#ff9400 224px,#ffa900 233px,#ffba00 236px,#ffdf00 240px,#ffea00 245px,#ffe900 254px,#ffd600 259px,#ffba00 262px,#ff9b00 264px,#ff6e00 266px,#fa3900 268px,#f22200 269px,#e31100 270px,#cb0700 271px,#4a0000 275px,#300000 276px,#1d0000 277px,#100 278px,#0b0000 279px,#130000 281px,#3a0000 284px,#970000 290px,#d00000 295px,#f60000 300px,#ff0200 304px,#ff3d00 319px,#ff6000 336px,#ff8000 367px,#ffcf00 506px,#ff0 566px,#ff0 602px)"></i>
<i style="height:3px;background:linear-gradient(90deg,#ff8c00 0px,#ff8600 201px,#ff9400 223px,#ffa900 232px,#fb0 235px,#ffdf00 239px,#ffeb00 244px,#ffeb00 252px,#ffdb00 257px,#ffc300 260px,#ffa700 262px,#ff7f00 264px,#f83000 267px,#ed1b00 268px,#da0c00 269px,#9e0100 271px,#5b0000 273px,#270000 275px,#160000 276px,#0d0000 277px,#0f0000 279px,#240000 281px,#9f0000 289px,#d60000 294px,#f40000 298px,#ff0200 302px,#ff3c00 317px,#ff5f00 333px,#ff7e00 363px,#ffcf00 505px,#ff0 566px,#ff0 602px)"></i>
<i style="height:3px;background:linear-gradient(90deg,#ff8c00 0px,#ff8600 200px,#ff9400 222px,#ffa900 231px,#fb0 234px,#ffdf00 238px,#ffeb00 243px,#ffeb00 251px,#ffda00 256px,#ffc000 259px,#ffa200 261px,#f70 263px,#fb4100 265px,#f42800 266px,#e61500 267px,#d00900 268px,#900100 270px,#4d0000 272px,#300 273px,#1e0000 274px,#100 275px,#0c0000 276px,#130000 278px,#3b0000 281px,#9a0000 287px,#d30000 292px,#f80000 297px,#ff0700 302px,#ff3900 314px,#ff5d00 330px,#ff7c00 358px,#ffd000 506px,#ff0 566px,#ff0 602px)"></i>
<i style="height:3px;background:linear-gradient(90deg,#ff8c00 0px,#ff8700 200px,#ff9400 221px,#ffa900 230px,#fb0 233px,#ffe000 237px,#ffeb00 242px,#ffeb00 250px,#ffde00 254px,#ffc800 257px,#ffae00 259px,#ff8700 261px,#f93800 264px,#f02000 265px,#de1000 266px,#c50600 267px,#410000 271px,#290000 272px,#180000 273px,#0e0000 274px,#0c0000 275px,#190000 277px,#500 281px,#a20000 286px,#d90000 291px,#f60000 295px,#ff0300 299px,#ff3c00 313px,#ff5f00 329px,#ff7e00 358px,#ffcf00 504px,#ff0 566px,#ff0 602px)"></i>
<i style="height:3px;background:linear-gradient(90deg,#ff8c00 0px,#ff8700 199px,#ff9400 220px,#ffa900 229px,#fb0 232px,#ffe000 236px,#ffeb00 241px,#ffeb00 249px,#fd0 253px,#ffc500 256px,#ffa900 258px,#ff8000 260px,#f62f00 263px,#ea1a00 264px,#d50c00 265px,#960100 267px,#520000 269px,#360000 270px,#200000 271px,#130000 272px,#0c0000 273px,#140000 275px,#3d0000 278px,#9d0000 284px,#d60000 289px,#f50000 293px,#ff0300 297px,#ff3b00 311px,#ff5f00 327px,#ff7e00 356px,#ffce00 503px,#ff0 566px,#ff0 602px)"></i>
<i style="height:3px;background:linear-gradient(90deg,#ff8c00 0px,#ff8600 198px,#ff9300 219px,#ffa900 228px,#fb0 231px,#ffe100 235px,#ffec00 240px,#ffea00 248px,#ffdc00 252px,#ffc200 255px,#ffa400 257px,#ff7800 259px,#fa4000 261px,#f32700 262px,#e31400 263px,#cb0800 264px,#650000 267px,#2c0000 269px,#190000 270px,#0f0000 271px,#0c0000 272px,#190000 274px,#570000 278px,#a50000 283px,#dc0000 288px,#f80000 292px,#ff0800 297px,#ff3800 308px,#ff5b00 323px,#ff7b00 350px,#ffa400 427px,#ffd400 511px,#ff0 566px,#ff0 602px)"></i>
<i style="height:3px;background:linear-gradient(90deg,#ff8c00 0px,#ff8700 198px,#ff9300 218px,#ffa500 226px,#ffbc00 230px,#ffe100 234px,#ffec00 239px,#ffea00 247px,#ffdb00 251px,#ffbf00 254px,#ff9f00 256px,#fe6f00 258px,#f83700 260px,#ee2000 261px,#db0f00 262px,#c00600 263px,#570000 266px,#3a0000 267px,#230000 268px,#140000 269px,#0d0000 270px,#0d0000 271px,#1f0000 273px,#a00000 281px,#d90000 286px,#f60000 290px,#ff0400 294px,#ff3a00 307px,#ff5d00 322px,#ff7b00 349px,#ffa500 430px,#ffd600 513px,#ff0 566px,#ff0 602px)"></i>
<i style="height:3px;background:linear-gradient(90deg,#ff8c00 0px,#ff8700 197px,#ff9300 217px,#ffa500 225px,#ffbc00 229px,#ffe100 233px,#ffec00 238px,#ffea00 246px,#ffd900 250px,#fb0 253px,#f90 255px,#fe6700 257px,#f52f00 259px,#e81900 260px,#d10b00 261px,#900100 263px,#4b0000 265px,#2f0000 266px,#1c0000 267px,#100000 268px,#0d0000 269px,#190000 271px,#470000 274px,#9a0000 279px,#d60000 284px,#f50000 288px,#ff0300 292px,#ff3a00 305px,#ff5d00 320px,#ff7b00 347px,#ffa400 426px,#ffd400 510px,#ff0 566px,#ff0 602px)"></i>
<i style="height:3px;background:linear-gradient(90deg,#ff8c00 0px,#ff8700 196px,#ff9300 216px,#ffa500 224px,#ffbc00 228px,#ffe100 232px,#ffec00 237px,#ffec00 244px,#ffde00 248px,#ffc500 251px,#ffa700 253px,#ff7a00 255px,#fa4100 257px,#f12700 258px,#e11400 259px,#c70800 260px,#5e0000 263px,#3f0000 264px,#260000 265px,#160000 266px,#0e0000 267px,#0e0000 268px,#1f0000 270px,#a20000 278px,#db0000 283px,#f80000 287px,#ff0900 292px,#ff3900 303px,#ff5d00 318px,#ff7c00 345px,#ffa200 421px,#ffd100 506px,#ff0 566px,#ff0 602px)"></i>
<i style="height:3px;background:linear-gradient(90deg,#ff8c00 0px,#ff8700 196px,#ff9400 216px,#ffa800 224px,#ffbc00 227px,#ffe100 231px,#ffed00 236px,#ffec00 243px,#fd0 247px,#ffc200 250px,#ffa200 252px,#fe7200 254px,#f83800 256px,#ec2000 257px,#d80f00 258px,#bb0600 259px,#510000 262px,#340000 263px,#1f0000 264px,#120000 265px,#0d0000 266px,#190000 268px,#470000 271px,#9c0000 276px,#ce0000 280px,#f10000 284px,#fd0100 287px,#ff0c00 291px,#ff3900 301px,#ff5b00 315px,#ff7900 340px,#ff9b00 403px,#ffcb00 497px,#ff0 566px,#ff0 602px)"></i>
<i style="height:3px;background:linear-gradient(90deg,#ff8c00 0px,#ff8700 195px,#ff9400 215px,#ffa800 223px,#ffbc00 226px,#ffe200 230px,#ffed00 235px,#ffec00 242px,#ffdc00 246px,#ffbf00 249px,#ff9c00 251px,#fe6900 253px,#f43000 255px,#e61a00 256px,#cf0b00 257px,#8a0100 259px,#450000 261px,#2a0000 262px,#180000 263px,#0f0000 264px,#0e0000 265px,#1f0000 267px,#a40000 275px,#de0000 280px,#f90000 284px,#ff0700 288px,#ff3800 299px,#ff5b00 313px,#ff7900 338px,#ff9b00 400px,#ffca00 495px,#ff0 566px,#ff0 602px)"></i>
<i style="height:3px;background:linear-gradient(90deg,#ff8c00 0px,#ff8700 194px,#ff9400 214px,#ffa800 222px,#ffbc00 225px,#ffe200 229px,#ffed00 234px,#ffeb00 241px,#ffdb00 245px,#fb0 248px,#ff9600 250px,#fa4300 253px,#f02800 254px,#df1400 255px,#c40800 256px,#580000 259px,#390000 260px,#200 261px,#140000 262px,#0e0000 263px,#100000 264px,#260000 266px,#9d0000 273px,#d00000 277px,#f20000 281px,#fe0300 285px,#ff3b00 298px,#ff5e00 313px,#ff7c00 340px,#ffa200 416px,#ffcf00 502px,#ff0 566px,#ff0 602px)"></i>
<i style="height:3px;background:linear-gradient(90deg,#ff8c00 0px,#ff8700 193px,#ff9400 213px,#ffa800 221px,#ffbc00 224px,#ffe200 228px,#ffed00 233px,#ffeb00 240px,#ffd900 244px,#ffb800 247px,#ff8f00 249px,#f73a00 252px,#eb2100 253px,#d61000 254px,#b80600 255px,#4c0000 258px,#2f0000 259px,#1b0000 260px,#100 261px,#0e0000 262px,#1e0000 264px,#a50000 272px,#d60000 276px,#f60000 280px,#ff0500 284px,#ff3a00 296px,#ff5c00 310px,#ff7a00 335px,#ff9b00 398px,#ffc900 493px,#ff0 566px,#ff0 602px)"></i>
<i style="height:3px;background:linear-gradient(90deg,#ff8c00 0px,#ff8700 193px,#ff9400 212px,#ffa800 220px,#ffbc00 223px,#ffe200 227px,#ffed00 232px,#ffeb00 239px,#ffd800 243px,#ffc300 245px,#ffa000 247px,#fe6d00 249px,#f43200 251px,#e51b00 252px,#cd0c00 253px,#860100 255px,#400000 257px,#270000 258px,#160000 259px,#0f0000 260px,#100000 261px,#250000 263px,#9f0000 270px,#d20000 274px,#f40000 278px,#ff0400 282px,#ff3900 294px,#ff5c00 308px,#ff7a00 333px,#ff9a00 395px,#ffc800 491px,#ff0 566px,#ff0 602px)"></i>
<i style="height:3px;background:linear-gradient(90deg,#ff8c00 0px,#ff8700 192px,#ff9400 211px,#ffa800 219px,#ffbc00 222px,#ffe300 226px,#fe0 231px,#ffeb00 238px,#ffde00 241px,#ffc000 244px,#ff9a00 246px,#fd6400 248px,#f02a00 250px,#de1500 251px,#c20900 252px,#780100 254px,#350000 256px,#1f0000 257px,#120000 258px,#0f0000 259px,#130000 260px,#2c0000 262px,#970000 268px,#cd0000 272px,#f20000 276px,#fd0100 279px,#ff0f00 283px,#ff3900 292px,#ff5c00 306px,#ff7a00 331px,#ff9a00 392px,#ffc700 489px,#ff0 566px,#ff0 602px)"></i>
<i style="height:3px;background:linear-gradient(90deg,#ff8c00 0px,#ff8700 191px,#ff9300 210px,#ffa700 218px,#fb0 221px,#ffe200 225px,#fe0 230px,#ffeb00 237px,#ffde00 240px,#ffbe00 243px,#ff9800 245px,#f94000 248px,#ee2500 249px,#da1200 250px,#bc0700 251px,#4b0000 254px,#2e0000 255px,#1a0000 256px,#100000 257px,#0e0000 258px,#210000 260px,#9d0000 267px,#d20000 271px,#f50000 275px,#ff0400 279px,#ff3b00 291px,#ff5d00 305px,#ff7b00 330px,#ff9a00 392px,#ffc700 489px,#ff0 565px,#ff0 602px)"></i>
</div>
<div class="ins" style="left:188.3px;top:137px;width:256px;height:141px;background:linear-gradient(rgba(247,245,242,0),rgba(247,245,242,.35) 12%,rgba(247,245,242,.62) 22%,rgba(247,245,242,.85) 44%,rgba(246,245,243,.95) 66%,#f4f4f3 85%)"></div><div class="ins" style="left:188.3px;top:277.6px;width:256px;height:23px;background:#c8c9cb"></div><div class="ins" style="left:188.3px;top:300.6px;width:256px;height:41px;background:#8b8b8b"></div><div class="ins" style="left:188.3px;top:341.6px;width:256px;height:145px;background:linear-gradient(#66c6f1,#66c6f1 33%,rgba(102,198,241,.74) 51%,rgba(102,198,241,.52) 68%,rgba(102,198,241,.2) 90%,rgba(102,198,241,0))"></div>
<div class="ins" style="left:1031.3px;top:137px;width:256px;height:141px;background:linear-gradient(rgba(247,245,242,0),rgba(247,245,242,.35) 12%,rgba(247,245,242,.62) 22%,rgba(247,245,242,.85) 44%,rgba(246,245,243,.95) 66%,#f4f4f3 85%)"></div><div class="ins" style="left:1031.3px;top:277.6px;width:256px;height:23px;background:#c8c9cb"></div><div class="ins" style="left:1031.3px;top:300.6px;width:256px;height:41px;background:#8b8b8b"></div><div class="ins" style="left:1031.3px;top:341.6px;width:256px;height:145px;background:linear-gradient(#66c6f1,#66c6f1 33%,rgba(102,198,241,.74) 51%,rgba(102,198,241,.52) 68%,rgba(102,198,241,.2) 90%,rgba(102,198,241,0))"></div>
<svg width="1776" height="1409" viewBox="0 0 1776 1409">
<rect x="150.7" y="99.3" width="601.9" height="602.5" fill="none" stroke="#141414" stroke-width="3.6"/>
<path d="M150.8 701.8v17M218.5 701.8v10M285.2 701.8v10M352.9 701.8v17M420.6 701.8v10M487.6 701.8v10M555.2 701.8v17M622.7 701.8v10M690.3 701.8v10M752.3 701.8v17M150.7 701.5h-16.5M150.7 626.5h-16.5M150.7 551.5h-16.5M150.7 476.6h-16.5M150.7 401.6h-16.5M150.7 326.6h-16.5M150.7 251.7h-16.5M150.7 176.7h-16.5M150.7 101.7h-16.5" stroke="#141414" stroke-width="3.4" fill="none"/>
<text x="151.4" y="757" text-anchor="middle">0</text>
<text x="354.6" y="757" text-anchor="middle">30</text>
<text x="554.6" y="757" text-anchor="middle">60</text>
<text x="755.3" y="757" text-anchor="middle">90</text>
<text x="124.2" y="712.5" text-anchor="end">1.0</text>
<text x="124.2" y="637.5" text-anchor="end">1.1</text>
<text x="124.2" y="562.5" text-anchor="end">1.2</text>
<text x="124.2" y="487.6" text-anchor="end">1.3</text>
<text x="124.2" y="412.6" text-anchor="end">1.4</text>
<text x="124.2" y="337.6" text-anchor="end">1.5</text>
<text x="124.2" y="262.7" text-anchor="end">1.6</text>
<text x="124.2" y="187.7" text-anchor="end">1.7</text>
<text x="124.2" y="112.7" text-anchor="end">1.8</text>
<text x="457.15" y="797" text-anchor="middle" style="font-size:38.7px">Incident angle (deg.)</text>
<text transform="translate(41.7,415.5) rotate(-90)" text-anchor="middle">Refractive index of specimen</text>
<rect x="993.7" y="99.3" width="601.9" height="602.5" fill="none" stroke="#141414" stroke-width="3.6"/>
<path d="M993.6 701.8v17M1061.3 701.8v10M1128 701.8v10M1195.7 701.8v17M1263.4 701.8v10M1330.4 701.8v10M1398 701.8v17M1465.5 701.8v10M1533.1 701.8v10M1595.1 701.8v17M993.7 701.5h-16.5M993.7 626.5h-16.5M993.7 551.5h-16.5M993.7 476.6h-16.5M993.7 401.6h-16.5M993.7 326.6h-16.5M993.7 251.7h-16.5M993.7 176.7h-16.5M993.7 101.7h-16.5" stroke="#141414" stroke-width="3.4" fill="none"/>
<text x="994.2" y="757" text-anchor="middle">0</text>
<text x="1197.4" y="757" text-anchor="middle">30</text>
<text x="1397.4" y="757" text-anchor="middle">60</text>
<text x="1598.1" y="757" text-anchor="middle">90</text>
<text x="967.2" y="712.5" text-anchor="end">1.0</text>
<text x="967.2" y="637.5" text-anchor="end">1.1</text>
<text x="967.2" y="562.5" text-anchor="end">1.2</text>
<text x="967.2" y="487.6" text-anchor="end">1.3</text>
<text x="967.2" y="412.6" text-anchor="end">1.4</text>
<text x="967.2" y="337.6" text-anchor="end">1.5</text>
<text x="967.2" y="262.7" text-anchor="end">1.6</text>
<text x="967.2" y="187.7" text-anchor="end">1.7</text>
<text x="967.2" y="112.7" text-anchor="end">1.8</text>
<text x="1300.15" y="797" text-anchor="middle" style="font-size:38.7px">Incident angle (deg.)</text>
<text transform="translate(884.7,419) rotate(-90)" text-anchor="middle">Refractive index of specimen</text>
<rect x="150.7" y="943.8" width="601.9" height="360.8" fill="none" stroke="#141414" stroke-width="3.6"/>
<path d="M217.6 1304.6v-9M284.5 1304.6v-9M351.3 1304.6v-15M418.2 1304.6v-9M485.1 1304.6v-9M552 1304.6v-15M618.8 1304.6v-9M685.7 1304.6v-9M150.7 1232.4h16M150.7 1160.3h16M150.7 1088.1h16M150.7 1016h16" stroke="#141414" stroke-width="3.4" fill="none"/>
<text x="151.7" y="1350" text-anchor="middle">0</text>
<text x="354.3" y="1350" text-anchor="middle">30</text>
<text x="555" y="1350" text-anchor="middle">60</text>
<text x="755.6" y="1350" text-anchor="middle">90</text>
<text x="137.7" y="1318.6" text-anchor="end">0</text>
<text x="137.7" y="1246.4" text-anchor="end">0.2</text>
<text x="137.7" y="1174.3" text-anchor="end">0.4</text>
<text x="137.7" y="1102.1" text-anchor="end">0.6</text>
<text x="137.7" y="1030" text-anchor="end">0.8</text>
<text x="137.7" y="957.8" text-anchor="end">1.0</text>
<text x="457.15" y="1391" text-anchor="middle" style="font-size:38.7px">Incident angle (deg.)</text>
<text transform="translate(56.2,1123) rotate(-90)" text-anchor="middle" style="font-size:38.5px">Reflectance (a.u.)</text>
<polyline points="150.7,1020.2 151.1,1020.2 151.5,1020.2 151.9,1020.2 152.3,1020.2 152.7,1020.2 153.1,1020.2 153.5,1020.2 153.9,1020.2 154.3,1020.2 154.7,1020.2 155.1,1020.2 155.5,1020.2 155.9,1020.2 156.3,1020.2 156.7,1020.2 157.1,1020.2 157.5,1020.2 157.9,1020.2 158.3,1020.2 158.7,1020.2 159.1,1020.2 159.5,1020.2 159.9,1020.2 160.3,1020.2 160.7,1020.2 161.1,1020.2 161.5,1020.2 161.9,1020.2 162.3,1020.2 162.7,1020.2 163.1,1020.2 163.5,1020.2 163.9,1020.2 164.3,1020.2 164.7,1020.2 165.1,1020.2 165.5,1020.2 165.9,1020.2 166.3,1020.2 166.7,1020.2 167.1,1020.2 167.5,1020.2 167.9,1020.2 168.3,1020.2 168.7,1020.2 169.2,1020.2 169.6,1020.2 170,1020.2 170.4,1020.2 170.8,1020.2 171.2,1020.2 171.6,1020.2 172,1020.2 172.4,1020.2 172.8,1020.2 173.2,1020.2 173.6,1020.3 174,1020.3 174.4,1020.3 174.8,1020.3 175.2,1020.3 175.6,1020.3 176,1020.3 176.4,1020.3 176.8,1020.3 177.2,1020.3 177.6,1020.3 178,1020.3 178.4,1020.3 178.8,1020.3 179.2,1020.3 179.6,1020.3 180,1020.3 180.4,1020.3 180.8,1020.3 181.2,1020.3 181.6,1020.3 182,1020.3 182.4,1020.3 182.8,1020.3 183.2,1020.4 183.6,1020.4 184,1020.4 184.4,1020.4 184.8,1020.4 185.2,1020.4 185.6,1020.4 186,1020.4 186.4,1020.4 186.8,1020.4 187.2,1020.4 187.6,1020.4 188,1020.4 188.4,1020.4 188.8,1020.4 189.2,1020.4 189.6,1020.4 190,1020.4 190.4,1020.5 190.8,1020.5 191.2,1020.5 191.6,1020.5 192,1020.5 192.4,1020.5 192.8,1020.5 193.2,1020.5 193.6,1020.5 194,1020.5 194.4,1020.5 194.8,1020.5 195.2,1020.5 195.6,1020.5 196,1020.5 196.4,1020.6 196.8,1020.6 197.2,1020.6 197.6,1020.6 198,1020.6 198.4,1020.6 198.8,1020.6 199.2,1020.6 199.6,1020.6 200,1020.6 200.4,1020.6 200.8,1020.6 201.2,1020.6 201.6,1020.6 202,1020.7 202.4,1020.7 202.8,1020.7 203.2,1020.7 203.6,1020.7 204,1020.7 204.4,1020.7 204.8,1020.7 205.2,1020.7 205.6,1020.7 206.1,1020.7 206.5,1020.7 206.9,1020.8 207.3,1020.8 207.7,1020.8 208.1,1020.8 208.5,1020.8 208.9,1020.8 209.3,1020.8 209.7,1020.8 210.1,1020.8 210.5,1020.8 210.9,1020.8 211.3,1020.9 211.7,1020.9 212.1,1020.9 212.5,1020.9 212.9,1020.9 213.3,1020.9 213.7,1020.9 214.1,1020.9 214.5,1020.9 214.9,1020.9 215.3,1020.9 215.7,1021 216.1,1021 216.5,1021 216.9,1021 217.3,1021 217.7,1021 218.1,1021 218.5,1021 218.9,1021 219.3,1021 219.7,1021.1 220.1,1021.1 220.5,1021.1 220.9,1021.1 221.3,1021.1 221.7,1021.1 222.1,1021.1 222.5,1021.1 222.9,1021.1 223.3,1021.2 223.7,1021.2 224.1,1021.2 224.5,1021.2 224.9,1021.2 225.3,1021.2 225.7,1021.2 226.1,1021.2 226.5,1021.2 226.9,1021.3 227.3,1021.3 227.7,1021.3 228.1,1021.3 228.5,1021.3 228.9,1021.3 229.3,1021.3 229.7,1021.3 230.1,1021.4 230.5,1021.4 230.9,1021.4 231.3,1021.4 231.7,1021.4 232.1,1021.4 232.5,1021.4 232.9,1021.4 233.3,1021.4 233.7,1021.5 234.1,1021.5 234.5,1021.5 234.9,1021.5 235.3,1021.5 235.7,1021.5 236.1,1021.5 236.5,1021.6 236.9,1021.6 237.3,1021.6 237.7,1021.6 238.1,1021.6 238.5,1021.6 238.9,1021.6 239.3,1021.6 239.7,1021.7 240.1,1021.7 240.5,1021.7 240.9,1021.7 241.3,1021.7 241.7,1021.7 242.1,1021.7 242.5,1021.8 243,1021.8 243.4,1021.8 243.8,1021.8 244.2,1021.8 244.6,1021.8 245,1021.8 245.4,1021.8 245.8,1021.9 246.2,1021.9 246.6,1021.9 247,1021.9 247.4,1021.9 247.8,1021.9 248.2,1021.9 248.6,1022 249,1022 249.4,1022 249.8,1022 250.2,1022 250.6,1022 251,1022.1 251.4,1022.1 251.8,1022.1 252.2,1022.1 252.6,1022.1 253,1022.1 253.4,1022.1 253.8,1022.2 254.2,1022.2 254.6,1022.2 255,1022.2 255.4,1022.2 255.8,1022.2 256.2,1022.2 256.6,1022.3 257,1022.3 257.4,1022.3 257.8,1022.3 258.2,1022.3 258.6,1022.3 259,1022.4 259.4,1022.4 259.8,1022.4 260.2,1022.4 260.6,1022.4 261,1022.4 261.4,1022.5 261.8,1022.5 262.2,1022.5 262.6,1022.5 263,1022.5 263.4,1022.5 263.8,1022.6 264.2,1022.6 264.6,1022.6 265,1022.6 265.4,1022.6 265.8,1022.6 266.2,1022.7 266.6,1022.7 267,1022.7 267.4,1022.7 267.8,1022.7 268.2,1022.7 268.6,1022.8 269,1022.8 269.4,1022.8 269.8,1022.8 270.2,1022.8 270.6,1022.8 271,1022.9 271.4,1022.9 271.8,1022.9 272.2,1022.9 272.6,1022.9 273,1023 273.4,1023 273.8,1023 274.2,1023 274.6,1023 275,1023 275.4,1023.1 275.8,1023.1 276.2,1023.1 276.6,1023.1 277,1023.1 277.4,1023.1 277.8,1023.2 278.2,1023.2 278.6,1023.2 279,1023.2 279.4,1023.2 279.9,1023.3 280.3,1023.3 280.7,1023.3 281.1,1023.3 281.5,1023.3 281.9,1023.4 282.3,1023.4 282.7,1023.4 283.1,1023.4 283.5,1023.4 283.9,1023.4 284.3,1023.5 284.7,1023.5 285.1,1023.5 285.5,1023.5 285.9,1023.5 286.3,1023.6 286.7,1023.6 287.1,1023.6 287.5,1023.6 287.9,1023.6 288.3,1023.7 288.7,1023.7 289.1,1023.7 289.5,1023.7 289.9,1023.7 290.3,1023.8 290.7,1023.8 291.1,1023.8 291.5,1023.8 291.9,1023.8 292.3,1023.8 292.7,1023.9 293.1,1023.9 293.5,1023.9 293.9,1023.9 294.3,1023.9 294.7,1024 295.1,1024 295.5,1024 295.9,1024 296.3,1024 296.7,1024.1 297.1,1024.1 297.5,1024.1 297.9,1024.1 298.3,1024.1 298.7,1024.2 299.1,1024.2 299.5,1024.2 299.9,1024.2 300.3,1024.2 300.7,1024.3 301.1,1024.3 301.5,1024.3 301.9,1024.3 302.3,1024.3 302.7,1024.4 303.1,1024.4 303.5,1024.4 303.9,1024.4 304.3,1024.5 304.7,1024.5 305.1,1024.5 305.5,1024.5 305.9,1024.5 306.3,1024.6 306.7,1024.6 307.1,1024.6 307.5,1024.6 307.9,1024.6 308.3,1024.7 308.7,1024.7 309.1,1024.7 309.5,1024.7 309.9,1024.7 310.3,1024.8 310.7,1024.8 311.1,1024.8 311.5,1024.8 311.9,1024.8 312.3,1024.9 312.7,1024.9 313.1,1024.9 313.5,1024.9 313.9,1024.9 314.3,1025 314.7,1025 315.1,1025 315.5,1025 315.9,1025.1 316.3,1025.1 316.8,1025.1 317.2,1025.1 317.6,1025.1 318,1025.2 318.4,1025.2 318.8,1025.2 319.2,1025.2 319.6,1025.2 320,1025.3 320.4,1025.3 320.8,1025.3 321.2,1025.3 321.6,1025.3 322,1025.4 322.4,1025.4 322.8,1025.4 323.2,1025.4 323.6,1025.4 324,1025.5 324.4,1025.5 324.8,1025.5 325.2,1025.5 325.6,1025.5 326,1025.6 326.4,1025.6 326.8,1025.6 327.2,1025.6 327.6,1025.6 328,1025.7 328.4,1025.7 328.8,1025.7 329.2,1025.7 329.6,1025.8 330,1025.8 330.4,1025.8 330.8,1025.8 331.2,1025.8 331.6,1025.9 332,1025.9 332.4,1025.9 332.8,1025.9 333.2,1025.9 333.6,1025.9 334,1026 334.4,1026 334.8,1026 335.2,1026 335.6,1026 336,1026.1 336.4,1026.1 336.8,1026.1 337.2,1026.1 337.6,1026.1 338,1026.2 338.4,1026.2 338.8,1026.2 339.2,1026.2 339.6,1026.2 340,1026.3 340.4,1026.3 340.8,1026.3 341.2,1026.3 341.6,1026.3 342,1026.3 342.4,1026.4 342.8,1026.4 343.2,1026.4 343.6,1026.4 344,1026.4 344.4,1026.5 344.8,1026.5 345.2,1026.5 345.6,1026.5 346,1026.5 346.4,1026.5 346.8,1026.6 347.2,1026.6 347.6,1026.6 348,1026.6 348.4,1026.6 348.8,1026.6 349.2,1026.7 349.6,1026.7 350,1026.7 350.4,1026.7 350.8,1026.7 351.2,1026.7 351.6,1026.8 352,1026.8 352.4,1026.8 352.8,1026.8 353.2,1026.8 353.7,1026.8 354.1,1026.8 354.5,1026.9 354.9,1026.9 355.3,1026.9 355.7,1026.9 356.1,1026.9 356.5,1026.9 356.9,1026.9 357.3,1026.9 357.7,1027 358.1,1027 358.5,1027 358.9,1027 359.3,1027 359.7,1027 360.1,1027 360.5,1027 360.9,1027.1 361.3,1027.1 361.7,1027.1 362.1,1027.1 362.5,1027.1 362.9,1027.1 363.3,1027.1 363.7,1027.1 364.1,1027.1 364.5,1027.1 364.9,1027.1 365.3,1027.2 365.7,1027.2 366.1,1027.2 366.5,1027.2 366.9,1027.2 367.3,1027.2 367.7,1027.2 368.1,1027.2 368.5,1027.2 368.9,1027.2 369.3,1027.2 369.7,1027.2 370.1,1027.2 370.5,1027.2 370.9,1027.2 371.3,1027.2 371.7,1027.2 372.1,1027.2 372.5,1027.2 372.9,1027.2 373.3,1027.2 373.7,1027.2 374.1,1027.2 374.5,1027.2 374.9,1027.2 375.3,1027.2 375.7,1027.2 376.1,1027.2 376.5,1027.2 376.9,1027.2 377.3,1027.2 377.7,1027.2 378.1,1027.2 378.5,1027.2 378.9,1027.1 379.3,1027.1 379.7,1027.1 380.1,1027.1 380.5,1027.1 380.9,1027.1 381.3,1027.1 381.7,1027.1 382.1,1027 382.5,1027 382.9,1027 383.3,1027 383.7,1027 384.1,1027 384.5,1026.9 384.9,1026.9 385.3,1026.9 385.7,1026.9 386.1,1026.9 386.5,1026.8 386.9,1026.8 387.3,1026.8 387.7,1026.7 388.1,1026.7 388.5,1026.7 388.9,1026.7 389.3,1026.6 389.7,1026.6 390.1,1026.6 390.6,1026.5 391,1026.5 391.4,1026.4 391.8,1026.4 392.2,1026.4 392.6,1026.3 393,1026.3 393.4,1026.2 393.8,1026.2 394.2,1026.1 394.6,1026.1 395,1026 395.4,1026 395.8,1025.9 396.2,1025.8 396.6,1025.8 397,1025.7 397.4,1025.7 397.8,1025.6 398.2,1025.5 398.6,1025.5 399,1025.4 399.4,1025.3 399.8,1025.2 400.2,1025.1 400.6,1025.1 401,1025 401.4,1024.9 401.8,1024.8 402.2,1024.7 402.6,1024.6 403,1024.5 403.4,1024.4 403.8,1024.3 404.2,1024.2 404.6,1024.1 405,1024 405.4,1023.8 405.8,1023.7 406.2,1023.6 406.6,1023.5 407,1023.3 407.4,1023.2 407.8,1023 408.2,1022.9 408.6,1022.7 409,1022.6 409.4,1022.4 409.8,1022.3 410.2,1022.1 410.6,1021.9 411,1021.7 411.4,1021.5 411.8,1021.3 412.2,1021.1 412.6,1020.9 413,1020.7 413.4,1020.5 413.8,1020.2 414.2,1020 414.6,1019.7 415,1019.5 415.4,1019.2 415.8,1018.9 416.2,1018.6 416.6,1018.3 417,1018 417.4,1017.7 417.8,1017.4 418.2,1017 418.6,1016.7 419,1016.3 419.4,1015.9 419.8,1015.5 420.2,1015.1 420.6,1014.6 421,1014.2 421.4,1013.7 421.8,1013.2 422.2,1012.6 422.6,1012.1 423,1011.5 423.4,1010.9 423.8,1010.2 424.2,1009.5 424.6,1008.8 425,1008 425.4,1007.2 425.8,1006.3 426.2,1005.4 426.6,1004.4 427,1003.3 427.5,1002.1 427.9,1000.8 428.3,999.3 428.7,997.6 429.1,995.7 429.5,993.4 429.9,990.3 430.3,984.8 430.7,980.2 431.1,979.5 431.5,979 431.9,978.5 432.3,978.1 432.7,977.7 433.1,977.3 433.5,977 433.9,976.7 434.3,976.4 434.7,976.1 435.1,975.9 435.5,975.6 435.9,975.3 436.3,975.1 436.7,974.9 437.1,974.7 437.5,974.5 437.9,974.3 438.3,974.1 438.7,973.9 439.1,973.7 439.5,973.6 439.9,973.4 440.3,973.3 440.7,973.1 441.1,973 441.5,972.9 441.9,972.8 442.3,972.8 442.7,972.7 443.1,972.6 443.5,972.6 443.9,972.6 444.3,972.6 444.7,972.6 445.1,972.7 445.5,972.7 445.9,972.8 446.3,972.9 446.7,973 447.1,973.2 447.5,973.4 447.9,973.6 448.3,973.8 448.7,974.1 449.1,974.4 449.5,974.8 449.9,975.2 450.3,975.6 450.7,976.1 451.1,976.6 451.5,977.2 451.9,977.9 452.3,978.6 452.7,979.4 453.1,980.2 453.5,981.2 453.9,982.2 454.3,983.2 454.7,984.4 455.1,985.7 455.5,987.1 455.9,988.6 456.3,990.2 456.7,991.9 457.1,993.8 457.5,995.8 457.9,998 458.3,1000.3 458.7,1002.8 459.1,1005.5 459.5,1008.4 459.9,1011.5 460.3,1014.8 460.7,1018.3 461.1,1022.1 461.5,1026.1 461.9,1030.4 462.3,1035 462.7,1039.9 463.1,1045.1 463.5,1050.7 463.9,1056.5 464.4,1062.7 464.8,1069.2 465.2,1076.1 465.6,1083.3 466,1090.9 466.4,1098.9 466.8,1107.1 467.2,1115.7 467.6,1124.6 468,1133.8 468.4,1143.3 468.8,1152.9 469.2,1162.7 469.6,1172.7 470,1182.7 470.4,1192.7 470.8,1202.6 471.2,1212.5 471.6,1222.1 472,1231.5 472.4,1240.5 472.8,1249.1 473.2,1257.2 473.6,1264.8 474,1271.8 474.4,1278.2 474.8,1283.9 475.2,1288.9 475.6,1293.2 476,1296.8 476.4,1299.7 476.8,1301.9 477.2,1303.4 477.6,1304.3 478,1304.5 478.4,1304.2 478.8,1303.4 479.2,1302 479.6,1300.2 480,1298 480.4,1295.5 480.8,1292.6 481.2,1289.4 481.6,1286.1 482,1282.5 482.4,1278.7 482.8,1274.8 483.2,1270.8 483.6,1266.7 484,1262.6 484.4,1258.4 484.8,1254.2 485.2,1250 485.6,1245.8 486,1241.6 486.4,1237.5 486.8,1233.4 487.2,1229.4 487.6,1225.4 488,1221.5 488.4,1217.6 488.8,1213.8 489.2,1210.1 489.6,1206.5 490,1202.9 490.4,1199.4 490.8,1196 491.2,1192.7 491.6,1189.5 492,1186.3 492.4,1183.2 492.8,1180.2 493.2,1177.2 493.6,1174.4 494,1171.6 494.4,1168.8 494.8,1166.2 495.2,1163.6 495.6,1161.1 496,1158.6 496.4,1156.2 496.8,1153.9 497.2,1151.6 497.6,1149.4 498,1147.2 498.4,1145.1 498.8,1143.1 499.2,1141 499.6,1139.1 500,1137.2 500.4,1135.3 500.9,1133.5 501.3,1131.7 501.7,1130 502.1,1128.3 502.5,1126.7 502.9,1125.1 503.3,1123.5 503.7,1122 504.1,1120.5 504.5,1119 504.9,1117.6 505.3,1116.2 505.7,1114.8 506.1,1113.5 506.5,1112.2 506.9,1110.9 507.3,1109.6 507.7,1108.4 508.1,1107.2 508.5,1106 508.9,1104.9 509.3,1103.8 509.7,1102.7 510.1,1101.6 510.5,1100.6 510.9,1099.5 511.3,1098.5 511.7,1097.5 512.1,1096.5 512.5,1095.6 512.9,1094.7 513.3,1093.7 513.7,1092.9 514.1,1092 514.5,1091.1 514.9,1090.3 515.3,1089.4 515.7,1088.6 516.1,1087.8 516.5,1087 516.9,1086.3 517.3,1085.5 517.7,1084.8 518.1,1084 518.5,1083.3 518.9,1082.6 519.3,1081.9 519.7,1081.2 520.1,1080.5 520.5,1079.9 520.9,1079.2 521.3,1078.6 521.7,1078 522.1,1077.4 522.5,1076.7 522.9,1076.1 523.3,1075.6 523.7,1075 524.1,1074.4 524.5,1073.8 524.9,1073.3 525.3,1072.7 525.7,1072.2 526.1,1071.7 526.5,1071.2 526.9,1070.7 527.3,1070.1 527.7,1069.6 528.1,1069.2 528.5,1068.7 528.9,1068.2 529.3,1067.7 529.7,1067.3 530.1,1066.8 530.5,1066.4 530.9,1065.9 531.3,1065.5 531.7,1065 532.1,1064.6 532.5,1064.2 532.9,1063.8 533.3,1063.4 533.7,1063 534.1,1062.6 534.5,1062.2 534.9,1061.8 535.3,1061.4 535.7,1061 536.1,1060.6 536.5,1060.3 536.9,1059.9 537.3,1059.5 537.8,1059.2 538.2,1058.8 538.6,1058.5 539,1058.1 539.4,1057.8 539.8,1057.4 540.2,1057.1 540.6,1056.8 541,1056.4 541.4,1056.1 541.8,1055.8 542.2,1055.5 542.6,1055.2 543,1054.8 543.4,1054.5 543.8,1054.2 544.2,1053.9 544.6,1053.6 545,1053.3 545.4,1053.1 545.8,1052.8 546.2,1052.5 546.6,1052.2 547,1051.9 547.4,1051.6 547.8,1051.4 548.2,1051.1 548.6,1050.8 549,1050.5 549.4,1050.3 549.8,1050 550.2,1049.8 550.6,1049.5 551,1049.2 551.4,1049 551.8,1048.7 552.2,1048.5 552.6,1048.2 553,1048 553.4,1047.8 553.8,1047.5 554.2,1047.3 554.6,1047 555,1046.8 555.4,1046.6 555.8,1046.3 556.2,1046.1 556.6,1045.9 557,1045.6 557.4,1045.4 557.8,1045.2 558.2,1045 558.6,1044.8 559,1044.5 559.4,1044.3 559.8,1044.1 560.2,1043.9 560.6,1043.7 561,1043.5 561.4,1043.3 561.8,1043.1 562.2,1042.8 562.6,1042.6 563,1042.4 563.4,1042.2 563.8,1042 564.2,1041.8 564.6,1041.6 565,1041.4 565.4,1041.2 565.8,1041 566.2,1040.8 566.6,1040.7 567,1040.5 567.4,1040.3 567.8,1040.1 568.2,1039.9 568.6,1039.7 569,1039.5 569.4,1039.3 569.8,1039.1 570.2,1039 570.6,1038.8 571,1038.6 571.4,1038.4 571.8,1038.2 572.2,1038 572.6,1037.9 573,1037.7 573.4,1037.5 573.8,1037.3 574.2,1037.2 574.7,1037 575.1,1036.8 575.5,1036.6 575.9,1036.5 576.3,1036.3 576.7,1036.1 577.1,1035.9 577.5,1035.8 577.9,1035.6 578.3,1035.4 578.7,1035.3 579.1,1035.1 579.5,1034.9 579.9,1034.8 580.3,1034.6 580.7,1034.4 581.1,1034.3 581.5,1034.1 581.9,1033.9 582.3,1033.8 582.7,1033.6 583.1,1033.5 583.5,1033.3 583.9,1033.1 584.3,1033 584.7,1032.8 585.1,1032.6 585.5,1032.5 585.9,1032.3 586.3,1032.2 586.7,1032 587.1,1031.9 587.5,1031.7 587.9,1031.5 588.3,1031.4 588.7,1031.2 589.1,1031.1 589.5,1030.9 589.9,1030.8 590.3,1030.6 590.7,1030.4 591.1,1030.3 591.5,1030.1 591.9,1030 592.3,1029.8 592.7,1029.7 593.1,1029.5 593.5,1029.4 593.9,1029.2 594.3,1029.1 594.7,1028.9 595.1,1028.7 595.5,1028.6 595.9,1028.4 596.3,1028.3 596.7,1028.1 597.1,1028 597.5,1027.8 597.9,1027.7 598.3,1027.5 598.7,1027.4 599.1,1027.2 599.5,1027.1 599.9,1026.9 600.3,1026.8 600.7,1026.6 601.1,1026.5 601.5,1026.3 601.9,1026.2 602.3,1026 602.7,1025.9 603.1,1025.7 603.5,1025.6 603.9,1025.4 604.3,1025.3 604.7,1025.1 605.1,1025 605.5,1024.8 605.9,1024.7 606.3,1024.5 606.7,1024.4 607.1,1024.2 607.5,1024.1 607.9,1023.9 608.3,1023.8 608.7,1023.6 609.1,1023.5 609.5,1023.3 609.9,1023.2 610.3,1023 610.7,1022.9 611.1,1022.7 611.6,1022.5 612,1022.4 612.4,1022.2 612.8,1022.1 613.2,1021.9 613.6,1021.8 614,1021.6 614.4,1021.5 614.8,1021.3 615.2,1021.2 615.6,1021 616,1020.9 616.4,1020.7 616.8,1020.6 617.2,1020.4 617.6,1020.3 618,1020.1 618.4,1020 618.8,1019.8 619.2,1019.7 619.6,1019.5 620,1019.3 620.4,1019.2 620.8,1019 621.2,1018.9 621.6,1018.7 622,1018.6 622.4,1018.4 622.8,1018.3 623.2,1018.1 623.6,1018 624,1017.8 624.4,1017.6 624.8,1017.5 625.2,1017.3 625.6,1017.2 626,1017 626.4,1016.9 626.8,1016.7 627.2,1016.5 627.6,1016.4 628,1016.2 628.4,1016.1 628.8,1015.9 629.2,1015.7 629.6,1015.6 630,1015.4 630.4,1015.3 630.8,1015.1 631.2,1014.9 631.6,1014.8 632,1014.6 632.4,1014.5 632.8,1014.3 633.2,1014.1 633.6,1014 634,1013.8 634.4,1013.6 634.8,1013.5 635.2,1013.3 635.6,1013.2 636,1013 636.4,1012.8 636.8,1012.7 637.2,1012.5 637.6,1012.3 638,1012.2 638.4,1012 638.8,1011.8 639.2,1011.7 639.6,1011.5 640,1011.3 640.4,1011.2 640.8,1011 641.2,1010.8 641.6,1010.6 642,1010.5 642.4,1010.3 642.8,1010.1 643.2,1010 643.6,1009.8 644,1009.6 644.4,1009.4 644.8,1009.3 645.2,1009.1 645.6,1008.9 646,1008.7 646.4,1008.6 646.8,1008.4 647.2,1008.2 647.6,1008 648,1007.9 648.5,1007.7 648.9,1007.5 649.3,1007.3 649.7,1007.2 650.1,1007 650.5,1006.8 650.9,1006.6 651.3,1006.4 651.7,1006.3 652.1,1006.1 652.5,1005.9 652.9,1005.7 653.3,1005.5 653.7,1005.3 654.1,1005.2 654.5,1005 654.9,1004.8 655.3,1004.6 655.7,1004.4 656.1,1004.2 656.5,1004.1 656.9,1003.9 657.3,1003.7 657.7,1003.5 658.1,1003.3 658.5,1003.1 658.9,1002.9 659.3,1002.7 659.7,1002.5 660.1,1002.4 660.5,1002.2 660.9,1002 661.3,1001.8 661.7,1001.6 662.1,1001.4 662.5,1001.2 662.9,1001 663.3,1000.8 663.7,1000.6 664.1,1000.4 664.5,1000.2 664.9,1000 665.3,999.8 665.7,999.6 666.1,999.4 666.5,999.2 666.9,999 667.3,998.8 667.7,998.6 668.1,998.4 668.5,998.2 668.9,998 669.3,997.8 669.7,997.6 670.1,997.4 670.5,997.2 670.9,997 671.3,996.8 671.7,996.6 672.1,996.4 672.5,996.2 672.9,996 673.3,995.8 673.7,995.6 674.1,995.3 674.5,995.1 674.9,994.9 675.3,994.7 675.7,994.5 676.1,994.3 676.5,994.1 676.9,993.9 677.3,993.6 677.7,993.4 678.1,993.2 678.5,993 678.9,992.8 679.3,992.6 679.7,992.3 680.1,992.1 680.5,991.9 680.9,991.7 681.3,991.5 681.7,991.3 682.1,991 682.5,990.8 682.9,990.6 683.3,990.4 683.7,990.1 684.1,989.9 684.5,989.7 684.9,989.5 685.4,989.2 685.8,989 686.2,988.8 686.6,988.6 687,988.3 687.4,988.1 687.8,987.9 688.2,987.6 688.6,987.4 689,987.2 689.4,987 689.8,986.7 690.2,986.5 690.6,986.3 691,986 691.4,985.8 691.8,985.6 692.2,985.3 692.6,985.1 693,984.8 693.4,984.6 693.8,984.4 694.2,984.1 694.6,983.9 695,983.7 695.4,983.4 695.8,983.2 696.2,982.9 696.6,982.7 697,982.4 697.4,982.2 697.8,982 698.2,981.7 698.6,981.5 699,981.2 699.4,981 699.8,980.7 700.2,980.5 700.6,980.2 701,980 701.4,979.7 701.8,979.5 702.2,979.2 702.6,979 703,978.7 703.4,978.5 703.8,978.2 704.2,978 704.6,977.7 705,977.5 705.4,977.2 705.8,977 706.2,976.7 706.6,976.5 707,976.2 707.4,975.9 707.8,975.7 708.2,975.4 708.6,975.2 709,974.9 709.4,974.6 709.8,974.4 710.2,974.1 710.6,973.9 711,973.6 711.4,973.3 711.8,973.1 712.2,972.8 712.6,972.5 713,972.3 713.4,972 713.8,971.7 714.2,971.5 714.6,971.2 715,970.9 715.4,970.7 715.8,970.4 716.2,970.1 716.6,969.9 717,969.6 717.4,969.3 717.8,969 718.2,968.8 718.6,968.5 719,968.2 719.4,968 719.8,967.7 720.2,967.4 720.6,967.1 721,966.9 721.4,966.6 721.8,966.3 722.3,966 722.7,965.8 723.1,965.5 723.5,965.2 723.9,964.9 724.3,964.6 724.7,964.4 725.1,964.1 725.5,963.8 725.9,963.5 726.3,963.2 726.7,962.9 727.1,962.7 727.5,962.4 727.9,962.1 728.3,961.8 728.7,961.5 729.1,961.2 729.5,961 729.9,960.7 730.3,960.4 730.7,960.1 731.1,959.8 731.5,959.5 731.9,959.2 732.3,958.9 732.7,958.7 733.1,958.4 733.5,958.1 733.9,957.8 734.3,957.5 734.7,957.2 735.1,956.9 735.5,956.6 735.9,956.3 736.3,956 736.7,955.7 737.1,955.4 737.5,955.1 737.9,954.9 738.3,954.6 738.7,954.3 739.1,954 739.5,953.7 739.9,953.4 740.3,953.1 740.7,952.8 741.1,952.5 741.5,952.2 741.9,951.9 742.3,951.6 742.7,951.3 743.1,951 743.5,950.7 743.9,950.4 744.3,950.1 744.7,949.8 745.1,949.5 745.5,949.2 745.9,948.9 746.3,948.6 746.7,948.3 747.1,948 747.5,947.7 747.9,947.4 748.3,947.1 748.7,946.8 749.1,946.5 749.5,946.1 749.9,945.8 750.3,945.5 750.7,945.2 751.1,944.9 751.5,944.6 751.9,944.3" fill="none" stroke="#111" stroke-width="3.8" stroke-linejoin="round"/>
<polyline points="150.7,1021 151.1,1021 151.5,1021 151.9,1021 152.3,1021 152.7,1021 153.1,1021 153.5,1021 153.9,1021 154.3,1021 154.7,1021 155.1,1021 155.5,1021 155.9,1021 156.3,1021 156.7,1021 157.1,1021 157.5,1021 157.9,1021 158.3,1021 158.7,1021 159.1,1021 159.5,1021 159.9,1021 160.3,1021 160.7,1021 161.1,1021 161.5,1021 161.9,1021 162.3,1021 162.7,1021 163.1,1021 163.5,1021 163.9,1021 164.3,1021 164.7,1021 165.1,1021 165.5,1021 165.9,1021 166.3,1021 166.7,1021 167.1,1021 167.5,1021 167.9,1021 168.3,1021 168.7,1021 169.2,1021 169.6,1021 170,1021 170.4,1021 170.8,1021 171.2,1021 171.6,1021 172,1021 172.4,1021 172.8,1021.1 173.2,1021.1 173.6,1021.1 174,1021.1 174.4,1021.1 174.8,1021.1 175.2,1021.1 175.6,1021.1 176,1021.1 176.4,1021.1 176.8,1021.1 177.2,1021.1 177.6,1021.1 178,1021.1 178.4,1021.1 178.8,1021.1 179.2,1021.1 179.6,1021.1 180,1021.1 180.4,1021.1 180.8,1021.1 181.2,1021.1 181.6,1021.1 182,1021.1 182.4,1021.1 182.8,1021.1 183.2,1021.1 183.6,1021.1 184,1021.1 184.4,1021.1 184.8,1021.1 185.2,1021.2 185.6,1021.2 186,1021.2 186.4,1021.2 186.8,1021.2 187.2,1021.2 187.6,1021.2 188,1021.2 188.4,1021.2 188.8,1021.2 189.2,1021.2 189.6,1021.2 190,1021.2 190.4,1021.2 190.8,1021.2 191.2,1021.2 191.6,1021.2 192,1021.2 192.4,1021.2 192.8,1021.2 193.2,1021.2 193.6,1021.2 194,1021.3 194.4,1021.3 194.8,1021.3 195.2,1021.3 195.6,1021.3 196,1021.3 196.4,1021.3 196.8,1021.3 197.2,1021.3 197.6,1021.3 198,1021.3 198.4,1021.3 198.8,1021.3 199.2,1021.3 199.6,1021.3 200,1021.3 200.4,1021.3 200.8,1021.3 201.2,1021.4 201.6,1021.4 202,1021.4 202.4,1021.4 202.8,1021.4 203.2,1021.4 203.6,1021.4 204,1021.4 204.4,1021.4 204.8,1021.4 205.2,1021.4 205.6,1021.4 206.1,1021.4 206.5,1021.4 206.9,1021.4 207.3,1021.4 207.7,1021.5 208.1,1021.5 208.5,1021.5 208.9,1021.5 209.3,1021.5 209.7,1021.5 210.1,1021.5 210.5,1021.5 210.9,1021.5 211.3,1021.5 211.7,1021.5 212.1,1021.5 212.5,1021.5 212.9,1021.5 213.3,1021.5 213.7,1021.6 214.1,1021.6 214.5,1021.6 214.9,1021.6 215.3,1021.6 215.7,1021.6 216.1,1021.6 216.5,1021.6 216.9,1021.6 217.3,1021.6 217.7,1021.6 218.1,1021.6 218.5,1021.6 218.9,1021.7 219.3,1021.7 219.7,1021.7 220.1,1021.7 220.5,1021.7 220.9,1021.7 221.3,1021.7 221.7,1021.7 222.1,1021.7 222.5,1021.7 222.9,1021.7 223.3,1021.7 223.7,1021.8 224.1,1021.8 224.5,1021.8 224.9,1021.8 225.3,1021.8 225.7,1021.8 226.1,1021.8 226.5,1021.8 226.9,1021.8 227.3,1021.8 227.7,1021.8 228.1,1021.8 228.5,1021.9 228.9,1021.9 229.3,1021.9 229.7,1021.9 230.1,1021.9 230.5,1021.9 230.9,1021.9 231.3,1021.9 231.7,1021.9 232.1,1021.9 232.5,1021.9 232.9,1022 233.3,1022 233.7,1022 234.1,1022 234.5,1022 234.9,1022 235.3,1022 235.7,1022 236.1,1022 236.5,1022 236.9,1022.1 237.3,1022.1 237.7,1022.1 238.1,1022.1 238.5,1022.1 238.9,1022.1 239.3,1022.1 239.7,1022.1 240.1,1022.1 240.5,1022.1 240.9,1022.2 241.3,1022.2 241.7,1022.2 242.1,1022.2 242.5,1022.2 243,1022.2 243.4,1022.2 243.8,1022.2 244.2,1022.2 244.6,1022.3 245,1022.3 245.4,1022.3 245.8,1022.3 246.2,1022.3 246.6,1022.3 247,1022.3 247.4,1022.3 247.8,1022.3 248.2,1022.3 248.6,1022.4 249,1022.4 249.4,1022.4 249.8,1022.4 250.2,1022.4 250.6,1022.4 251,1022.4 251.4,1022.4 251.8,1022.4 252.2,1022.5 252.6,1022.5 253,1022.5 253.4,1022.5 253.8,1022.5 254.2,1022.5 254.6,1022.5 255,1022.5 255.4,1022.6 255.8,1022.6 256.2,1022.6 256.6,1022.6 257,1022.6 257.4,1022.6 257.8,1022.6 258.2,1022.6 258.6,1022.7 259,1022.7 259.4,1022.7 259.8,1022.7 260.2,1022.7 260.6,1022.7 261,1022.7 261.4,1022.7 261.8,1022.7 262.2,1022.8 262.6,1022.8 263,1022.8 263.4,1022.8 263.8,1022.8 264.2,1022.8 264.6,1022.8 265,1022.9 265.4,1022.9 265.8,1022.9 266.2,1022.9 266.6,1022.9 267,1022.9 267.4,1022.9 267.8,1022.9 268.2,1023 268.6,1023 269,1023 269.4,1023 269.8,1023 270.2,1023 270.6,1023 271,1023 271.4,1023.1 271.8,1023.1 272.2,1023.1 272.6,1023.1 273,1023.1 273.4,1023.1 273.8,1023.1 274.2,1023.2 274.6,1023.2 275,1023.2 275.4,1023.2 275.8,1023.2 276.2,1023.2 276.6,1023.2 277,1023.3 277.4,1023.3 277.8,1023.3 278.2,1023.3 278.6,1023.3 279,1023.3 279.4,1023.3 279.9,1023.4 280.3,1023.4 280.7,1023.4 281.1,1023.4 281.5,1023.4 281.9,1023.4 282.3,1023.4 282.7,1023.5 283.1,1023.5 283.5,1023.5 283.9,1023.5 284.3,1023.5 284.7,1023.5 285.1,1023.5 285.5,1023.6 285.9,1023.6 286.3,1023.6 286.7,1023.6 287.1,1023.6 287.5,1023.6 287.9,1023.6 288.3,1023.7 288.7,1023.7 289.1,1023.7 289.5,1023.7 289.9,1023.7 290.3,1023.7 290.7,1023.7 291.1,1023.8 291.5,1023.8 291.9,1023.8 292.3,1023.8 292.7,1023.8 293.1,1023.8 293.5,1023.9 293.9,1023.9 294.3,1023.9 294.7,1023.9 295.1,1023.9 295.5,1023.9 295.9,1023.9 296.3,1024 296.7,1024 297.1,1024 297.5,1024 297.9,1024 298.3,1024 298.7,1024.1 299.1,1024.1 299.5,1024.1 299.9,1024.1 300.3,1024.1 300.7,1024.1 301.1,1024.2 301.5,1024.2 301.9,1024.2 302.3,1024.2 302.7,1024.2 303.1,1024.2 303.5,1024.3 303.9,1024.3 304.3,1024.3 304.7,1024.3 305.1,1024.3 305.5,1024.3 305.9,1024.4 306.3,1024.4 306.7,1024.4 307.1,1024.4 307.5,1024.4 307.9,1024.4 308.3,1024.4 308.7,1024.5 309.1,1024.5 309.5,1024.5 309.9,1024.5 310.3,1024.5 310.7,1024.6 311.1,1024.6 311.5,1024.6 311.9,1024.6 312.3,1024.6 312.7,1024.6 313.1,1024.7 313.5,1024.7 313.9,1024.7 314.3,1024.7 314.7,1024.7 315.1,1024.7 315.5,1024.8 315.9,1024.8 316.3,1024.8 316.8,1024.8 317.2,1024.8 317.6,1024.8 318,1024.9 318.4,1024.9 318.8,1024.9 319.2,1024.9 319.6,1024.9 320,1024.9 320.4,1025 320.8,1025 321.2,1025 321.6,1025 322,1025 322.4,1025 322.8,1025.1 323.2,1025.1 323.6,1025.1 324,1025.1 324.4,1025.1 324.8,1025.2 325.2,1025.2 325.6,1025.2 326,1025.2 326.4,1025.2 326.8,1025.2 327.2,1025.3 327.6,1025.3 328,1025.3 328.4,1025.3 328.8,1025.3 329.2,1025.4 329.6,1025.4 330,1025.4 330.4,1025.4 330.8,1025.4 331.2,1025.4 331.6,1025.5 332,1025.5 332.4,1025.5 332.8,1025.5 333.2,1025.5 333.6,1025.6 334,1025.6 334.4,1025.6 334.8,1025.6 335.2,1025.6 335.6,1025.6 336,1025.7 336.4,1025.7 336.8,1025.7 337.2,1025.7 337.6,1025.7 338,1025.8 338.4,1025.8 338.8,1025.8 339.2,1025.8 339.6,1025.8 340,1025.8 340.4,1025.9 340.8,1025.9 341.2,1025.9 341.6,1025.9 342,1025.9 342.4,1026 342.8,1026 343.2,1026 343.6,1026 344,1026 344.4,1026.1 344.8,1026.1 345.2,1026.1 345.6,1026.1 346,1026.1 346.4,1026.1 346.8,1026.2 347.2,1026.2 347.6,1026.2 348,1026.2 348.4,1026.2 348.8,1026.3 349.2,1026.3 349.6,1026.3 350,1026.3 350.4,1026.3 350.8,1026.4 351.2,1026.4 351.6,1026.4 352,1026.4 352.4,1026.4 352.8,1026.4 353.2,1026.5 353.7,1026.5 354.1,1026.5 354.5,1026.5 354.9,1026.5 355.3,1026.6 355.7,1026.6 356.1,1026.6 356.5,1026.6 356.9,1026.6 357.3,1026.7 357.7,1026.7 358.1,1026.7 358.5,1026.7 358.9,1026.7 359.3,1026.8 359.7,1026.8 360.1,1026.8 360.5,1026.8 360.9,1026.8 361.3,1026.8 361.7,1026.9 362.1,1026.9 362.5,1026.9 362.9,1026.9 363.3,1026.9 363.7,1027 364.1,1027 364.5,1027 364.9,1027 365.3,1027 365.7,1027.1 366.1,1027.1 366.5,1027.1 366.9,1027.1 367.3,1027.1 367.7,1027.2 368.1,1027.2 368.5,1027.2 368.9,1027.2 369.3,1027.2 369.7,1027.3 370.1,1027.3 370.5,1027.3 370.9,1027.3 371.3,1027.3 371.7,1027.3 372.1,1027.4 372.5,1027.4 372.9,1027.4 373.3,1027.4 373.7,1027.4 374.1,1027.5 374.5,1027.5 374.9,1027.5 375.3,1027.5 375.7,1027.5 376.1,1027.6 376.5,1027.6 376.9,1027.6 377.3,1027.6 377.7,1027.6 378.1,1027.7 378.5,1027.7 378.9,1027.7 379.3,1027.7 379.7,1027.7 380.1,1027.7 380.5,1027.8 380.9,1027.8 381.3,1027.8 381.7,1027.8 382.1,1027.8 382.5,1027.9 382.9,1027.9 383.3,1027.9 383.7,1027.9 384.1,1027.9 384.5,1028 384.9,1028 385.3,1028 385.7,1028 386.1,1028 386.5,1028 386.9,1028.1 387.3,1028.1 387.7,1028.1 388.1,1028.1 388.5,1028.1 388.9,1028.2 389.3,1028.2 389.7,1028.2 390.1,1028.2 390.6,1028.2 391,1028.3 391.4,1028.3 391.8,1028.3 392.2,1028.3 392.6,1028.3 393,1028.3 393.4,1028.4 393.8,1028.4 394.2,1028.4 394.6,1028.4 395,1028.4 395.4,1028.5 395.8,1028.5 396.2,1028.5 396.6,1028.5 397,1028.5 397.4,1028.5 397.8,1028.6 398.2,1028.6 398.6,1028.6 399,1028.6 399.4,1028.6 399.8,1028.7 400.2,1028.7 400.6,1028.7 401,1028.7 401.4,1028.7 401.8,1028.7 402.2,1028.8 402.6,1028.8 403,1028.8 403.4,1028.8 403.8,1028.8 404.2,1028.8 404.6,1028.9 405,1028.9 405.4,1028.9 405.8,1028.9 406.2,1028.9 406.6,1029 407,1029 407.4,1029 407.8,1029 408.2,1029 408.6,1029 409,1029.1 409.4,1029.1 409.8,1029.1 410.2,1029.1 410.6,1029.1 411,1029.1 411.4,1029.2 411.8,1029.2 412.2,1029.2 412.6,1029.2 413,1029.2 413.4,1029.2 413.8,1029.3 414.2,1029.3 414.6,1029.3 415,1029.3 415.4,1029.3 415.8,1029.3 416.2,1029.3 416.6,1029.4 417,1029.4 417.4,1029.4 417.8,1029.4 418.2,1029.4 418.6,1029.4 419,1029.5 419.4,1029.5 419.8,1029.5 420.2,1029.5 420.6,1029.5 421,1029.5 421.4,1029.6 421.8,1029.6 422.2,1029.6 422.6,1029.6 423,1029.6 423.4,1029.6 423.8,1029.6 424.2,1029.7 424.6,1029.7 425,1029.7 425.4,1029.7 425.8,1029.7 426.2,1029.7 426.6,1029.7 427,1029.8 427.5,1029.8 427.9,1029.8 428.3,1029.8 428.7,1029.8 429.1,1029.8 429.5,1029.8 429.9,1029.9 430.3,1029.9 430.7,1029.9 431.1,1029.9 431.5,1029.9 431.9,1029.9 432.3,1029.9 432.7,1029.9 433.1,1030 433.5,1030 433.9,1030 434.3,1030 434.7,1030 435.1,1030 435.5,1030 435.9,1030 436.3,1030.1 436.7,1030.1 437.1,1030.1 437.5,1030.1 437.9,1030.1 438.3,1030.1 438.7,1030.1 439.1,1030.1 439.5,1030.1 439.9,1030.2 440.3,1030.2 440.7,1030.2 441.1,1030.2 441.5,1030.2 441.9,1030.2 442.3,1030.2 442.7,1030.2 443.1,1030.2 443.5,1030.3 443.9,1030.3 444.3,1030.3 444.7,1030.3 445.1,1030.3 445.5,1030.3 445.9,1030.3 446.3,1030.3 446.7,1030.3 447.1,1030.3 447.5,1030.4 447.9,1030.4 448.3,1030.4 448.7,1030.4 449.1,1030.4 449.5,1030.4 449.9,1030.4 450.3,1030.4 450.7,1030.4 451.1,1030.4 451.5,1030.4 451.9,1030.4 452.3,1030.4 452.7,1030.5 453.1,1030.5 453.5,1030.5 453.9,1030.5 454.3,1030.5 454.7,1030.5 455.1,1030.5 455.5,1030.5 455.9,1030.5 456.3,1030.5 456.7,1030.5 457.1,1030.5 457.5,1030.5 457.9,1030.5 458.3,1030.5 458.7,1030.5 459.1,1030.5 459.5,1030.5 459.9,1030.6 460.3,1030.6 460.7,1030.6 461.1,1030.6 461.5,1030.6 461.9,1030.6 462.3,1030.6 462.7,1030.6 463.1,1030.6 463.5,1030.6 463.9,1030.6 464.4,1030.6 464.8,1030.6 465.2,1030.6 465.6,1030.6 466,1030.6 466.4,1030.6 466.8,1030.6 467.2,1030.6 467.6,1030.6 468,1030.6 468.4,1030.6 468.8,1030.6 469.2,1030.6 469.6,1030.6 470,1030.6 470.4,1030.6 470.8,1030.6 471.2,1030.6 471.6,1030.6 472,1030.6 472.4,1030.6 472.8,1030.6 473.2,1030.6 473.6,1030.6 474,1030.6 474.4,1030.6 474.8,1030.6 475.2,1030.6 475.6,1030.6 476,1030.6 476.4,1030.6 476.8,1030.6 477.2,1030.6 477.6,1030.5 478,1030.5 478.4,1030.5 478.8,1030.5 479.2,1030.5 479.6,1030.5 480,1030.5 480.4,1030.5 480.8,1030.5 481.2,1030.5 481.6,1030.5 482,1030.5 482.4,1030.5 482.8,1030.5 483.2,1030.5 483.6,1030.4 484,1030.4 484.4,1030.4 484.8,1030.4 485.2,1030.4 485.6,1030.4 486,1030.4 486.4,1030.4 486.8,1030.4 487.2,1030.4 487.6,1030.3 488,1030.3 488.4,1030.3 488.8,1030.3 489.2,1030.3 489.6,1030.3 490,1030.3 490.4,1030.2 490.8,1030.2 491.2,1030.2 491.6,1030.2 492,1030.2 492.4,1030.2 492.8,1030.2 493.2,1030.1 493.6,1030.1 494,1030.1 494.4,1030.1 494.8,1030.1 495.2,1030.1 495.6,1030 496,1030 496.4,1030 496.8,1030 497.2,1030 497.6,1029.9 498,1029.9 498.4,1029.9 498.8,1029.9 499.2,1029.9 499.6,1029.8 500,1029.8 500.4,1029.8 500.9,1029.8 501.3,1029.7 501.7,1029.7 502.1,1029.7 502.5,1029.7 502.9,1029.6 503.3,1029.6 503.7,1029.6 504.1,1029.6 504.5,1029.5 504.9,1029.5 505.3,1029.5 505.7,1029.5 506.1,1029.4 506.5,1029.4 506.9,1029.4 507.3,1029.3 507.7,1029.3 508.1,1029.3 508.5,1029.2 508.9,1029.2 509.3,1029.2 509.7,1029.1 510.1,1029.1 510.5,1029.1 510.9,1029 511.3,1029 511.7,1029 512.1,1028.9 512.5,1028.9 512.9,1028.9 513.3,1028.8 513.7,1028.8 514.1,1028.8 514.5,1028.7 514.9,1028.7 515.3,1028.6 515.7,1028.6 516.1,1028.6 516.5,1028.5 516.9,1028.5 517.3,1028.4 517.7,1028.4 518.1,1028.3 518.5,1028.3 518.9,1028.3 519.3,1028.2 519.7,1028.2 520.1,1028.1 520.5,1028.1 520.9,1028 521.3,1028 521.7,1027.9 522.1,1027.9 522.5,1027.8 522.9,1027.8 523.3,1027.7 523.7,1027.7 524.1,1027.6 524.5,1027.6 524.9,1027.5 525.3,1027.4 525.7,1027.4 526.1,1027.3 526.5,1027.3 526.9,1027.2 527.3,1027.2 527.7,1027.1 528.1,1027 528.5,1027 528.9,1026.9 529.3,1026.9 529.7,1026.8 530.1,1026.7 530.5,1026.7 530.9,1026.6 531.3,1026.5 531.7,1026.5 532.1,1026.4 532.5,1026.3 532.9,1026.3 533.3,1026.2 533.7,1026.1 534.1,1026 534.5,1026 534.9,1025.9 535.3,1025.8 535.7,1025.8 536.1,1025.7 536.5,1025.6 536.9,1025.5 537.3,1025.4 537.8,1025.4 538.2,1025.3 538.6,1025.2 539,1025.1 539.4,1025 539.8,1025 540.2,1024.9 540.6,1024.8 541,1024.7 541.4,1024.6 541.8,1024.5 542.2,1024.4 542.6,1024.3 543,1024.2 543.4,1024.1 543.8,1024.1 544.2,1024 544.6,1023.9 545,1023.8 545.4,1023.7 545.8,1023.6 546.2,1023.5 546.6,1023.4 547,1023.3 547.4,1023.2 547.8,1023 548.2,1022.9 548.6,1022.8 549,1022.7 549.4,1022.6 549.8,1022.5 550.2,1022.4 550.6,1022.3 551,1022.2 551.4,1022 551.8,1021.9 552.2,1021.8 552.6,1021.7 553,1021.5 553.4,1021.4 553.8,1021.3 554.2,1021.2 554.6,1021 555,1020.9 555.4,1020.8 555.8,1020.6 556.2,1020.5 556.6,1020.4 557,1020.2 557.4,1020.1 557.8,1019.9 558.2,1019.8 558.6,1019.7 559,1019.5 559.4,1019.4 559.8,1019.2 560.2,1019.1 560.6,1018.9 561,1018.7 561.4,1018.6 561.8,1018.4 562.2,1018.3 562.6,1018.1 563,1017.9 563.4,1017.8 563.8,1017.6 564.2,1017.4 564.6,1017.2 565,1017.1 565.4,1016.9 565.8,1016.7 566.2,1016.5 566.6,1016.3 567,1016.1 567.4,1015.9 567.8,1015.7 568.2,1015.5 568.6,1015.3 569,1015.1 569.4,1014.9 569.8,1014.7 570.2,1014.5 570.6,1014.3 571,1014.1 571.4,1013.8 571.8,1013.6 572.2,1013.4 572.6,1013.2 573,1012.9 573.4,1012.7 573.8,1012.4 574.2,1012.2 574.7,1011.9 575.1,1011.7 575.5,1011.4 575.9,1011.1 576.3,1010.9 576.7,1010.6 577.1,1010.3 577.5,1010 577.9,1009.7 578.3,1009.4 578.7,1009.1 579.1,1008.8 579.5,1008.5 579.9,1008.2 580.3,1007.9 580.7,1007.5 581.1,1007.2 581.5,1006.8 581.9,1006.5 582.3,1006.1 582.7,1005.7 583.1,1005.3 583.5,1004.9 583.9,1004.5 584.3,1004.1 584.7,1003.6 585.1,1003.2 585.5,1002.7 585.9,1002.2 586.3,1001.7 586.7,1001.2 587.1,1000.7 587.5,1000.1 587.9,999.5 588.3,998.8 588.7,998.2 589.1,997.4 589.5,996.7 589.9,995.8 590.3,994.9 590.7,993.8 591.1,992.5 591.5,990.8 591.9,986.7 592.3,986.3 592.7,986 593.1,985.9 593.5,985.7 593.9,985.6 594.3,985.5 594.7,985.4 595.1,985.3 595.5,985.2 595.9,985.1 596.3,985 596.7,984.9 597.1,984.8 597.5,984.7 597.9,984.6 598.3,984.6 598.7,984.5 599.1,984.4 599.5,984.3 599.9,984.3 600.3,984.2 600.7,984.1 601.1,984.1 601.5,984 601.9,984 602.3,983.9 602.7,983.8 603.1,983.8 603.5,983.7 603.9,983.7 604.3,983.6 604.7,983.5 605.1,983.5 605.5,983.4 605.9,983.4 606.3,983.3 606.7,983.3 607.1,983.2 607.5,983.2 607.9,983.1 608.3,983.1 608.7,983 609.1,983 609.5,982.9 609.9,982.9 610.3,982.9 610.7,982.8 611.1,982.8 611.6,982.7 612,982.7 612.4,982.6 612.8,982.6 613.2,982.6 613.6,982.5 614,982.5 614.4,982.4 614.8,982.4 615.2,982.4 615.6,982.3 616,982.3 616.4,982.2 616.8,982.2 617.2,982.2 617.6,982.1 618,982.1 618.4,982.1 618.8,982 619.2,982 619.6,982 620,981.9 620.4,981.9 620.8,981.9 621.2,981.8 621.6,981.8 622,981.8 622.4,981.7 622.8,981.7 623.2,981.7 623.6,981.6 624,981.6 624.4,981.6 624.8,981.5 625.2,981.5 625.6,981.5 626,981.5 626.4,981.4 626.8,981.4 627.2,981.4 627.6,981.3 628,981.3 628.4,981.3 628.8,981.3 629.2,981.2 629.6,981.2 630,981.2 630.4,981.2 630.8,981.1 631.2,981.1 631.6,981.1 632,981.1 632.4,981 632.8,981 633.2,981 633.6,981 634,980.9 634.4,980.9 634.8,980.9 635.2,980.9 635.6,980.8 636,980.8 636.4,980.8 636.8,980.8 637.2,980.8 637.6,980.7 638,980.7 638.4,980.7 638.8,980.7 639.2,980.7 639.6,980.6 640,980.6 640.4,980.6 640.8,980.6 641.2,980.5 641.6,980.5 642,980.5 642.4,980.5 642.8,980.5 643.2,980.5 643.6,980.4 644,980.4 644.4,980.4 644.8,980.4 645.2,980.4 645.6,980.3 646,980.3 646.4,980.3 646.8,980.3 647.2,980.3 647.6,980.2 648,980.2 648.5,980.2 648.9,980.2 649.3,980.2 649.7,980.2 650.1,980.1 650.5,980.1 650.9,980.1 651.3,980.1 651.7,980.1 652.1,980 652.5,980 652.9,980 653.3,980 653.7,980 654.1,980 654.5,979.9 654.9,979.9 655.3,979.9 655.7,979.9 656.1,979.9 656.5,979.8 656.9,979.8 657.3,979.8 657.7,979.8 658.1,979.8 658.5,979.8 658.9,979.7 659.3,979.7 659.7,979.7 660.1,979.7 660.5,979.7 660.9,979.6 661.3,979.6 661.7,979.6 662.1,979.6 662.5,979.5 662.9,979.5 663.3,979.5 663.7,979.5 664.1,979.5 664.5,979.4 664.9,979.4 665.3,979.4 665.7,979.4 666.1,979.3 666.5,979.3 666.9,979.3 667.3,979.3 667.7,979.2 668.1,979.2 668.5,979.2 668.9,979.2 669.3,979.1 669.7,979.1 670.1,979.1 670.5,979 670.9,979 671.3,979 671.7,979 672.1,978.9 672.5,978.9 672.9,978.9 673.3,978.8 673.7,978.8 674.1,978.8 674.5,978.7 674.9,978.7 675.3,978.6 675.7,978.6 676.1,978.6 676.5,978.5 676.9,978.5 677.3,978.5 677.7,978.4 678.1,978.4 678.5,978.3 678.9,978.3 679.3,978.2 679.7,978.2 680.1,978.2 680.5,978.1 680.9,978.1 681.3,978 681.7,978 682.1,977.9 682.5,977.9 682.9,977.8 683.3,977.8 683.7,977.7 684.1,977.7 684.5,977.6 684.9,977.5 685.4,977.5 685.8,977.4 686.2,977.4 686.6,977.3 687,977.2 687.4,977.2 687.8,977.1 688.2,977 688.6,977 689,976.9 689.4,976.8 689.8,976.8 690.2,976.7 690.6,976.6 691,976.6 691.4,976.5 691.8,976.4 692.2,976.3 692.6,976.2 693,976.2 693.4,976.1 693.8,976 694.2,975.9 694.6,975.8 695,975.7 695.4,975.6 695.8,975.6 696.2,975.5 696.6,975.4 697,975.3 697.4,975.2 697.8,975.1 698.2,975 698.6,974.9 699,974.8 699.4,974.7 699.8,974.6 700.2,974.4 700.6,974.3 701,974.2 701.4,974.1 701.8,974 702.2,973.9 702.6,973.8 703,973.6 703.4,973.5 703.8,973.4 704.2,973.3 704.6,973.1 705,973 705.4,972.9 705.8,972.7 706.2,972.6 706.6,972.5 707,972.3 707.4,972.2 707.8,972 708.2,971.9 708.6,971.7 709,971.6 709.4,971.4 709.8,971.3 710.2,971.1 710.6,971 711,970.8 711.4,970.6 711.8,970.5 712.2,970.3 712.6,970.1 713,970 713.4,969.8 713.8,969.6 714.2,969.5 714.6,969.3 715,969.1 715.4,968.9 715.8,968.7 716.2,968.5 716.6,968.4 717,968.2 717.4,968 717.8,967.8 718.2,967.6 718.6,967.4 719,967.2 719.4,967 719.8,966.8 720.2,966.6 720.6,966.3 721,966.1 721.4,965.9 721.8,965.7 722.3,965.5 722.7,965.3 723.1,965 723.5,964.8 723.9,964.6 724.3,964.4 724.7,964.1 725.1,963.9 725.5,963.7 725.9,963.4 726.3,963.2 726.7,962.9 727.1,962.7 727.5,962.4 727.9,962.2 728.3,961.9 728.7,961.7 729.1,961.4 729.5,961.2 729.9,960.9 730.3,960.7 730.7,960.4 731.1,960.1 731.5,959.9 731.9,959.6 732.3,959.3 732.7,959.1 733.1,958.8 733.5,958.5 733.9,958.2 734.3,958 734.7,957.7 735.1,957.4 735.5,957.1 735.9,956.8 736.3,956.5 736.7,956.3 737.1,956 737.5,955.7 737.9,955.4 738.3,955.1 738.7,954.8 739.1,954.5 739.5,954.2 739.9,953.9 740.3,953.6 740.7,953.3 741.1,953 741.5,952.7 741.9,952.4 742.3,952.1 742.7,951.7 743.1,951.4 743.5,951.1 743.9,950.8 744.3,950.5 744.7,950.2 745.1,949.9 745.5,949.5 745.9,949.2 746.3,948.9 746.7,948.6 747.1,948.3 747.5,947.9 747.9,947.6 748.3,947.3 748.7,947 749.1,946.6 749.5,946.3 749.9,946 750.3,945.7 750.7,945.3 751.1,945 751.5,944.7 751.9,944.3" fill="none" stroke="#fb1212" stroke-width="3.8" stroke-linejoin="round"/>
<rect x="993.7" y="943.8" width="601.9" height="360.8" fill="none" stroke="#141414" stroke-width="3.6"/>
<path d="M1060.6 1304.6v-9M1127.5 1304.6v-9M1194.3 1304.6v-15M1261.2 1304.6v-9M1328.1 1304.6v-9M1395 1304.6v-15M1461.8 1304.6v-9M1528.7 1304.6v-9M993.7 1232.4h16M993.7 1160.3h16M993.7 1088.1h16M993.7 1016h16" stroke="#141414" stroke-width="3.4" fill="none"/>
<text x="994.7" y="1350" text-anchor="middle">0</text>
<text x="1197.3" y="1350" text-anchor="middle">30</text>
<text x="1398" y="1350" text-anchor="middle">60</text>
<text x="1598.6" y="1350" text-anchor="middle">90</text>
<text x="980.7" y="1318.6" text-anchor="end">0</text>
<text x="980.7" y="1246.4" text-anchor="end">0.2</text>
<text x="980.7" y="1174.3" text-anchor="end">0.4</text>
<text x="980.7" y="1102.1" text-anchor="end">0.6</text>
<text x="980.7" y="1030" text-anchor="end">0.8</text>
<text x="980.7" y="957.8" text-anchor="end">1.0</text>
<text x="1300.15" y="1391" text-anchor="middle" style="font-size:38.7px">Incident angle (deg.)</text>
<text transform="translate(899.2,1123) rotate(-90)" text-anchor="middle" style="font-size:38.5px">Reflectance (a.u.)</text>
<polyline points="993.7,1027.3 994.1,1027.3 994.5,1027.3 994.9,1027.3 995.3,1027.3 995.7,1027.3 996.1,1027.3 996.5,1027.3 996.9,1027.3 997.3,1027.3 997.7,1027.3 998.1,1027.3 998.5,1027.3 998.9,1027.3 999.3,1027.3 999.7,1027.3 1000.1,1027.3 1000.5,1027.3 1000.9,1027.3 1001.3,1027.3 1001.7,1027.3 1002.1,1027.3 1002.5,1027.3 1002.9,1027.3 1003.3,1027.3 1003.7,1027.3 1004.1,1027.3 1004.5,1027.3 1004.9,1027.3 1005.3,1027.3 1005.7,1027.3 1006.1,1027.3 1006.5,1027.3 1006.9,1027.3 1007.3,1027.3 1007.7,1027.3 1008.1,1027.3 1008.5,1027.3 1008.9,1027.3 1009.3,1027.4 1009.7,1027.4 1010.1,1027.4 1010.5,1027.4 1010.9,1027.4 1011.3,1027.4 1011.7,1027.4 1012.2,1027.4 1012.6,1027.4 1013,1027.4 1013.4,1027.4 1013.8,1027.4 1014.2,1027.4 1014.6,1027.4 1015,1027.4 1015.4,1027.4 1015.8,1027.4 1016.2,1027.4 1016.6,1027.4 1017,1027.4 1017.4,1027.4 1017.8,1027.4 1018.2,1027.4 1018.6,1027.4 1019,1027.4 1019.4,1027.4 1019.8,1027.4 1020.2,1027.4 1020.6,1027.4 1021,1027.4 1021.4,1027.5 1021.8,1027.5 1022.2,1027.5 1022.6,1027.5 1023,1027.5 1023.4,1027.5 1023.8,1027.5 1024.2,1027.5 1024.6,1027.5 1025,1027.5 1025.4,1027.5 1025.8,1027.5 1026.2,1027.5 1026.6,1027.5 1027,1027.5 1027.4,1027.5 1027.8,1027.5 1028.2,1027.5 1028.6,1027.5 1029,1027.5 1029.4,1027.6 1029.8,1027.6 1030.2,1027.6 1030.6,1027.6 1031,1027.6 1031.4,1027.6 1031.8,1027.6 1032.2,1027.6 1032.6,1027.6 1033,1027.6 1033.4,1027.6 1033.8,1027.6 1034.2,1027.6 1034.6,1027.6 1035,1027.6 1035.4,1027.6 1035.8,1027.7 1036.2,1027.7 1036.6,1027.7 1037,1027.7 1037.4,1027.7 1037.8,1027.7 1038.2,1027.7 1038.6,1027.7 1039,1027.7 1039.4,1027.7 1039.8,1027.7 1040.2,1027.7 1040.6,1027.7 1041,1027.7 1041.4,1027.8 1041.8,1027.8 1042.2,1027.8 1042.6,1027.8 1043,1027.8 1043.4,1027.8 1043.8,1027.8 1044.2,1027.8 1044.6,1027.8 1045,1027.8 1045.4,1027.8 1045.8,1027.8 1046.2,1027.8 1046.6,1027.9 1047,1027.9 1047.4,1027.9 1047.8,1027.9 1048.2,1027.9 1048.6,1027.9 1049.1,1027.9 1049.5,1027.9 1049.9,1027.9 1050.3,1027.9 1050.7,1027.9 1051.1,1027.9 1051.5,1028 1051.9,1028 1052.3,1028 1052.7,1028 1053.1,1028 1053.5,1028 1053.9,1028 1054.3,1028 1054.7,1028 1055.1,1028 1055.5,1028 1055.9,1028.1 1056.3,1028.1 1056.7,1028.1 1057.1,1028.1 1057.5,1028.1 1057.9,1028.1 1058.3,1028.1 1058.7,1028.1 1059.1,1028.1 1059.5,1028.1 1059.9,1028.2 1060.3,1028.2 1060.7,1028.2 1061.1,1028.2 1061.5,1028.2 1061.9,1028.2 1062.3,1028.2 1062.7,1028.2 1063.1,1028.2 1063.5,1028.3 1063.9,1028.3 1064.3,1028.3 1064.7,1028.3 1065.1,1028.3 1065.5,1028.3 1065.9,1028.3 1066.3,1028.3 1066.7,1028.3 1067.1,1028.3 1067.5,1028.4 1067.9,1028.4 1068.3,1028.4 1068.7,1028.4 1069.1,1028.4 1069.5,1028.4 1069.9,1028.4 1070.3,1028.4 1070.7,1028.5 1071.1,1028.5 1071.5,1028.5 1071.9,1028.5 1072.3,1028.5 1072.7,1028.5 1073.1,1028.5 1073.5,1028.5 1073.9,1028.5 1074.3,1028.6 1074.7,1028.6 1075.1,1028.6 1075.5,1028.6 1075.9,1028.6 1076.3,1028.6 1076.7,1028.6 1077.1,1028.6 1077.5,1028.7 1077.9,1028.7 1078.3,1028.7 1078.7,1028.7 1079.1,1028.7 1079.5,1028.7 1079.9,1028.7 1080.3,1028.7 1080.7,1028.8 1081.1,1028.8 1081.5,1028.8 1081.9,1028.8 1082.3,1028.8 1082.7,1028.8 1083.1,1028.8 1083.5,1028.9 1083.9,1028.9 1084.3,1028.9 1084.7,1028.9 1085.1,1028.9 1085.5,1028.9 1086,1028.9 1086.4,1028.9 1086.8,1029 1087.2,1029 1087.6,1029 1088,1029 1088.4,1029 1088.8,1029 1089.2,1029 1089.6,1029.1 1090,1029.1 1090.4,1029.1 1090.8,1029.1 1091.2,1029.1 1091.6,1029.1 1092,1029.1 1092.4,1029.2 1092.8,1029.2 1093.2,1029.2 1093.6,1029.2 1094,1029.2 1094.4,1029.2 1094.8,1029.2 1095.2,1029.3 1095.6,1029.3 1096,1029.3 1096.4,1029.3 1096.8,1029.3 1097.2,1029.3 1097.6,1029.3 1098,1029.4 1098.4,1029.4 1098.8,1029.4 1099.2,1029.4 1099.6,1029.4 1100,1029.4 1100.4,1029.5 1100.8,1029.5 1101.2,1029.5 1101.6,1029.5 1102,1029.5 1102.4,1029.5 1102.8,1029.5 1103.2,1029.6 1103.6,1029.6 1104,1029.6 1104.4,1029.6 1104.8,1029.6 1105.2,1029.6 1105.6,1029.7 1106,1029.7 1106.4,1029.7 1106.8,1029.7 1107.2,1029.7 1107.6,1029.7 1108,1029.7 1108.4,1029.8 1108.8,1029.8 1109.2,1029.8 1109.6,1029.8 1110,1029.8 1110.4,1029.8 1110.8,1029.9 1111.2,1029.9 1111.6,1029.9 1112,1029.9 1112.4,1029.9 1112.8,1029.9 1113.2,1029.9 1113.6,1030 1114,1030 1114.4,1030 1114.8,1030 1115.2,1030 1115.6,1030 1116,1030.1 1116.4,1030.1 1116.8,1030.1 1117.2,1030.1 1117.6,1030.1 1118,1030.1 1118.4,1030.2 1118.8,1030.2 1119.2,1030.2 1119.6,1030.2 1120,1030.2 1120.4,1030.2 1120.8,1030.2 1121.2,1030.3 1121.6,1030.3 1122,1030.3 1122.4,1030.3 1122.9,1030.3 1123.3,1030.3 1123.7,1030.4 1124.1,1030.4 1124.5,1030.4 1124.9,1030.4 1125.3,1030.4 1125.7,1030.4 1126.1,1030.5 1126.5,1030.5 1126.9,1030.5 1127.3,1030.5 1127.7,1030.5 1128.1,1030.5 1128.5,1030.5 1128.9,1030.6 1129.3,1030.6 1129.7,1030.6 1130.1,1030.6 1130.5,1030.6 1130.9,1030.6 1131.3,1030.7 1131.7,1030.7 1132.1,1030.7 1132.5,1030.7 1132.9,1030.7 1133.3,1030.7 1133.7,1030.7 1134.1,1030.8 1134.5,1030.8 1134.9,1030.8 1135.3,1030.8 1135.7,1030.8 1136.1,1030.8 1136.5,1030.8 1136.9,1030.9 1137.3,1030.9 1137.7,1030.9 1138.1,1030.9 1138.5,1030.9 1138.9,1030.9 1139.3,1030.9 1139.7,1031 1140.1,1031 1140.5,1031 1140.9,1031 1141.3,1031 1141.7,1031 1142.1,1031 1142.5,1031 1142.9,1031.1 1143.3,1031.1 1143.7,1031.1 1144.1,1031.1 1144.5,1031.1 1144.9,1031.1 1145.3,1031.1 1145.7,1031.1 1146.1,1031.2 1146.5,1031.2 1146.9,1031.2 1147.3,1031.2 1147.7,1031.2 1148.1,1031.2 1148.5,1031.2 1148.9,1031.2 1149.3,1031.2 1149.7,1031.2 1150.1,1031.3 1150.5,1031.3 1150.9,1031.3 1151.3,1031.3 1151.7,1031.3 1152.1,1031.3 1152.5,1031.3 1152.9,1031.3 1153.3,1031.3 1153.7,1031.3 1154.1,1031.3 1154.5,1031.3 1154.9,1031.4 1155.3,1031.4 1155.7,1031.4 1156.1,1031.4 1156.5,1031.4 1156.9,1031.4 1157.3,1031.4 1157.7,1031.4 1158.1,1031.4 1158.5,1031.4 1158.9,1031.4 1159.3,1031.4 1159.8,1031.4 1160.2,1031.4 1160.6,1031.4 1161,1031.4 1161.4,1031.4 1161.8,1031.4 1162.2,1031.4 1162.6,1031.4 1163,1031.4 1163.4,1031.4 1163.8,1031.4 1164.2,1031.4 1164.6,1031.4 1165,1031.4 1165.4,1031.4 1165.8,1031.4 1166.2,1031.4 1166.6,1031.4 1167,1031.4 1167.4,1031.4 1167.8,1031.4 1168.2,1031.3 1168.6,1031.3 1169,1031.3 1169.4,1031.3 1169.8,1031.3 1170.2,1031.3 1170.6,1031.3 1171,1031.3 1171.4,1031.3 1171.8,1031.2 1172.2,1031.2 1172.6,1031.2 1173,1031.2 1173.4,1031.2 1173.8,1031.2 1174.2,1031.1 1174.6,1031.1 1175,1031.1 1175.4,1031.1 1175.8,1031 1176.2,1031 1176.6,1031 1177,1031 1177.4,1030.9 1177.8,1030.9 1178.2,1030.9 1178.6,1030.8 1179,1030.8 1179.4,1030.8 1179.8,1030.7 1180.2,1030.7 1180.6,1030.6 1181,1030.6 1181.4,1030.5 1181.8,1030.5 1182.2,1030.5 1182.6,1030.4 1183,1030.4 1183.4,1030.3 1183.8,1030.2 1184.2,1030.2 1184.6,1030.1 1185,1030.1 1185.4,1030 1185.8,1029.9 1186.2,1029.9 1186.6,1029.8 1187,1029.7 1187.4,1029.6 1187.8,1029.6 1188.2,1029.5 1188.6,1029.4 1189,1029.3 1189.4,1029.2 1189.8,1029.1 1190.2,1029 1190.6,1028.9 1191,1028.8 1191.4,1028.7 1191.8,1028.6 1192.2,1028.5 1192.6,1028.3 1193,1028.2 1193.4,1028.1 1193.8,1027.9 1194.2,1027.8 1194.6,1027.7 1195,1027.5 1195.4,1027.3 1195.8,1027.2 1196.2,1027 1196.7,1026.8 1197.1,1026.6 1197.5,1026.5 1197.9,1026.3 1198.3,1026 1198.7,1025.8 1199.1,1025.6 1199.5,1025.4 1199.9,1025.1 1200.3,1024.9 1200.7,1024.6 1201.1,1024.4 1201.5,1024.1 1201.9,1023.8 1202.3,1023.5 1202.7,1023.1 1203.1,1022.8 1203.5,1022.5 1203.9,1022.1 1204.3,1021.7 1204.7,1021.3 1205.1,1020.9 1205.5,1020.4 1205.9,1020 1206.3,1019.5 1206.7,1019 1207.1,1018.4 1207.5,1017.8 1207.9,1017.2 1208.3,1016.6 1208.7,1015.9 1209.1,1015.2 1209.5,1014.4 1209.9,1013.6 1210.3,1012.7 1210.7,1011.7 1211.1,1010.7 1211.5,1009.6 1211.9,1008.4 1212.3,1007.1 1212.7,1005.6 1213.1,1004 1213.5,1002.1 1213.9,999.9 1214.3,997.2 1214.7,993.8 1215.1,988.2 1215.5,981.2 1215.9,980.3 1216.3,979.6 1216.7,979 1217.1,978.5 1217.5,978.1 1217.9,977.6 1218.3,977.2 1218.7,976.8 1219.1,976.5 1219.5,976.1 1219.9,975.8 1220.3,975.5 1220.7,975.2 1221.1,975 1221.5,974.7 1221.9,974.5 1222.3,974.3 1222.7,974.1 1223.1,973.9 1223.5,973.8 1223.9,973.7 1224.3,973.6 1224.7,973.5 1225.1,973.5 1225.5,973.5 1225.9,973.6 1226.3,973.7 1226.7,973.8 1227.1,974 1227.5,974.2 1227.9,974.5 1228.3,974.9 1228.7,975.4 1229.1,975.9 1229.5,976.5 1229.9,977.2 1230.3,978 1230.7,978.9 1231.1,979.9 1231.5,981.1 1231.9,982.4 1232.3,983.9 1232.7,985.6 1233.1,987.5 1233.6,989.6 1234,991.9 1234.4,994.5 1234.8,997.4 1235.2,1000.6 1235.6,1004.1 1236,1008.1 1236.4,1012.4 1236.8,1017.2 1237.2,1022.5 1237.6,1028.3 1238,1034.6 1238.4,1041.6 1238.8,1049.2 1239.2,1057.4 1239.6,1066.4 1240,1076.1 1240.4,1086.4 1240.8,1097.6 1241.2,1109.4 1241.6,1121.8 1242,1134.9 1242.4,1148.5 1242.8,1162.5 1243.2,1176.8 1243.6,1191.1 1244,1205.4 1244.4,1219.4 1244.8,1232.9 1245.2,1245.6 1245.6,1257.4 1246,1268.2 1246.4,1277.6 1246.8,1285.7 1247.2,1292.4 1247.6,1297.6 1248,1301.3 1248.4,1303.5 1248.8,1304.5 1249.2,1304.2 1249.6,1302.7 1250,1300.3 1250.4,1297 1250.8,1293 1251.2,1288.4 1251.6,1283.3 1252,1277.9 1252.4,1272.1 1252.8,1266.2 1253.2,1260.1 1253.6,1254 1254,1247.9 1254.4,1241.8 1254.8,1235.7 1255.2,1229.8 1255.6,1224 1256,1218.3 1256.4,1212.8 1256.8,1207.4 1257.2,1202.2 1257.6,1197.1 1258,1192.2 1258.4,1187.5 1258.8,1182.9 1259.2,1178.5 1259.6,1174.3 1260,1170.2 1260.4,1166.3 1260.8,1162.5 1261.2,1158.8 1261.6,1155.3 1262,1151.9 1262.4,1148.6 1262.8,1145.5 1263.2,1142.4 1263.6,1139.5 1264,1136.7 1264.4,1134 1264.8,1131.4 1265.2,1128.8 1265.6,1126.4 1266,1124 1266.4,1121.8 1266.8,1119.6 1267.2,1117.4 1267.6,1115.4 1268,1113.4 1268.4,1111.5 1268.8,1109.6 1269.2,1107.8 1269.6,1106.1 1270,1104.4 1270.5,1102.7 1270.9,1101.1 1271.3,1099.6 1271.7,1098.1 1272.1,1096.7 1272.5,1095.3 1272.9,1093.9 1273.3,1092.6 1273.7,1091.3 1274.1,1090 1274.5,1088.8 1274.9,1087.6 1275.3,1086.5 1275.7,1085.3 1276.1,1084.2 1276.5,1083.2 1276.9,1082.1 1277.3,1081.1 1277.7,1080.1 1278.1,1079.2 1278.5,1078.3 1278.9,1077.3 1279.3,1076.4 1279.7,1075.6 1280.1,1074.7 1280.5,1073.9 1280.9,1073.1 1281.3,1072.3 1281.7,1071.5 1282.1,1070.8 1282.5,1070 1282.9,1069.3 1283.3,1068.6 1283.7,1067.9 1284.1,1067.2 1284.5,1066.6 1284.9,1065.9 1285.3,1065.3 1285.7,1064.7 1286.1,1064.1 1286.5,1063.5 1286.9,1062.9 1287.3,1062.3 1287.7,1061.8 1288.1,1061.2 1288.5,1060.7 1288.9,1060.1 1289.3,1059.6 1289.7,1059.1 1290.1,1058.6 1290.5,1058.1 1290.9,1057.6 1291.3,1057.2 1291.7,1056.7 1292.1,1056.3 1292.5,1055.8 1292.9,1055.4 1293.3,1054.9 1293.7,1054.5 1294.1,1054.1 1294.5,1053.7 1294.9,1053.3 1295.3,1052.9 1295.7,1052.5 1296.1,1052.1 1296.5,1051.7 1296.9,1051.4 1297.3,1051 1297.7,1050.6 1298.1,1050.3 1298.5,1049.9 1298.9,1049.6 1299.3,1049.3 1299.7,1048.9 1300.1,1048.6 1300.5,1048.3 1300.9,1047.9 1301.3,1047.6 1301.7,1047.3 1302.1,1047 1302.5,1046.7 1302.9,1046.4 1303.3,1046.1 1303.7,1045.8 1304.1,1045.6 1304.5,1045.3 1304.9,1045 1305.3,1044.7 1305.7,1044.5 1306.1,1044.2 1306.5,1043.9 1306.9,1043.7 1307.4,1043.4 1307.8,1043.2 1308.2,1042.9 1308.6,1042.7 1309,1042.4 1309.4,1042.2 1309.8,1042 1310.2,1041.7 1310.6,1041.5 1311,1041.3 1311.4,1041 1311.8,1040.8 1312.2,1040.6 1312.6,1040.4 1313,1040.2 1313.4,1040 1313.8,1039.8 1314.2,1039.5 1314.6,1039.3 1315,1039.1 1315.4,1038.9 1315.8,1038.7 1316.2,1038.5 1316.6,1038.3 1317,1038.2 1317.4,1038 1317.8,1037.8 1318.2,1037.6 1318.6,1037.4 1319,1037.2 1319.4,1037 1319.8,1036.9 1320.2,1036.7 1320.6,1036.5 1321,1036.3 1321.4,1036.2 1321.8,1036 1322.2,1035.8 1322.6,1035.7 1323,1035.5 1323.4,1035.3 1323.8,1035.2 1324.2,1035 1324.6,1034.9 1325,1034.7 1325.4,1034.5 1325.8,1034.4 1326.2,1034.2 1326.6,1034.1 1327,1033.9 1327.4,1033.8 1327.8,1033.6 1328.2,1033.5 1328.6,1033.3 1329,1033.2 1329.4,1033.1 1329.8,1032.9 1330.2,1032.8 1330.6,1032.6 1331,1032.5 1331.4,1032.4 1331.8,1032.2 1332.2,1032.1 1332.6,1032 1333,1031.8 1333.4,1031.7 1333.8,1031.6 1334.2,1031.4 1334.6,1031.3 1335,1031.2 1335.4,1031 1335.8,1030.9 1336.2,1030.8 1336.6,1030.7 1337,1030.5 1337.4,1030.4 1337.8,1030.3 1338.2,1030.2 1338.6,1030.1 1339,1029.9 1339.4,1029.8 1339.8,1029.7 1340.2,1029.6 1340.6,1029.5 1341,1029.4 1341.4,1029.2 1341.8,1029.1 1342.2,1029 1342.6,1028.9 1343,1028.8 1343.4,1028.7 1343.9,1028.6 1344.3,1028.5 1344.7,1028.3 1345.1,1028.2 1345.5,1028.1 1345.9,1028 1346.3,1027.9 1346.7,1027.8 1347.1,1027.7 1347.5,1027.6 1347.9,1027.5 1348.3,1027.4 1348.7,1027.3 1349.1,1027.2 1349.5,1027.1 1349.9,1027 1350.3,1026.9 1350.7,1026.8 1351.1,1026.7 1351.5,1026.6 1351.9,1026.5 1352.3,1026.4 1352.7,1026.3 1353.1,1026.2 1353.5,1026.1 1353.9,1026 1354.3,1025.9 1354.7,1025.8 1355.1,1025.7 1355.5,1025.6 1355.9,1025.5 1356.3,1025.4 1356.7,1025.3 1357.1,1025.2 1357.5,1025.1 1357.9,1025 1358.3,1024.9 1358.7,1024.8 1359.1,1024.7 1359.5,1024.6 1359.9,1024.6 1360.3,1024.5 1360.7,1024.4 1361.1,1024.3 1361.5,1024.2 1361.9,1024.1 1362.3,1024 1362.7,1023.9 1363.1,1023.8 1363.5,1023.7 1363.9,1023.6 1364.3,1023.6 1364.7,1023.5 1365.1,1023.4 1365.5,1023.3 1365.9,1023.2 1366.3,1023.1 1366.7,1023 1367.1,1022.9 1367.5,1022.9 1367.9,1022.8 1368.3,1022.7 1368.7,1022.6 1369.1,1022.5 1369.5,1022.4 1369.9,1022.3 1370.3,1022.2 1370.7,1022.2 1371.1,1022.1 1371.5,1022 1371.9,1021.9 1372.3,1021.8 1372.7,1021.7 1373.1,1021.7 1373.5,1021.6 1373.9,1021.5 1374.3,1021.4 1374.7,1021.3 1375.1,1021.2 1375.5,1021.1 1375.9,1021.1 1376.3,1021 1376.7,1020.9 1377.1,1020.8 1377.5,1020.7 1377.9,1020.6 1378.3,1020.6 1378.7,1020.5 1379.1,1020.4 1379.5,1020.3 1379.9,1020.2 1380.3,1020.2 1380.8,1020.1 1381.2,1020 1381.6,1019.9 1382,1019.8 1382.4,1019.7 1382.8,1019.7 1383.2,1019.6 1383.6,1019.5 1384,1019.4 1384.4,1019.3 1384.8,1019.2 1385.2,1019.2 1385.6,1019.1 1386,1019 1386.4,1018.9 1386.8,1018.8 1387.2,1018.8 1387.6,1018.7 1388,1018.6 1388.4,1018.5 1388.8,1018.4 1389.2,1018.3 1389.6,1018.3 1390,1018.2 1390.4,1018.1 1390.8,1018 1391.2,1017.9 1391.6,1017.9 1392,1017.8 1392.4,1017.7 1392.8,1017.6 1393.2,1017.5 1393.6,1017.5 1394,1017.4 1394.4,1017.3 1394.8,1017.2 1395.2,1017.1 1395.6,1017 1396,1017 1396.4,1016.9 1396.8,1016.8 1397.2,1016.7 1397.6,1016.6 1398,1016.6 1398.4,1016.5 1398.8,1016.4 1399.2,1016.3 1399.6,1016.2 1400,1016.1 1400.4,1016.1 1400.8,1016 1401.2,1015.9 1401.6,1015.8 1402,1015.7 1402.4,1015.6 1402.8,1015.6 1403.2,1015.5 1403.6,1015.4 1404,1015.3 1404.4,1015.2 1404.8,1015.1 1405.2,1015.1 1405.6,1015 1406,1014.9 1406.4,1014.8 1406.8,1014.7 1407.2,1014.6 1407.6,1014.6 1408,1014.5 1408.4,1014.4 1408.8,1014.3 1409.2,1014.2 1409.6,1014.1 1410,1014.1 1410.4,1014 1410.8,1013.9 1411.2,1013.8 1411.6,1013.7 1412,1013.6 1412.4,1013.5 1412.8,1013.5 1413.2,1013.4 1413.6,1013.3 1414,1013.2 1414.4,1013.1 1414.8,1013 1415.2,1012.9 1415.6,1012.9 1416,1012.8 1416.4,1012.7 1416.8,1012.6 1417.2,1012.5 1417.7,1012.4 1418.1,1012.3 1418.5,1012.3 1418.9,1012.2 1419.3,1012.1 1419.7,1012 1420.1,1011.9 1420.5,1011.8 1420.9,1011.7 1421.3,1011.6 1421.7,1011.5 1422.1,1011.5 1422.5,1011.4 1422.9,1011.3 1423.3,1011.2 1423.7,1011.1 1424.1,1011 1424.5,1010.9 1424.9,1010.8 1425.3,1010.7 1425.7,1010.7 1426.1,1010.6 1426.5,1010.5 1426.9,1010.4 1427.3,1010.3 1427.7,1010.2 1428.1,1010.1 1428.5,1010 1428.9,1009.9 1429.3,1009.8 1429.7,1009.7 1430.1,1009.6 1430.5,1009.5 1430.9,1009.5 1431.3,1009.4 1431.7,1009.3 1432.1,1009.2 1432.5,1009.1 1432.9,1009 1433.3,1008.9 1433.7,1008.8 1434.1,1008.7 1434.5,1008.6 1434.9,1008.5 1435.3,1008.4 1435.7,1008.3 1436.1,1008.2 1436.5,1008.1 1436.9,1008 1437.3,1007.9 1437.7,1007.8 1438.1,1007.7 1438.5,1007.6 1438.9,1007.5 1439.3,1007.4 1439.7,1007.3 1440.1,1007.2 1440.5,1007.1 1440.9,1007 1441.3,1006.9 1441.7,1006.8 1442.1,1006.7 1442.5,1006.6 1442.9,1006.5 1443.3,1006.4 1443.7,1006.3 1444.1,1006.2 1444.5,1006.1 1444.9,1006 1445.3,1005.9 1445.7,1005.8 1446.1,1005.7 1446.5,1005.6 1446.9,1005.5 1447.3,1005.4 1447.7,1005.3 1448.1,1005.2 1448.5,1005.1 1448.9,1005 1449.3,1004.9 1449.7,1004.8 1450.1,1004.7 1450.5,1004.6 1450.9,1004.5 1451.3,1004.4 1451.7,1004.3 1452.1,1004.2 1452.5,1004.1 1452.9,1004 1453.3,1003.8 1453.7,1003.7 1454.1,1003.6 1454.6,1003.5 1455,1003.4 1455.4,1003.3 1455.8,1003.2 1456.2,1003.1 1456.6,1003 1457,1002.9 1457.4,1002.8 1457.8,1002.6 1458.2,1002.5 1458.6,1002.4 1459,1002.3 1459.4,1002.2 1459.8,1002.1 1460.2,1002 1460.6,1001.9 1461,1001.7 1461.4,1001.6 1461.8,1001.5 1462.2,1001.4 1462.6,1001.3 1463,1001.2 1463.4,1001.1 1463.8,1000.9 1464.2,1000.8 1464.6,1000.7 1465,1000.6 1465.4,1000.5 1465.8,1000.4 1466.2,1000.2 1466.6,1000.1 1467,1000 1467.4,999.9 1467.8,999.8 1468.2,999.7 1468.6,999.5 1469,999.4 1469.4,999.3 1469.8,999.2 1470.2,999.1 1470.6,998.9 1471,998.8 1471.4,998.7 1471.8,998.6 1472.2,998.4 1472.6,998.3 1473,998.2 1473.4,998.1 1473.8,997.9 1474.2,997.8 1474.6,997.7 1475,997.6 1475.4,997.5 1475.8,997.3 1476.2,997.2 1476.6,997.1 1477,996.9 1477.4,996.8 1477.8,996.7 1478.2,996.6 1478.6,996.4 1479,996.3 1479.4,996.2 1479.8,996 1480.2,995.9 1480.6,995.8 1481,995.7 1481.4,995.5 1481.8,995.4 1482.2,995.3 1482.6,995.1 1483,995 1483.4,994.9 1483.8,994.7 1484.2,994.6 1484.6,994.5 1485,994.3 1485.4,994.2 1485.8,994.1 1486.2,993.9 1486.6,993.8 1487,993.7 1487.4,993.5 1487.8,993.4 1488.2,993.3 1488.6,993.1 1489,993 1489.4,992.8 1489.8,992.7 1490.2,992.6 1490.6,992.4 1491,992.3 1491.5,992.1 1491.9,992 1492.3,991.9 1492.7,991.7 1493.1,991.6 1493.5,991.4 1493.9,991.3 1494.3,991.2 1494.7,991 1495.1,990.9 1495.5,990.7 1495.9,990.6 1496.3,990.4 1496.7,990.3 1497.1,990.2 1497.5,990 1497.9,989.9 1498.3,989.7 1498.7,989.6 1499.1,989.4 1499.5,989.3 1499.9,989.1 1500.3,989 1500.7,988.8 1501.1,988.7 1501.5,988.5 1501.9,988.4 1502.3,988.2 1502.7,988.1 1503.1,987.9 1503.5,987.8 1503.9,987.6 1504.3,987.5 1504.7,987.3 1505.1,987.2 1505.5,987 1505.9,986.9 1506.3,986.7 1506.7,986.6 1507.1,986.4 1507.5,986.3 1507.9,986.1 1508.3,985.9 1508.7,985.8 1509.1,985.6 1509.5,985.5 1509.9,985.3 1510.3,985.2 1510.7,985 1511.1,984.8 1511.5,984.7 1511.9,984.5 1512.3,984.4 1512.7,984.2 1513.1,984 1513.5,983.9 1513.9,983.7 1514.3,983.6 1514.7,983.4 1515.1,983.2 1515.5,983.1 1515.9,982.9 1516.3,982.7 1516.7,982.6 1517.1,982.4 1517.5,982.3 1517.9,982.1 1518.3,981.9 1518.7,981.8 1519.1,981.6 1519.5,981.4 1519.9,981.3 1520.3,981.1 1520.7,980.9 1521.1,980.8 1521.5,980.6 1521.9,980.4 1522.3,980.2 1522.7,980.1 1523.1,979.9 1523.5,979.7 1523.9,979.6 1524.3,979.4 1524.7,979.2 1525.1,979.1 1525.5,978.9 1525.9,978.7 1526.3,978.5 1526.7,978.4 1527.1,978.2 1527.5,978 1527.9,977.8 1528.4,977.7 1528.8,977.5 1529.2,977.3 1529.6,977.1 1530,977 1530.4,976.8 1530.8,976.6 1531.2,976.4 1531.6,976.3 1532,976.1 1532.4,975.9 1532.8,975.7 1533.2,975.5 1533.6,975.4 1534,975.2 1534.4,975 1534.8,974.8 1535.2,974.6 1535.6,974.5 1536,974.3 1536.4,974.1 1536.8,973.9 1537.2,973.7 1537.6,973.5 1538,973.4 1538.4,973.2 1538.8,973 1539.2,972.8 1539.6,972.6 1540,972.4 1540.4,972.2 1540.8,972.1 1541.2,971.9 1541.6,971.7 1542,971.5 1542.4,971.3 1542.8,971.1 1543.2,970.9 1543.6,970.7 1544,970.6 1544.4,970.4 1544.8,970.2 1545.2,970 1545.6,969.8 1546,969.6 1546.4,969.4 1546.8,969.2 1547.2,969 1547.6,968.8 1548,968.6 1548.4,968.5 1548.8,968.3 1549.2,968.1 1549.6,967.9 1550,967.7 1550.4,967.5 1550.8,967.3 1551.2,967.1 1551.6,966.9 1552,966.7 1552.4,966.5 1552.8,966.3 1553.2,966.1 1553.6,965.9 1554,965.7 1554.4,965.5 1554.8,965.3 1555.2,965.1 1555.6,964.9 1556,964.7 1556.4,964.5 1556.8,964.3 1557.2,964.1 1557.6,963.9 1558,963.7 1558.4,963.5 1558.8,963.3 1559.2,963.1 1559.6,962.9 1560,962.7 1560.4,962.5 1560.8,962.3 1561.2,962.1 1561.6,961.9 1562,961.7 1562.4,961.5 1562.8,961.3 1563.2,961.1 1563.6,960.9 1564,960.7 1564.4,960.5 1564.8,960.3 1565.3,960.1 1565.7,959.9 1566.1,959.7 1566.5,959.4 1566.9,959.2 1567.3,959 1567.7,958.8 1568.1,958.6 1568.5,958.4 1568.9,958.2 1569.3,958 1569.7,957.8 1570.1,957.6 1570.5,957.4 1570.9,957.2 1571.3,956.9 1571.7,956.7 1572.1,956.5 1572.5,956.3 1572.9,956.1 1573.3,955.9 1573.7,955.7 1574.1,955.5 1574.5,955.3 1574.9,955 1575.3,954.8 1575.7,954.6 1576.1,954.4 1576.5,954.2 1576.9,954 1577.3,953.8 1577.7,953.6 1578.1,953.3 1578.5,953.1 1578.9,952.9 1579.3,952.7 1579.7,952.5 1580.1,952.3 1580.5,952.1 1580.9,951.8 1581.3,951.6 1581.7,951.4 1582.1,951.2 1582.5,951 1582.9,950.8 1583.3,950.5 1583.7,950.3 1584.1,950.1 1584.5,949.9 1584.9,949.7 1585.3,949.5 1585.7,949.2 1586.1,949 1586.5,948.8 1586.9,948.6 1587.3,948.4 1587.7,948.1 1588.1,947.9 1588.5,947.7 1588.9,947.5 1589.3,947.3 1589.7,947 1590.1,946.8 1590.5,946.6 1590.9,946.4 1591.3,946.2 1591.7,945.9 1592.1,945.7 1592.5,945.5 1592.9,945.3 1593.3,945.1 1593.7,944.8 1594.1,944.6 1594.5,944.4 1594.9,944.2" fill="none" stroke="#111" stroke-width="3.8" stroke-linejoin="round"/>
<polyline points="993.7,1028.4 994.1,1028.4 994.5,1028.4 994.9,1028.4 995.3,1028.4 995.7,1028.4 996.1,1028.4 996.5,1028.4 996.9,1028.4 997.3,1028.4 997.7,1028.4 998.1,1028.4 998.5,1028.4 998.9,1028.4 999.3,1028.4 999.7,1028.4 1000.1,1028.4 1000.5,1028.4 1000.9,1028.4 1001.3,1028.4 1001.7,1028.4 1002.1,1028.4 1002.5,1028.4 1002.9,1028.4 1003.3,1028.4 1003.7,1028.4 1004.1,1028.4 1004.5,1028.4 1004.9,1028.4 1005.3,1028.4 1005.7,1028.4 1006.1,1028.4 1006.5,1028.5 1006.9,1028.5 1007.3,1028.5 1007.7,1028.5 1008.1,1028.5 1008.5,1028.5 1008.9,1028.5 1009.3,1028.5 1009.7,1028.5 1010.1,1028.5 1010.5,1028.5 1010.9,1028.5 1011.3,1028.5 1011.7,1028.5 1012.2,1028.5 1012.6,1028.5 1013,1028.5 1013.4,1028.5 1013.8,1028.5 1014.2,1028.5 1014.6,1028.5 1015,1028.5 1015.4,1028.5 1015.8,1028.5 1016.2,1028.5 1016.6,1028.5 1017,1028.5 1017.4,1028.5 1017.8,1028.5 1018.2,1028.5 1018.6,1028.5 1019,1028.5 1019.4,1028.5 1019.8,1028.5 1020.2,1028.5 1020.6,1028.5 1021,1028.5 1021.4,1028.5 1021.8,1028.5 1022.2,1028.5 1022.6,1028.5 1023,1028.5 1023.4,1028.5 1023.8,1028.5 1024.2,1028.5 1024.6,1028.5 1025,1028.5 1025.4,1028.6 1025.8,1028.6 1026.2,1028.6 1026.6,1028.6 1027,1028.6 1027.4,1028.6 1027.8,1028.6 1028.2,1028.6 1028.6,1028.6 1029,1028.6 1029.4,1028.6 1029.8,1028.6 1030.2,1028.6 1030.6,1028.6 1031,1028.6 1031.4,1028.6 1031.8,1028.6 1032.2,1028.6 1032.6,1028.6 1033,1028.6 1033.4,1028.6 1033.8,1028.6 1034.2,1028.6 1034.6,1028.6 1035,1028.6 1035.4,1028.6 1035.8,1028.6 1036.2,1028.6 1036.6,1028.6 1037,1028.7 1037.4,1028.7 1037.8,1028.7 1038.2,1028.7 1038.6,1028.7 1039,1028.7 1039.4,1028.7 1039.8,1028.7 1040.2,1028.7 1040.6,1028.7 1041,1028.7 1041.4,1028.7 1041.8,1028.7 1042.2,1028.7 1042.6,1028.7 1043,1028.7 1043.4,1028.7 1043.8,1028.7 1044.2,1028.7 1044.6,1028.7 1045,1028.7 1045.4,1028.7 1045.8,1028.8 1046.2,1028.8 1046.6,1028.8 1047,1028.8 1047.4,1028.8 1047.8,1028.8 1048.2,1028.8 1048.6,1028.8 1049.1,1028.8 1049.5,1028.8 1049.9,1028.8 1050.3,1028.8 1050.7,1028.8 1051.1,1028.8 1051.5,1028.8 1051.9,1028.8 1052.3,1028.8 1052.7,1028.8 1053.1,1028.8 1053.5,1028.9 1053.9,1028.9 1054.3,1028.9 1054.7,1028.9 1055.1,1028.9 1055.5,1028.9 1055.9,1028.9 1056.3,1028.9 1056.7,1028.9 1057.1,1028.9 1057.5,1028.9 1057.9,1028.9 1058.3,1028.9 1058.7,1028.9 1059.1,1028.9 1059.5,1028.9 1059.9,1028.9 1060.3,1028.9 1060.7,1029 1061.1,1029 1061.5,1029 1061.9,1029 1062.3,1029 1062.7,1029 1063.1,1029 1063.5,1029 1063.9,1029 1064.3,1029 1064.7,1029 1065.1,1029 1065.5,1029 1065.9,1029 1066.3,1029 1066.7,1029.1 1067.1,1029.1 1067.5,1029.1 1067.9,1029.1 1068.3,1029.1 1068.7,1029.1 1069.1,1029.1 1069.5,1029.1 1069.9,1029.1 1070.3,1029.1 1070.7,1029.1 1071.1,1029.1 1071.5,1029.1 1071.9,1029.1 1072.3,1029.1 1072.7,1029.2 1073.1,1029.2 1073.5,1029.2 1073.9,1029.2 1074.3,1029.2 1074.7,1029.2 1075.1,1029.2 1075.5,1029.2 1075.9,1029.2 1076.3,1029.2 1076.7,1029.2 1077.1,1029.2 1077.5,1029.2 1077.9,1029.2 1078.3,1029.3 1078.7,1029.3 1079.1,1029.3 1079.5,1029.3 1079.9,1029.3 1080.3,1029.3 1080.7,1029.3 1081.1,1029.3 1081.5,1029.3 1081.9,1029.3 1082.3,1029.3 1082.7,1029.3 1083.1,1029.3 1083.5,1029.4 1083.9,1029.4 1084.3,1029.4 1084.7,1029.4 1085.1,1029.4 1085.5,1029.4 1086,1029.4 1086.4,1029.4 1086.8,1029.4 1087.2,1029.4 1087.6,1029.4 1088,1029.4 1088.4,1029.5 1088.8,1029.5 1089.2,1029.5 1089.6,1029.5 1090,1029.5 1090.4,1029.5 1090.8,1029.5 1091.2,1029.5 1091.6,1029.5 1092,1029.5 1092.4,1029.5 1092.8,1029.5 1093.2,1029.6 1093.6,1029.6 1094,1029.6 1094.4,1029.6 1094.8,1029.6 1095.2,1029.6 1095.6,1029.6 1096,1029.6 1096.4,1029.6 1096.8,1029.6 1097.2,1029.6 1097.6,1029.6 1098,1029.7 1098.4,1029.7 1098.8,1029.7 1099.2,1029.7 1099.6,1029.7 1100,1029.7 1100.4,1029.7 1100.8,1029.7 1101.2,1029.7 1101.6,1029.7 1102,1029.7 1102.4,1029.8 1102.8,1029.8 1103.2,1029.8 1103.6,1029.8 1104,1029.8 1104.4,1029.8 1104.8,1029.8 1105.2,1029.8 1105.6,1029.8 1106,1029.8 1106.4,1029.8 1106.8,1029.9 1107.2,1029.9 1107.6,1029.9 1108,1029.9 1108.4,1029.9 1108.8,1029.9 1109.2,1029.9 1109.6,1029.9 1110,1029.9 1110.4,1029.9 1110.8,1029.9 1111.2,1030 1111.6,1030 1112,1030 1112.4,1030 1112.8,1030 1113.2,1030 1113.6,1030 1114,1030 1114.4,1030 1114.8,1030 1115.2,1030 1115.6,1030.1 1116,1030.1 1116.4,1030.1 1116.8,1030.1 1117.2,1030.1 1117.6,1030.1 1118,1030.1 1118.4,1030.1 1118.8,1030.1 1119.2,1030.1 1119.6,1030.2 1120,1030.2 1120.4,1030.2 1120.8,1030.2 1121.2,1030.2 1121.6,1030.2 1122,1030.2 1122.4,1030.2 1122.9,1030.2 1123.3,1030.2 1123.7,1030.2 1124.1,1030.3 1124.5,1030.3 1124.9,1030.3 1125.3,1030.3 1125.7,1030.3 1126.1,1030.3 1126.5,1030.3 1126.9,1030.3 1127.3,1030.3 1127.7,1030.3 1128.1,1030.4 1128.5,1030.4 1128.9,1030.4 1129.3,1030.4 1129.7,1030.4 1130.1,1030.4 1130.5,1030.4 1130.9,1030.4 1131.3,1030.4 1131.7,1030.4 1132.1,1030.5 1132.5,1030.5 1132.9,1030.5 1133.3,1030.5 1133.7,1030.5 1134.1,1030.5 1134.5,1030.5 1134.9,1030.5 1135.3,1030.5 1135.7,1030.5 1136.1,1030.6 1136.5,1030.6 1136.9,1030.6 1137.3,1030.6 1137.7,1030.6 1138.1,1030.6 1138.5,1030.6 1138.9,1030.6 1139.3,1030.6 1139.7,1030.6 1140.1,1030.7 1140.5,1030.7 1140.9,1030.7 1141.3,1030.7 1141.7,1030.7 1142.1,1030.7 1142.5,1030.7 1142.9,1030.7 1143.3,1030.7 1143.7,1030.7 1144.1,1030.8 1144.5,1030.8 1144.9,1030.8 1145.3,1030.8 1145.7,1030.8 1146.1,1030.8 1146.5,1030.8 1146.9,1030.8 1147.3,1030.8 1147.7,1030.8 1148.1,1030.9 1148.5,1030.9 1148.9,1030.9 1149.3,1030.9 1149.7,1030.9 1150.1,1030.9 1150.5,1030.9 1150.9,1030.9 1151.3,1030.9 1151.7,1030.9 1152.1,1030.9 1152.5,1031 1152.9,1031 1153.3,1031 1153.7,1031 1154.1,1031 1154.5,1031 1154.9,1031 1155.3,1031 1155.7,1031 1156.1,1031 1156.5,1031.1 1156.9,1031.1 1157.3,1031.1 1157.7,1031.1 1158.1,1031.1 1158.5,1031.1 1158.9,1031.1 1159.3,1031.1 1159.8,1031.1 1160.2,1031.1 1160.6,1031.1 1161,1031.2 1161.4,1031.2 1161.8,1031.2 1162.2,1031.2 1162.6,1031.2 1163,1031.2 1163.4,1031.2 1163.8,1031.2 1164.2,1031.2 1164.6,1031.2 1165,1031.2 1165.4,1031.3 1165.8,1031.3 1166.2,1031.3 1166.6,1031.3 1167,1031.3 1167.4,1031.3 1167.8,1031.3 1168.2,1031.3 1168.6,1031.3 1169,1031.3 1169.4,1031.3 1169.8,1031.4 1170.2,1031.4 1170.6,1031.4 1171,1031.4 1171.4,1031.4 1171.8,1031.4 1172.2,1031.4 1172.6,1031.4 1173,1031.4 1173.4,1031.4 1173.8,1031.4 1174.2,1031.4 1174.6,1031.5 1175,1031.5 1175.4,1031.5 1175.8,1031.5 1176.2,1031.5 1176.6,1031.5 1177,1031.5 1177.4,1031.5 1177.8,1031.5 1178.2,1031.5 1178.6,1031.5 1179,1031.5 1179.4,1031.5 1179.8,1031.6 1180.2,1031.6 1180.6,1031.6 1181,1031.6 1181.4,1031.6 1181.8,1031.6 1182.2,1031.6 1182.6,1031.6 1183,1031.6 1183.4,1031.6 1183.8,1031.6 1184.2,1031.6 1184.6,1031.6 1185,1031.6 1185.4,1031.6 1185.8,1031.7 1186.2,1031.7 1186.6,1031.7 1187,1031.7 1187.4,1031.7 1187.8,1031.7 1188.2,1031.7 1188.6,1031.7 1189,1031.7 1189.4,1031.7 1189.8,1031.7 1190.2,1031.7 1190.6,1031.7 1191,1031.7 1191.4,1031.7 1191.8,1031.7 1192.2,1031.7 1192.6,1031.8 1193,1031.8 1193.4,1031.8 1193.8,1031.8 1194.2,1031.8 1194.6,1031.8 1195,1031.8 1195.4,1031.8 1195.8,1031.8 1196.2,1031.8 1196.7,1031.8 1197.1,1031.8 1197.5,1031.8 1197.9,1031.8 1198.3,1031.8 1198.7,1031.8 1199.1,1031.8 1199.5,1031.8 1199.9,1031.8 1200.3,1031.8 1200.7,1031.8 1201.1,1031.8 1201.5,1031.8 1201.9,1031.8 1202.3,1031.9 1202.7,1031.9 1203.1,1031.9 1203.5,1031.9 1203.9,1031.9 1204.3,1031.9 1204.7,1031.9 1205.1,1031.9 1205.5,1031.9 1205.9,1031.9 1206.3,1031.9 1206.7,1031.9 1207.1,1031.9 1207.5,1031.9 1207.9,1031.9 1208.3,1031.9 1208.7,1031.9 1209.1,1031.9 1209.5,1031.9 1209.9,1031.9 1210.3,1031.9 1210.7,1031.9 1211.1,1031.9 1211.5,1031.9 1211.9,1031.9 1212.3,1031.9 1212.7,1031.9 1213.1,1031.9 1213.5,1031.9 1213.9,1031.9 1214.3,1031.9 1214.7,1031.9 1215.1,1031.9 1215.5,1031.9 1215.9,1031.9 1216.3,1031.9 1216.7,1031.9 1217.1,1031.9 1217.5,1031.9 1217.9,1031.9 1218.3,1031.9 1218.7,1031.9 1219.1,1031.8 1219.5,1031.8 1219.9,1031.8 1220.3,1031.8 1220.7,1031.8 1221.1,1031.8 1221.5,1031.8 1221.9,1031.8 1222.3,1031.8 1222.7,1031.8 1223.1,1031.8 1223.5,1031.8 1223.9,1031.8 1224.3,1031.8 1224.7,1031.8 1225.1,1031.8 1225.5,1031.8 1225.9,1031.8 1226.3,1031.8 1226.7,1031.7 1227.1,1031.7 1227.5,1031.7 1227.9,1031.7 1228.3,1031.7 1228.7,1031.7 1229.1,1031.7 1229.5,1031.7 1229.9,1031.7 1230.3,1031.7 1230.7,1031.7 1231.1,1031.7 1231.5,1031.6 1231.9,1031.6 1232.3,1031.6 1232.7,1031.6 1233.1,1031.6 1233.6,1031.6 1234,1031.6 1234.4,1031.6 1234.8,1031.6 1235.2,1031.5 1235.6,1031.5 1236,1031.5 1236.4,1031.5 1236.8,1031.5 1237.2,1031.5 1237.6,1031.5 1238,1031.4 1238.4,1031.4 1238.8,1031.4 1239.2,1031.4 1239.6,1031.4 1240,1031.4 1240.4,1031.3 1240.8,1031.3 1241.2,1031.3 1241.6,1031.3 1242,1031.3 1242.4,1031.3 1242.8,1031.2 1243.2,1031.2 1243.6,1031.2 1244,1031.2 1244.4,1031.2 1244.8,1031.1 1245.2,1031.1 1245.6,1031.1 1246,1031.1 1246.4,1031 1246.8,1031 1247.2,1031 1247.6,1031 1248,1030.9 1248.4,1030.9 1248.8,1030.9 1249.2,1030.9 1249.6,1030.8 1250,1030.8 1250.4,1030.8 1250.8,1030.8 1251.2,1030.7 1251.6,1030.7 1252,1030.7 1252.4,1030.6 1252.8,1030.6 1253.2,1030.6 1253.6,1030.6 1254,1030.5 1254.4,1030.5 1254.8,1030.5 1255.2,1030.4 1255.6,1030.4 1256,1030.4 1256.4,1030.3 1256.8,1030.3 1257.2,1030.2 1257.6,1030.2 1258,1030.2 1258.4,1030.1 1258.8,1030.1 1259.2,1030 1259.6,1030 1260,1030 1260.4,1029.9 1260.8,1029.9 1261.2,1029.8 1261.6,1029.8 1262,1029.8 1262.4,1029.7 1262.8,1029.7 1263.2,1029.6 1263.6,1029.6 1264,1029.5 1264.4,1029.5 1264.8,1029.4 1265.2,1029.4 1265.6,1029.3 1266,1029.3 1266.4,1029.2 1266.8,1029.2 1267.2,1029.1 1267.6,1029 1268,1029 1268.4,1028.9 1268.8,1028.9 1269.2,1028.8 1269.6,1028.7 1270,1028.7 1270.5,1028.6 1270.9,1028.6 1271.3,1028.5 1271.7,1028.4 1272.1,1028.4 1272.5,1028.3 1272.9,1028.2 1273.3,1028.2 1273.7,1028.1 1274.1,1028 1274.5,1027.9 1274.9,1027.9 1275.3,1027.8 1275.7,1027.7 1276.1,1027.6 1276.5,1027.5 1276.9,1027.5 1277.3,1027.4 1277.7,1027.3 1278.1,1027.2 1278.5,1027.1 1278.9,1027 1279.3,1026.9 1279.7,1026.9 1280.1,1026.8 1280.5,1026.7 1280.9,1026.6 1281.3,1026.5 1281.7,1026.4 1282.1,1026.3 1282.5,1026.2 1282.9,1026.1 1283.3,1026 1283.7,1025.9 1284.1,1025.7 1284.5,1025.6 1284.9,1025.5 1285.3,1025.4 1285.7,1025.3 1286.1,1025.2 1286.5,1025 1286.9,1024.9 1287.3,1024.8 1287.7,1024.7 1288.1,1024.5 1288.5,1024.4 1288.9,1024.3 1289.3,1024.1 1289.7,1024 1290.1,1023.8 1290.5,1023.7 1290.9,1023.5 1291.3,1023.4 1291.7,1023.2 1292.1,1023.1 1292.5,1022.9 1292.9,1022.7 1293.3,1022.6 1293.7,1022.4 1294.1,1022.2 1294.5,1022.1 1294.9,1021.9 1295.3,1021.7 1295.7,1021.5 1296.1,1021.3 1296.5,1021.1 1296.9,1020.9 1297.3,1020.7 1297.7,1020.5 1298.1,1020.3 1298.5,1020.1 1298.9,1019.8 1299.3,1019.6 1299.7,1019.4 1300.1,1019.1 1300.5,1018.9 1300.9,1018.6 1301.3,1018.4 1301.7,1018.1 1302.1,1017.9 1302.5,1017.6 1302.9,1017.3 1303.3,1017 1303.7,1016.7 1304.1,1016.4 1304.5,1016.1 1304.9,1015.8 1305.3,1015.4 1305.7,1015.1 1306.1,1014.7 1306.5,1014.4 1306.9,1014 1307.4,1013.6 1307.8,1013.2 1308.2,1012.8 1308.6,1012.4 1309,1012 1309.4,1011.5 1309.8,1011 1310.2,1010.5 1310.6,1010 1311,1009.5 1311.4,1009 1311.8,1008.4 1312.2,1007.8 1312.6,1007.2 1313,1006.5 1313.4,1005.8 1313.8,1005 1314.2,1004.2 1314.6,1003.4 1315,1002.5 1315.4,1001.5 1315.8,1000.4 1316.2,999.2 1316.6,997.7 1317,996.1 1317.4,993.9 1317.8,990.3 1318.2,986.8 1318.6,986.5 1319,986.2 1319.4,986 1319.8,985.8 1320.2,985.6 1320.6,985.5 1321,985.3 1321.4,985.2 1321.8,985.1 1322.2,984.9 1322.6,984.8 1323,984.7 1323.4,984.6 1323.8,984.5 1324.2,984.4 1324.6,984.3 1325,984.3 1325.4,984.2 1325.8,984.1 1326.2,984 1326.6,984 1327,983.9 1327.4,983.8 1327.8,983.8 1328.2,983.7 1328.6,983.7 1329,983.6 1329.4,983.6 1329.8,983.6 1330.2,983.5 1330.6,983.5 1331,983.4 1331.4,983.4 1331.8,983.4 1332.2,983.4 1332.6,983.4 1333,983.3 1333.4,983.3 1333.8,983.3 1334.2,983.3 1334.6,983.3 1335,983.3 1335.4,983.3 1335.8,983.3 1336.2,983.3 1336.6,983.3 1337,983.4 1337.4,983.4 1337.8,983.4 1338.2,983.4 1338.6,983.5 1339,983.5 1339.4,983.6 1339.8,983.6 1340.2,983.7 1340.6,983.7 1341,983.8 1341.4,983.8 1341.8,983.9 1342.2,984 1342.6,984.1 1343,984.2 1343.4,984.2 1343.9,984.3 1344.3,984.4 1344.7,984.5 1345.1,984.7 1345.5,984.8 1345.9,984.9 1346.3,985 1346.7,985.2 1347.1,985.3 1347.5,985.5 1347.9,985.6 1348.3,985.8 1348.7,986 1349.1,986.2 1349.5,986.3 1349.9,986.5 1350.3,986.7 1350.7,987 1351.1,987.2 1351.5,987.4 1351.9,987.7 1352.3,987.9 1352.7,988.2 1353.1,988.4 1353.5,988.7 1353.9,989 1354.3,989.3 1354.7,989.6 1355.1,990 1355.5,990.3 1355.9,990.6 1356.3,991 1356.7,991.4 1357.1,991.8 1357.5,992.2 1357.9,992.6 1358.3,993 1358.7,993.5 1359.1,993.9 1359.5,994.4 1359.9,994.9 1360.3,995.4 1360.7,996 1361.1,996.5 1361.5,997.1 1361.9,997.7 1362.3,998.3 1362.7,998.9 1363.1,999.6 1363.5,1000.2 1363.9,1000.9 1364.3,1001.6 1364.7,1002.4 1365.1,1003.1 1365.5,1003.9 1365.9,1004.7 1366.3,1005.6 1366.7,1006.4 1367.1,1007.3 1367.5,1008.2 1367.9,1009.2 1368.3,1010.2 1368.7,1011.2 1369.1,1012.2 1369.5,1013.3 1369.9,1014.4 1370.3,1015.6 1370.7,1016.8 1371.1,1018 1371.5,1019.2 1371.9,1020.5 1372.3,1021.9 1372.7,1023.2 1373.1,1024.7 1373.5,1026.1 1373.9,1027.6 1374.3,1029.2 1374.7,1030.8 1375.1,1032.4 1375.5,1034.1 1375.9,1035.9 1376.3,1037.7 1376.7,1039.6 1377.1,1041.5 1377.5,1043.4 1377.9,1045.5 1378.3,1047.5 1378.7,1049.7 1379.1,1051.9 1379.5,1054.1 1379.9,1056.4 1380.3,1058.8 1380.8,1061.3 1381.2,1063.8 1381.6,1066.4 1382,1069 1382.4,1071.8 1382.8,1074.6 1383.2,1077.4 1383.6,1080.3 1384,1083.3 1384.4,1086.4 1384.8,1089.6 1385.2,1092.8 1385.6,1096.1 1386,1099.4 1386.4,1102.9 1386.8,1106.4 1387.2,1110 1387.6,1113.6 1388,1117.3 1388.4,1121.1 1388.8,1125 1389.2,1128.9 1389.6,1132.9 1390,1136.9 1390.4,1141.1 1390.8,1145.2 1391.2,1149.4 1391.6,1153.7 1392,1158 1392.4,1162.3 1392.8,1166.7 1393.2,1171.2 1393.6,1175.6 1394,1180.1 1394.4,1184.6 1394.8,1189 1395.2,1193.5 1395.6,1198 1396,1202.5 1396.4,1207 1396.8,1211.5 1397.2,1215.9 1397.6,1220.3 1398,1224.6 1398.4,1228.9 1398.8,1233.1 1399.2,1237.3 1399.6,1241.4 1400,1245.4 1400.4,1249.3 1400.8,1253.1 1401.2,1256.8 1401.6,1260.4 1402,1263.9 1402.4,1267.2 1402.8,1270.4 1403.2,1273.5 1403.6,1276.4 1404,1279.2 1404.4,1281.9 1404.8,1284.3 1405.2,1286.7 1405.6,1288.8 1406,1290.8 1406.4,1292.6 1406.8,1294.3 1407.2,1295.8 1407.6,1297.1 1408,1298.3 1408.4,1299.3 1408.8,1300.1 1409.2,1300.7 1409.6,1301.2 1410,1301.6 1410.4,1301.8 1410.8,1301.8 1411.2,1301.7 1411.6,1301.4 1412,1301 1412.4,1300.5 1412.8,1299.8 1413.2,1299 1413.6,1298.1 1414,1297.1 1414.4,1296 1414.8,1294.7 1415.2,1293.4 1415.6,1291.9 1416,1290.4 1416.4,1288.8 1416.8,1287.1 1417.2,1285.3 1417.7,1283.5 1418.1,1281.6 1418.5,1279.7 1418.9,1277.6 1419.3,1275.6 1419.7,1273.5 1420.1,1271.3 1420.5,1269.1 1420.9,1266.9 1421.3,1264.7 1421.7,1262.4 1422.1,1260.1 1422.5,1257.8 1422.9,1255.5 1423.3,1253.1 1423.7,1250.7 1424.1,1248.4 1424.5,1246 1424.9,1243.6 1425.3,1241.3 1425.7,1238.9 1426.1,1236.5 1426.5,1234.1 1426.9,1231.8 1427.3,1229.4 1427.7,1227.1 1428.1,1224.7 1428.5,1222.4 1428.9,1220.1 1429.3,1217.8 1429.7,1215.5 1430.1,1213.2 1430.5,1211 1430.9,1208.8 1431.3,1206.6 1431.7,1204.4 1432.1,1202.2 1432.5,1200 1432.9,1197.9 1433.3,1195.8 1433.7,1193.7 1434.1,1191.6 1434.5,1189.5 1434.9,1187.5 1435.3,1185.5 1435.7,1183.5 1436.1,1181.5 1436.5,1179.6 1436.9,1177.7 1437.3,1175.8 1437.7,1173.9 1438.1,1172 1438.5,1170.2 1438.9,1168.4 1439.3,1166.6 1439.7,1164.8 1440.1,1163 1440.5,1161.3 1440.9,1159.6 1441.3,1157.9 1441.7,1156.2 1442.1,1154.6 1442.5,1153 1442.9,1151.4 1443.3,1149.8 1443.7,1148.2 1444.1,1146.6 1444.5,1145.1 1444.9,1143.6 1445.3,1142.1 1445.7,1140.6 1446.1,1139.2 1446.5,1137.7 1446.9,1136.3 1447.3,1134.9 1447.7,1133.5 1448.1,1132.1 1448.5,1130.8 1448.9,1129.4 1449.3,1128.1 1449.7,1126.8 1450.1,1125.5 1450.5,1124.2 1450.9,1123 1451.3,1121.7 1451.7,1120.5 1452.1,1119.3 1452.5,1118.1 1452.9,1116.9 1453.3,1115.7 1453.7,1114.6 1454.1,1113.4 1454.6,1112.3 1455,1111.2 1455.4,1110.1 1455.8,1109 1456.2,1107.9 1456.6,1106.8 1457,1105.8 1457.4,1104.7 1457.8,1103.7 1458.2,1102.7 1458.6,1101.6 1459,1100.6 1459.4,1099.7 1459.8,1098.7 1460.2,1097.7 1460.6,1096.7 1461,1095.8 1461.4,1094.9 1461.8,1093.9 1462.2,1093 1462.6,1092.1 1463,1091.2 1463.4,1090.3 1463.8,1089.4 1464.2,1088.6 1464.6,1087.7 1465,1086.8 1465.4,1086 1465.8,1085.2 1466.2,1084.3 1466.6,1083.5 1467,1082.7 1467.4,1081.9 1467.8,1081.1 1468.2,1080.3 1468.6,1079.5 1469,1078.7 1469.4,1078 1469.8,1077.2 1470.2,1076.4 1470.6,1075.7 1471,1074.9 1471.4,1074.2 1471.8,1073.5 1472.2,1072.7 1472.6,1072 1473,1071.3 1473.4,1070.6 1473.8,1069.9 1474.2,1069.2 1474.6,1068.5 1475,1067.9 1475.4,1067.2 1475.8,1066.5 1476.2,1065.8 1476.6,1065.2 1477,1064.5 1477.4,1063.9 1477.8,1063.2 1478.2,1062.6 1478.6,1062 1479,1061.3 1479.4,1060.7 1479.8,1060.1 1480.2,1059.5 1480.6,1058.9 1481,1058.2 1481.4,1057.6 1481.8,1057 1482.2,1056.5 1482.6,1055.9 1483,1055.3 1483.4,1054.7 1483.8,1054.1 1484.2,1053.5 1484.6,1053 1485,1052.4 1485.4,1051.8 1485.8,1051.3 1486.2,1050.7 1486.6,1050.2 1487,1049.6 1487.4,1049.1 1487.8,1048.5 1488.2,1048 1488.6,1047.5 1489,1046.9 1489.4,1046.4 1489.8,1045.9 1490.2,1045.4 1490.6,1044.8 1491,1044.3 1491.5,1043.8 1491.9,1043.3 1492.3,1042.8 1492.7,1042.3 1493.1,1041.8 1493.5,1041.3 1493.9,1040.8 1494.3,1040.3 1494.7,1039.8 1495.1,1039.3 1495.5,1038.8 1495.9,1038.3 1496.3,1037.9 1496.7,1037.4 1497.1,1036.9 1497.5,1036.4 1497.9,1036 1498.3,1035.5 1498.7,1035 1499.1,1034.6 1499.5,1034.1 1499.9,1033.6 1500.3,1033.2 1500.7,1032.7 1501.1,1032.3 1501.5,1031.8 1501.9,1031.4 1502.3,1030.9 1502.7,1030.5 1503.1,1030 1503.5,1029.6 1503.9,1029.1 1504.3,1028.7 1504.7,1028.2 1505.1,1027.8 1505.5,1027.4 1505.9,1026.9 1506.3,1026.5 1506.7,1026.1 1507.1,1025.6 1507.5,1025.2 1507.9,1024.8 1508.3,1024.4 1508.7,1023.9 1509.1,1023.5 1509.5,1023.1 1509.9,1022.7 1510.3,1022.3 1510.7,1021.8 1511.1,1021.4 1511.5,1021 1511.9,1020.6 1512.3,1020.2 1512.7,1019.8 1513.1,1019.4 1513.5,1019 1513.9,1018.6 1514.3,1018.2 1514.7,1017.8 1515.1,1017.3 1515.5,1016.9 1515.9,1016.5 1516.3,1016.1 1516.7,1015.7 1517.1,1015.3 1517.5,1015 1517.9,1014.6 1518.3,1014.2 1518.7,1013.8 1519.1,1013.4 1519.5,1013 1519.9,1012.6 1520.3,1012.2 1520.7,1011.8 1521.1,1011.4 1521.5,1011 1521.9,1010.7 1522.3,1010.3 1522.7,1009.9 1523.1,1009.5 1523.5,1009.1 1523.9,1008.7 1524.3,1008.4 1524.7,1008 1525.1,1007.6 1525.5,1007.2 1525.9,1006.8 1526.3,1006.5 1526.7,1006.1 1527.1,1005.7 1527.5,1005.3 1527.9,1004.9 1528.4,1004.6 1528.8,1004.2 1529.2,1003.8 1529.6,1003.4 1530,1003.1 1530.4,1002.7 1530.8,1002.3 1531.2,1002 1531.6,1001.6 1532,1001.2 1532.4,1000.9 1532.8,1000.5 1533.2,1000.1 1533.6,999.7 1534,999.4 1534.4,999 1534.8,998.6 1535.2,998.3 1535.6,997.9 1536,997.5 1536.4,997.2 1536.8,996.8 1537.2,996.4 1537.6,996.1 1538,995.7 1538.4,995.4 1538.8,995 1539.2,994.6 1539.6,994.3 1540,993.9 1540.4,993.5 1540.8,993.2 1541.2,992.8 1541.6,992.5 1542,992.1 1542.4,991.7 1542.8,991.4 1543.2,991 1543.6,990.7 1544,990.3 1544.4,989.9 1544.8,989.6 1545.2,989.2 1545.6,988.9 1546,988.5 1546.4,988.1 1546.8,987.8 1547.2,987.4 1547.6,987.1 1548,986.7 1548.4,986.4 1548.8,986 1549.2,985.6 1549.6,985.3 1550,984.9 1550.4,984.6 1550.8,984.2 1551.2,983.9 1551.6,983.5 1552,983.1 1552.4,982.8 1552.8,982.4 1553.2,982.1 1553.6,981.7 1554,981.4 1554.4,981 1554.8,980.6 1555.2,980.3 1555.6,979.9 1556,979.6 1556.4,979.2 1556.8,978.9 1557.2,978.5 1557.6,978.2 1558,977.8 1558.4,977.4 1558.8,977.1 1559.2,976.7 1559.6,976.4 1560,976 1560.4,975.7 1560.8,975.3 1561.2,975 1561.6,974.6 1562,974.2 1562.4,973.9 1562.8,973.5 1563.2,973.2 1563.6,972.8 1564,972.5 1564.4,972.1 1564.8,971.7 1565.3,971.4 1565.7,971 1566.1,970.7 1566.5,970.3 1566.9,970 1567.3,969.6 1567.7,969.2 1568.1,968.9 1568.5,968.5 1568.9,968.2 1569.3,967.8 1569.7,967.5 1570.1,967.1 1570.5,966.7 1570.9,966.4 1571.3,966 1571.7,965.7 1572.1,965.3 1572.5,964.9 1572.9,964.6 1573.3,964.2 1573.7,963.9 1574.1,963.5 1574.5,963.1 1574.9,962.8 1575.3,962.4 1575.7,962.1 1576.1,961.7 1576.5,961.3 1576.9,961 1577.3,960.6 1577.7,960.3 1578.1,959.9 1578.5,959.5 1578.9,959.2 1579.3,958.8 1579.7,958.4 1580.1,958.1 1580.5,957.7 1580.9,957.3 1581.3,957 1581.7,956.6 1582.1,956.3 1582.5,955.9 1582.9,955.5 1583.3,955.2 1583.7,954.8 1584.1,954.4 1584.5,954.1 1584.9,953.7 1585.3,953.3 1585.7,953 1586.1,952.6 1586.5,952.2 1586.9,951.9 1587.3,951.5 1587.7,951.1 1588.1,950.8 1588.5,950.4 1588.9,950 1589.3,949.6 1589.7,949.3 1590.1,948.9 1590.5,948.5 1590.9,948.2 1591.3,947.8 1591.7,947.4 1592.1,947 1592.5,946.7 1592.9,946.3 1593.3,945.9 1593.7,945.5 1594.1,945.2 1594.5,944.8 1594.9,944.4" fill="none" stroke="#fb1212" stroke-width="3.8" stroke-linejoin="round"/>
<g style="font-size:40px"><text x="7" y="38.5">(a)</text><text x="850" y="38.5">(b)</text>
<text x="7" y="883">(c)</text><text x="850" y="883">(d)</text></g>
<text x="167" y="83.5">Quartz prism</text><text x="1010" y="84">Sapphire prism</text>
<text x="167" y="927">Quartz prism</text><text x="1010" y="927">Sapphire prism</text>
<text x="202" y="207">Specimen</text><text x="202" y="247">n=1.0~1.8</text>
<text x="203.5" y="297">Al</text><text transform="translate(238,297) scale(0.86,1)" style="font-size:26px">2</text><text x="252.6" y="297">O</text><text transform="translate(281.8,297) scale(0.86,1)" style="font-size:27px">3</text><text x="420" y="297" text-anchor="end">6 nm</text>
<text x="203" y="337">Al</text><text x="420" y="337" text-anchor="end">21 nm</text>
<text x="202" y="400" style="fill:#101c26;stroke:#101c26">Quartz</text>
<text x="370" y="460.5">DUV light</text><text x="369" y="497">λ =266 nm</text>
<path d="M361.5 342v94" stroke="#555" stroke-width="2.2"/>
<path d="M362 396c12 0 25-8 28-19" stroke="#555" stroke-width="2.2" fill="none"/>
<path d="M436 426L375 356" stroke="#7a1fa2" stroke-width="4"/>
<path d="M363 343L392 362L377 373Z" fill="#7a1fa2"/>
<text x="1045" y="235">Specimen</text>
<text x="1046.3" y="297">Al</text><text transform="translate(1080.8,297) scale(0.86,1)" style="font-size:26px">2</text><text x="1095.4" y="297">O</text><text transform="translate(1124.6,297) scale(0.86,1)" style="font-size:27px">3</text><text x="1263" y="297" text-anchor="end">6 nm</text>
<text x="1046" y="337">Al</text><text x="1263" y="337" text-anchor="end">21 nm</text>
<text x="1045" y="400" style="fill:#101c26;stroke:#101c26">Sapphire</text>
<text x="444" y="1161" text-anchor="end">Air</text><text x="444" y="1204" text-anchor="end">n=1.0</text>
<text x="730" y="1067" text-anchor="end" style="fill:#fb1212;stroke:#fb1212">Water</text><text x="730" y="1110" text-anchor="end" style="fill:#fb1212;stroke:#fb1212">n=1.37</text>
<text x="1216" y="1161" text-anchor="end">Air</text><text x="1216" y="1204" text-anchor="end">n=1.0</text>
<text x="1455" y="1161" style="fill:#fb1212;stroke:#fb1212">Water</text><text x="1455" y="1204" style="fill:#fb1212;stroke:#fb1212">n=1.37</text>
<defs><linearGradient id="cb" x1="0" y1="1" x2="0" y2="0"><stop offset="0" stop-color="#000"/><stop offset=".52" stop-color="#f00"/><stop offset=".56" stop-color="#f00"/><stop offset=".94" stop-color="#ff0"/><stop offset="1" stop-color="#ff0"/></linearGradient></defs>
<rect x="1657" y="197.5" width="33.5" height="427.5" fill="url(#cb)" stroke="#444" stroke-width="1.6"/>
<text x="1694.5" y="208">1.0</text><text x="1698" y="638">0</text>
<text transform="translate(1764,410) rotate(-90)" text-anchor="middle">Reflectance</text>
</svg>
</div></body></html>
